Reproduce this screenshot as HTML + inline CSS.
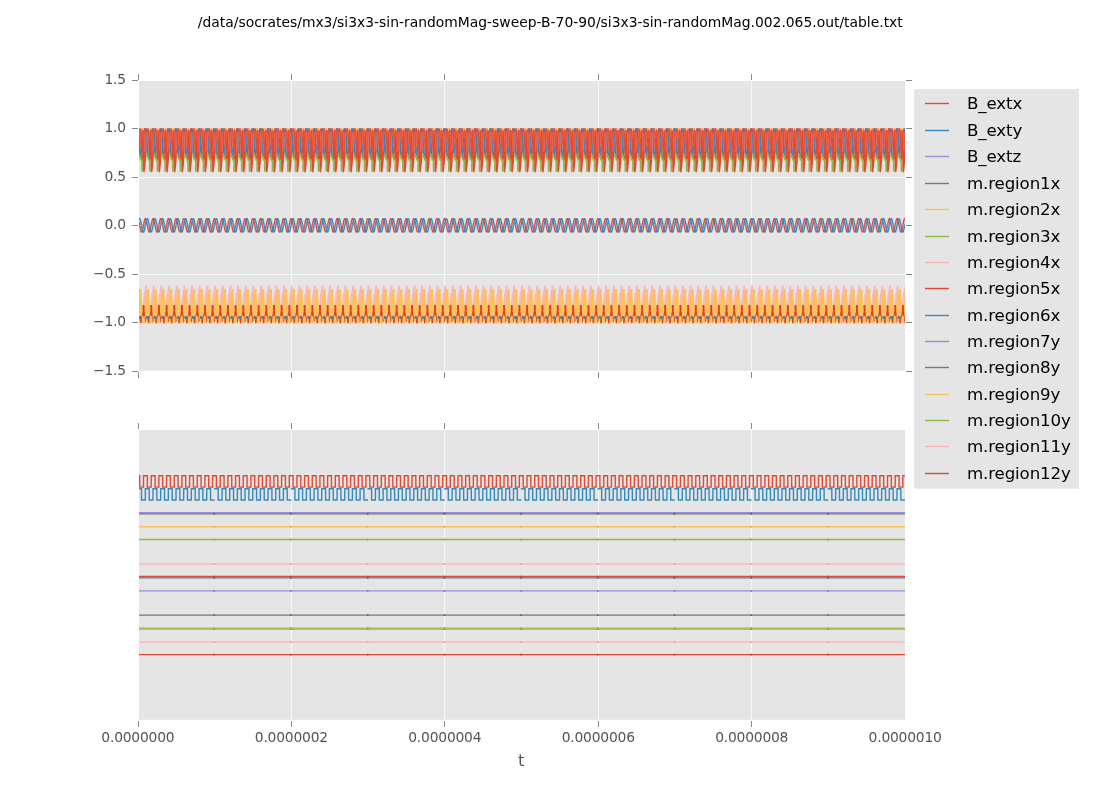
<!DOCTYPE html>
<html lang="en"><head><meta charset="utf-8"><title>table.txt plot</title>
<style>html,body{margin:0;padding:0;background:#fff;}body{width:1100px;height:800px;overflow:hidden;}svg{display:block;}text{font-family:"DejaVu Sans", "Liberation Sans", sans-serif;}</style></head><body>
<svg width="1100" height="800" viewBox="0 0 1100 800">
<rect width="1100" height="800" fill="#fff"/>
<text x="550.3" y="26.5" font-size="13.89" text-anchor="middle" fill="#000">/data/socrates/mx3/si3x3-sin-randomMag-sweep-B-70-90/si3x3-sin-randomMag.002.065.out/table.txt</text>
<rect x="139.00" y="81.00" width="766.00" height="289.80" fill="#E5E5E5"/>
<rect x="139.00" y="430.00" width="766.00" height="289.80" fill="#E5E5E5"/>
<path d="M291.50 81.00V371.00M291.50 430.00V720.00M444.50 81.00V371.00M444.50 430.00V720.00M598.50 81.00V371.00M598.50 430.00V720.00M751.50 81.00V371.00M751.50 430.00V720.00M139.00 128.50H905.00M139.00 177.50H905.00M139.00 225.50H905.00M139.00 274.50H905.00M139.00 322.50H905.00" stroke="#fff" stroke-width="0.72" fill="none"/>
<defs><clipPath id="ct"><rect x="139" y="81" width="766" height="290"/></clipPath><clipPath id="cb"><rect x="139" y="430" width="766" height="290"/></clipPath></defs>
<g clip-path="url(#ct)">
<path d="M130.93 150.00L133.53 156.00L135.43 158.00L135.43 171.60L133.58 171.80L133.53 161.00L132.23 160.30L132.13 158.00L130.93 157.50ZM138.60 150.00L141.20 156.00L143.10 158.00L143.10 171.60L141.25 171.80L141.20 161.00L139.90 160.30L139.80 158.00L138.60 157.50ZM146.27 150.00L148.87 156.00L150.77 158.00L150.77 171.60L148.92 171.80L148.87 161.00L147.57 160.30L147.47 158.00L146.27 157.50ZM153.94 150.00L156.54 156.00L158.44 158.00L158.44 171.60L156.59 171.80L156.54 161.00L155.24 160.30L155.14 158.00L153.94 157.50ZM161.61 150.00L164.21 156.00L166.11 158.00L166.11 171.60L164.26 171.80L164.21 161.00L162.91 160.30L162.81 158.00L161.61 157.50ZM169.28 150.00L171.88 156.00L173.78 158.00L173.78 171.60L171.93 171.80L171.88 161.00L170.58 160.30L170.48 158.00L169.28 157.50ZM176.95 150.00L179.55 156.00L181.45 158.00L181.45 171.60L179.60 171.80L179.55 161.00L178.25 160.30L178.15 158.00L176.95 157.50ZM184.62 150.00L187.22 156.00L189.12 158.00L189.12 171.60L187.27 171.80L187.22 161.00L185.92 160.30L185.82 158.00L184.62 157.50ZM192.29 150.00L194.89 156.00L196.79 158.00L196.79 171.60L194.94 171.80L194.89 161.00L193.59 160.30L193.49 158.00L192.29 157.50ZM199.96 150.00L202.56 156.00L204.46 158.00L204.46 171.60L202.61 171.80L202.56 161.00L201.26 160.30L201.16 158.00L199.96 157.50ZM207.63 150.00L210.23 156.00L212.13 158.00L212.13 171.60L210.28 171.80L210.23 161.00L208.93 160.30L208.83 158.00L207.63 157.50ZM215.30 150.00L217.90 156.00L219.80 158.00L219.80 171.60L217.95 171.80L217.90 161.00L216.60 160.30L216.50 158.00L215.30 157.50ZM222.97 150.00L225.57 156.00L227.47 158.00L227.47 171.60L225.62 171.80L225.57 161.00L224.27 160.30L224.17 158.00L222.97 157.50ZM230.64 150.00L233.24 156.00L235.14 158.00L235.14 171.60L233.29 171.80L233.24 161.00L231.94 160.30L231.84 158.00L230.64 157.50ZM238.31 150.00L240.91 156.00L242.81 158.00L242.81 171.60L240.96 171.80L240.91 161.00L239.61 160.30L239.51 158.00L238.31 157.50ZM245.98 150.00L248.58 156.00L250.48 158.00L250.48 171.60L248.63 171.80L248.58 161.00L247.28 160.30L247.18 158.00L245.98 157.50ZM253.65 150.00L256.25 156.00L258.15 158.00L258.15 171.60L256.30 171.80L256.25 161.00L254.95 160.30L254.85 158.00L253.65 157.50ZM261.32 150.00L263.92 156.00L265.82 158.00L265.82 171.60L263.97 171.80L263.92 161.00L262.62 160.30L262.52 158.00L261.32 157.50ZM268.99 150.00L271.59 156.00L273.49 158.00L273.49 171.60L271.64 171.80L271.59 161.00L270.29 160.30L270.19 158.00L268.99 157.50ZM276.66 150.00L279.26 156.00L281.16 158.00L281.16 171.60L279.31 171.80L279.26 161.00L277.96 160.30L277.86 158.00L276.66 157.50ZM284.33 150.00L286.93 156.00L288.83 158.00L288.83 171.60L286.98 171.80L286.93 161.00L285.63 160.30L285.53 158.00L284.33 157.50ZM292.00 150.00L294.60 156.00L296.50 158.00L296.50 171.60L294.65 171.80L294.60 161.00L293.30 160.30L293.20 158.00L292.00 157.50ZM299.67 150.00L302.27 156.00L304.17 158.00L304.17 171.60L302.32 171.80L302.27 161.00L300.97 160.30L300.87 158.00L299.67 157.50ZM307.34 150.00L309.94 156.00L311.84 158.00L311.84 171.60L309.99 171.80L309.94 161.00L308.64 160.30L308.54 158.00L307.34 157.50ZM315.01 150.00L317.61 156.00L319.51 158.00L319.51 171.60L317.66 171.80L317.61 161.00L316.31 160.30L316.21 158.00L315.01 157.50ZM322.68 150.00L325.28 156.00L327.18 158.00L327.18 171.60L325.33 171.80L325.28 161.00L323.98 160.30L323.88 158.00L322.68 157.50ZM330.35 150.00L332.95 156.00L334.85 158.00L334.85 171.60L333.00 171.80L332.95 161.00L331.65 160.30L331.55 158.00L330.35 157.50ZM338.02 150.00L340.62 156.00L342.52 158.00L342.52 171.60L340.67 171.80L340.62 161.00L339.32 160.30L339.22 158.00L338.02 157.50ZM345.69 150.00L348.29 156.00L350.19 158.00L350.19 171.60L348.34 171.80L348.29 161.00L346.99 160.30L346.89 158.00L345.69 157.50ZM353.36 150.00L355.96 156.00L357.86 158.00L357.86 171.60L356.01 171.80L355.96 161.00L354.66 160.30L354.56 158.00L353.36 157.50ZM361.03 150.00L363.63 156.00L365.53 158.00L365.53 171.60L363.68 171.80L363.63 161.00L362.33 160.30L362.23 158.00L361.03 157.50ZM368.70 150.00L371.30 156.00L373.20 158.00L373.20 171.60L371.35 171.80L371.30 161.00L370.00 160.30L369.90 158.00L368.70 157.50ZM376.37 150.00L378.97 156.00L380.87 158.00L380.87 171.60L379.02 171.80L378.97 161.00L377.67 160.30L377.57 158.00L376.37 157.50ZM384.04 150.00L386.64 156.00L388.54 158.00L388.54 171.60L386.69 171.80L386.64 161.00L385.34 160.30L385.24 158.00L384.04 157.50ZM391.71 150.00L394.31 156.00L396.21 158.00L396.21 171.60L394.36 171.80L394.31 161.00L393.01 160.30L392.91 158.00L391.71 157.50ZM399.38 150.00L401.98 156.00L403.88 158.00L403.88 171.60L402.03 171.80L401.98 161.00L400.68 160.30L400.58 158.00L399.38 157.50ZM407.05 150.00L409.65 156.00L411.55 158.00L411.55 171.60L409.70 171.80L409.65 161.00L408.35 160.30L408.25 158.00L407.05 157.50ZM414.72 150.00L417.32 156.00L419.22 158.00L419.22 171.60L417.37 171.80L417.32 161.00L416.02 160.30L415.92 158.00L414.72 157.50ZM422.39 150.00L424.99 156.00L426.89 158.00L426.89 171.60L425.04 171.80L424.99 161.00L423.69 160.30L423.59 158.00L422.39 157.50ZM430.06 150.00L432.66 156.00L434.56 158.00L434.56 171.60L432.71 171.80L432.66 161.00L431.36 160.30L431.26 158.00L430.06 157.50ZM437.73 150.00L440.33 156.00L442.23 158.00L442.23 171.60L440.38 171.80L440.33 161.00L439.03 160.30L438.93 158.00L437.73 157.50ZM445.40 150.00L448.00 156.00L449.90 158.00L449.90 171.60L448.05 171.80L448.00 161.00L446.70 160.30L446.60 158.00L445.40 157.50ZM453.07 150.00L455.67 156.00L457.57 158.00L457.57 171.60L455.72 171.80L455.67 161.00L454.37 160.30L454.27 158.00L453.07 157.50ZM460.74 150.00L463.34 156.00L465.24 158.00L465.24 171.60L463.39 171.80L463.34 161.00L462.04 160.30L461.94 158.00L460.74 157.50ZM468.41 150.00L471.01 156.00L472.91 158.00L472.91 171.60L471.06 171.80L471.01 161.00L469.71 160.30L469.61 158.00L468.41 157.50ZM476.08 150.00L478.68 156.00L480.58 158.00L480.58 171.60L478.73 171.80L478.68 161.00L477.38 160.30L477.28 158.00L476.08 157.50ZM483.75 150.00L486.35 156.00L488.25 158.00L488.25 171.60L486.40 171.80L486.35 161.00L485.05 160.30L484.95 158.00L483.75 157.50ZM491.42 150.00L494.02 156.00L495.92 158.00L495.92 171.60L494.07 171.80L494.02 161.00L492.72 160.30L492.62 158.00L491.42 157.50ZM499.09 150.00L501.69 156.00L503.59 158.00L503.59 171.60L501.74 171.80L501.69 161.00L500.39 160.30L500.29 158.00L499.09 157.50ZM506.76 150.00L509.36 156.00L511.26 158.00L511.26 171.60L509.41 171.80L509.36 161.00L508.06 160.30L507.96 158.00L506.76 157.50ZM514.43 150.00L517.03 156.00L518.93 158.00L518.93 171.60L517.08 171.80L517.03 161.00L515.73 160.30L515.63 158.00L514.43 157.50ZM522.10 150.00L524.70 156.00L526.60 158.00L526.60 171.60L524.75 171.80L524.70 161.00L523.40 160.30L523.30 158.00L522.10 157.50ZM529.77 150.00L532.37 156.00L534.27 158.00L534.27 171.60L532.42 171.80L532.37 161.00L531.07 160.30L530.97 158.00L529.77 157.50ZM537.44 150.00L540.04 156.00L541.94 158.00L541.94 171.60L540.09 171.80L540.04 161.00L538.74 160.30L538.64 158.00L537.44 157.50ZM545.11 150.00L547.71 156.00L549.61 158.00L549.61 171.60L547.76 171.80L547.71 161.00L546.41 160.30L546.31 158.00L545.11 157.50ZM552.78 150.00L555.38 156.00L557.28 158.00L557.28 171.60L555.43 171.80L555.38 161.00L554.08 160.30L553.98 158.00L552.78 157.50ZM560.45 150.00L563.05 156.00L564.95 158.00L564.95 171.60L563.10 171.80L563.05 161.00L561.75 160.30L561.65 158.00L560.45 157.50ZM568.12 150.00L570.72 156.00L572.62 158.00L572.62 171.60L570.77 171.80L570.72 161.00L569.42 160.30L569.32 158.00L568.12 157.50ZM575.79 150.00L578.39 156.00L580.29 158.00L580.29 171.60L578.44 171.80L578.39 161.00L577.09 160.30L576.99 158.00L575.79 157.50ZM583.46 150.00L586.06 156.00L587.96 158.00L587.96 171.60L586.11 171.80L586.06 161.00L584.76 160.30L584.66 158.00L583.46 157.50ZM591.13 150.00L593.73 156.00L595.63 158.00L595.63 171.60L593.78 171.80L593.73 161.00L592.43 160.30L592.33 158.00L591.13 157.50ZM598.80 150.00L601.40 156.00L603.30 158.00L603.30 171.60L601.45 171.80L601.40 161.00L600.10 160.30L600.00 158.00L598.80 157.50ZM606.47 150.00L609.07 156.00L610.97 158.00L610.97 171.60L609.12 171.80L609.07 161.00L607.77 160.30L607.67 158.00L606.47 157.50ZM614.14 150.00L616.74 156.00L618.64 158.00L618.64 171.60L616.79 171.80L616.74 161.00L615.44 160.30L615.34 158.00L614.14 157.50ZM621.81 150.00L624.41 156.00L626.31 158.00L626.31 171.60L624.46 171.80L624.41 161.00L623.11 160.30L623.01 158.00L621.81 157.50ZM629.48 150.00L632.08 156.00L633.98 158.00L633.98 171.60L632.13 171.80L632.08 161.00L630.78 160.30L630.68 158.00L629.48 157.50ZM637.15 150.00L639.75 156.00L641.65 158.00L641.65 171.60L639.80 171.80L639.75 161.00L638.45 160.30L638.35 158.00L637.15 157.50ZM644.82 150.00L647.42 156.00L649.32 158.00L649.32 171.60L647.47 171.80L647.42 161.00L646.12 160.30L646.02 158.00L644.82 157.50ZM652.49 150.00L655.09 156.00L656.99 158.00L656.99 171.60L655.14 171.80L655.09 161.00L653.79 160.30L653.69 158.00L652.49 157.50ZM660.16 150.00L662.76 156.00L664.66 158.00L664.66 171.60L662.81 171.80L662.76 161.00L661.46 160.30L661.36 158.00L660.16 157.50ZM667.83 150.00L670.43 156.00L672.33 158.00L672.33 171.60L670.48 171.80L670.43 161.00L669.13 160.30L669.03 158.00L667.83 157.50ZM675.50 150.00L678.10 156.00L680.00 158.00L680.00 171.60L678.15 171.80L678.10 161.00L676.80 160.30L676.70 158.00L675.50 157.50ZM683.17 150.00L685.77 156.00L687.67 158.00L687.67 171.60L685.82 171.80L685.77 161.00L684.47 160.30L684.37 158.00L683.17 157.50ZM690.84 150.00L693.44 156.00L695.34 158.00L695.34 171.60L693.49 171.80L693.44 161.00L692.14 160.30L692.04 158.00L690.84 157.50ZM698.51 150.00L701.11 156.00L703.01 158.00L703.01 171.60L701.16 171.80L701.11 161.00L699.81 160.30L699.71 158.00L698.51 157.50ZM706.18 150.00L708.78 156.00L710.68 158.00L710.68 171.60L708.83 171.80L708.78 161.00L707.48 160.30L707.38 158.00L706.18 157.50ZM713.85 150.00L716.45 156.00L718.35 158.00L718.35 171.60L716.50 171.80L716.45 161.00L715.15 160.30L715.05 158.00L713.85 157.50ZM721.52 150.00L724.12 156.00L726.02 158.00L726.02 171.60L724.17 171.80L724.12 161.00L722.82 160.30L722.72 158.00L721.52 157.50ZM729.19 150.00L731.79 156.00L733.69 158.00L733.69 171.60L731.84 171.80L731.79 161.00L730.49 160.30L730.39 158.00L729.19 157.50ZM736.86 150.00L739.46 156.00L741.36 158.00L741.36 171.60L739.51 171.80L739.46 161.00L738.16 160.30L738.06 158.00L736.86 157.50ZM744.53 150.00L747.13 156.00L749.03 158.00L749.03 171.60L747.18 171.80L747.13 161.00L745.83 160.30L745.73 158.00L744.53 157.50ZM752.20 150.00L754.80 156.00L756.70 158.00L756.70 171.60L754.85 171.80L754.80 161.00L753.50 160.30L753.40 158.00L752.20 157.50ZM759.87 150.00L762.47 156.00L764.37 158.00L764.37 171.60L762.52 171.80L762.47 161.00L761.17 160.30L761.07 158.00L759.87 157.50ZM767.54 150.00L770.14 156.00L772.04 158.00L772.04 171.60L770.19 171.80L770.14 161.00L768.84 160.30L768.74 158.00L767.54 157.50ZM775.21 150.00L777.81 156.00L779.71 158.00L779.71 171.60L777.86 171.80L777.81 161.00L776.51 160.30L776.41 158.00L775.21 157.50ZM782.88 150.00L785.48 156.00L787.38 158.00L787.38 171.60L785.53 171.80L785.48 161.00L784.18 160.30L784.08 158.00L782.88 157.50ZM790.55 150.00L793.15 156.00L795.05 158.00L795.05 171.60L793.20 171.80L793.15 161.00L791.85 160.30L791.75 158.00L790.55 157.50ZM798.22 150.00L800.82 156.00L802.72 158.00L802.72 171.60L800.87 171.80L800.82 161.00L799.52 160.30L799.42 158.00L798.22 157.50ZM805.89 150.00L808.49 156.00L810.39 158.00L810.39 171.60L808.54 171.80L808.49 161.00L807.19 160.30L807.09 158.00L805.89 157.50ZM813.56 150.00L816.16 156.00L818.06 158.00L818.06 171.60L816.21 171.80L816.16 161.00L814.86 160.30L814.76 158.00L813.56 157.50ZM821.23 150.00L823.83 156.00L825.73 158.00L825.73 171.60L823.88 171.80L823.83 161.00L822.53 160.30L822.43 158.00L821.23 157.50ZM828.90 150.00L831.50 156.00L833.40 158.00L833.40 171.60L831.55 171.80L831.50 161.00L830.20 160.30L830.10 158.00L828.90 157.50ZM836.57 150.00L839.17 156.00L841.07 158.00L841.07 171.60L839.22 171.80L839.17 161.00L837.87 160.30L837.77 158.00L836.57 157.50ZM844.24 150.00L846.84 156.00L848.74 158.00L848.74 171.60L846.89 171.80L846.84 161.00L845.54 160.30L845.44 158.00L844.24 157.50ZM851.91 150.00L854.51 156.00L856.41 158.00L856.41 171.60L854.56 171.80L854.51 161.00L853.21 160.30L853.11 158.00L851.91 157.50ZM859.58 150.00L862.18 156.00L864.08 158.00L864.08 171.60L862.23 171.80L862.18 161.00L860.88 160.30L860.78 158.00L859.58 157.50ZM867.25 150.00L869.85 156.00L871.75 158.00L871.75 171.60L869.90 171.80L869.85 161.00L868.55 160.30L868.45 158.00L867.25 157.50ZM874.92 150.00L877.52 156.00L879.42 158.00L879.42 171.60L877.57 171.80L877.52 161.00L876.22 160.30L876.12 158.00L874.92 157.50ZM882.59 150.00L885.19 156.00L887.09 158.00L887.09 171.60L885.24 171.80L885.19 161.00L883.89 160.30L883.79 158.00L882.59 157.50ZM890.26 150.00L892.86 156.00L894.76 158.00L894.76 171.60L892.91 171.80L892.86 161.00L891.56 160.30L891.46 158.00L890.26 157.50ZM897.93 150.00L900.53 156.00L902.43 158.00L902.43 171.60L900.58 171.80L900.53 161.00L899.23 160.30L899.13 158.00L897.93 157.50ZM905.60 150.00L908.20 156.00L910.10 158.00L910.10 171.60L908.25 171.80L908.20 161.00L906.90 160.30L906.80 158.00L905.60 157.50Z" fill="#8EBA42" />
<path d="M130.73 130.00L131.73 130.00L133.53 154.00L133.53 157.00L130.93 152.00ZM138.40 130.00L139.40 130.00L141.20 154.00L141.20 157.00L138.60 152.00ZM146.07 130.00L147.07 130.00L148.87 154.00L148.87 157.00L146.27 152.00ZM153.74 130.00L154.74 130.00L156.54 154.00L156.54 157.00L153.94 152.00ZM161.41 130.00L162.41 130.00L164.21 154.00L164.21 157.00L161.61 152.00ZM169.08 130.00L170.08 130.00L171.88 154.00L171.88 157.00L169.28 152.00ZM176.75 130.00L177.75 130.00L179.55 154.00L179.55 157.00L176.95 152.00ZM184.42 130.00L185.42 130.00L187.22 154.00L187.22 157.00L184.62 152.00ZM192.09 130.00L193.09 130.00L194.89 154.00L194.89 157.00L192.29 152.00ZM199.76 130.00L200.76 130.00L202.56 154.00L202.56 157.00L199.96 152.00ZM207.43 130.00L208.43 130.00L210.23 154.00L210.23 157.00L207.63 152.00ZM215.10 130.00L216.10 130.00L217.90 154.00L217.90 157.00L215.30 152.00ZM222.77 130.00L223.77 130.00L225.57 154.00L225.57 157.00L222.97 152.00ZM230.44 130.00L231.44 130.00L233.24 154.00L233.24 157.00L230.64 152.00ZM238.11 130.00L239.11 130.00L240.91 154.00L240.91 157.00L238.31 152.00ZM245.78 130.00L246.78 130.00L248.58 154.00L248.58 157.00L245.98 152.00ZM253.45 130.00L254.45 130.00L256.25 154.00L256.25 157.00L253.65 152.00ZM261.12 130.00L262.12 130.00L263.92 154.00L263.92 157.00L261.32 152.00ZM268.79 130.00L269.79 130.00L271.59 154.00L271.59 157.00L268.99 152.00ZM276.46 130.00L277.46 130.00L279.26 154.00L279.26 157.00L276.66 152.00ZM284.13 130.00L285.13 130.00L286.93 154.00L286.93 157.00L284.33 152.00ZM291.80 130.00L292.80 130.00L294.60 154.00L294.60 157.00L292.00 152.00ZM299.47 130.00L300.47 130.00L302.27 154.00L302.27 157.00L299.67 152.00ZM307.14 130.00L308.14 130.00L309.94 154.00L309.94 157.00L307.34 152.00ZM314.81 130.00L315.81 130.00L317.61 154.00L317.61 157.00L315.01 152.00ZM322.48 130.00L323.48 130.00L325.28 154.00L325.28 157.00L322.68 152.00ZM330.15 130.00L331.15 130.00L332.95 154.00L332.95 157.00L330.35 152.00ZM337.82 130.00L338.82 130.00L340.62 154.00L340.62 157.00L338.02 152.00ZM345.49 130.00L346.49 130.00L348.29 154.00L348.29 157.00L345.69 152.00ZM353.16 130.00L354.16 130.00L355.96 154.00L355.96 157.00L353.36 152.00ZM360.83 130.00L361.83 130.00L363.63 154.00L363.63 157.00L361.03 152.00ZM368.50 130.00L369.50 130.00L371.30 154.00L371.30 157.00L368.70 152.00ZM376.17 130.00L377.17 130.00L378.97 154.00L378.97 157.00L376.37 152.00ZM383.84 130.00L384.84 130.00L386.64 154.00L386.64 157.00L384.04 152.00ZM391.51 130.00L392.51 130.00L394.31 154.00L394.31 157.00L391.71 152.00ZM399.18 130.00L400.18 130.00L401.98 154.00L401.98 157.00L399.38 152.00ZM406.85 130.00L407.85 130.00L409.65 154.00L409.65 157.00L407.05 152.00ZM414.52 130.00L415.52 130.00L417.32 154.00L417.32 157.00L414.72 152.00ZM422.19 130.00L423.19 130.00L424.99 154.00L424.99 157.00L422.39 152.00ZM429.86 130.00L430.86 130.00L432.66 154.00L432.66 157.00L430.06 152.00ZM437.53 130.00L438.53 130.00L440.33 154.00L440.33 157.00L437.73 152.00ZM445.20 130.00L446.20 130.00L448.00 154.00L448.00 157.00L445.40 152.00ZM452.87 130.00L453.87 130.00L455.67 154.00L455.67 157.00L453.07 152.00ZM460.54 130.00L461.54 130.00L463.34 154.00L463.34 157.00L460.74 152.00ZM468.21 130.00L469.21 130.00L471.01 154.00L471.01 157.00L468.41 152.00ZM475.88 130.00L476.88 130.00L478.68 154.00L478.68 157.00L476.08 152.00ZM483.55 130.00L484.55 130.00L486.35 154.00L486.35 157.00L483.75 152.00ZM491.22 130.00L492.22 130.00L494.02 154.00L494.02 157.00L491.42 152.00ZM498.89 130.00L499.89 130.00L501.69 154.00L501.69 157.00L499.09 152.00ZM506.56 130.00L507.56 130.00L509.36 154.00L509.36 157.00L506.76 152.00ZM514.23 130.00L515.23 130.00L517.03 154.00L517.03 157.00L514.43 152.00ZM521.90 130.00L522.90 130.00L524.70 154.00L524.70 157.00L522.10 152.00ZM529.57 130.00L530.57 130.00L532.37 154.00L532.37 157.00L529.77 152.00ZM537.24 130.00L538.24 130.00L540.04 154.00L540.04 157.00L537.44 152.00ZM544.91 130.00L545.91 130.00L547.71 154.00L547.71 157.00L545.11 152.00ZM552.58 130.00L553.58 130.00L555.38 154.00L555.38 157.00L552.78 152.00ZM560.25 130.00L561.25 130.00L563.05 154.00L563.05 157.00L560.45 152.00ZM567.92 130.00L568.92 130.00L570.72 154.00L570.72 157.00L568.12 152.00ZM575.59 130.00L576.59 130.00L578.39 154.00L578.39 157.00L575.79 152.00ZM583.26 130.00L584.26 130.00L586.06 154.00L586.06 157.00L583.46 152.00ZM590.93 130.00L591.93 130.00L593.73 154.00L593.73 157.00L591.13 152.00ZM598.60 130.00L599.60 130.00L601.40 154.00L601.40 157.00L598.80 152.00ZM606.27 130.00L607.27 130.00L609.07 154.00L609.07 157.00L606.47 152.00ZM613.94 130.00L614.94 130.00L616.74 154.00L616.74 157.00L614.14 152.00ZM621.61 130.00L622.61 130.00L624.41 154.00L624.41 157.00L621.81 152.00ZM629.28 130.00L630.28 130.00L632.08 154.00L632.08 157.00L629.48 152.00ZM636.95 130.00L637.95 130.00L639.75 154.00L639.75 157.00L637.15 152.00ZM644.62 130.00L645.62 130.00L647.42 154.00L647.42 157.00L644.82 152.00ZM652.29 130.00L653.29 130.00L655.09 154.00L655.09 157.00L652.49 152.00ZM659.96 130.00L660.96 130.00L662.76 154.00L662.76 157.00L660.16 152.00ZM667.63 130.00L668.63 130.00L670.43 154.00L670.43 157.00L667.83 152.00ZM675.30 130.00L676.30 130.00L678.10 154.00L678.10 157.00L675.50 152.00ZM682.97 130.00L683.97 130.00L685.77 154.00L685.77 157.00L683.17 152.00ZM690.64 130.00L691.64 130.00L693.44 154.00L693.44 157.00L690.84 152.00ZM698.31 130.00L699.31 130.00L701.11 154.00L701.11 157.00L698.51 152.00ZM705.98 130.00L706.98 130.00L708.78 154.00L708.78 157.00L706.18 152.00ZM713.65 130.00L714.65 130.00L716.45 154.00L716.45 157.00L713.85 152.00ZM721.32 130.00L722.32 130.00L724.12 154.00L724.12 157.00L721.52 152.00ZM728.99 130.00L729.99 130.00L731.79 154.00L731.79 157.00L729.19 152.00ZM736.66 130.00L737.66 130.00L739.46 154.00L739.46 157.00L736.86 152.00ZM744.33 130.00L745.33 130.00L747.13 154.00L747.13 157.00L744.53 152.00ZM752.00 130.00L753.00 130.00L754.80 154.00L754.80 157.00L752.20 152.00ZM759.67 130.00L760.67 130.00L762.47 154.00L762.47 157.00L759.87 152.00ZM767.34 130.00L768.34 130.00L770.14 154.00L770.14 157.00L767.54 152.00ZM775.01 130.00L776.01 130.00L777.81 154.00L777.81 157.00L775.21 152.00ZM782.68 130.00L783.68 130.00L785.48 154.00L785.48 157.00L782.88 152.00ZM790.35 130.00L791.35 130.00L793.15 154.00L793.15 157.00L790.55 152.00ZM798.02 130.00L799.02 130.00L800.82 154.00L800.82 157.00L798.22 152.00ZM805.69 130.00L806.69 130.00L808.49 154.00L808.49 157.00L805.89 152.00ZM813.36 130.00L814.36 130.00L816.16 154.00L816.16 157.00L813.56 152.00ZM821.03 130.00L822.03 130.00L823.83 154.00L823.83 157.00L821.23 152.00ZM828.70 130.00L829.70 130.00L831.50 154.00L831.50 157.00L828.90 152.00ZM836.37 130.00L837.37 130.00L839.17 154.00L839.17 157.00L836.57 152.00ZM844.04 130.00L845.04 130.00L846.84 154.00L846.84 157.00L844.24 152.00ZM851.71 130.00L852.71 130.00L854.51 154.00L854.51 157.00L851.91 152.00ZM859.38 130.00L860.38 130.00L862.18 154.00L862.18 157.00L859.58 152.00ZM867.05 130.00L868.05 130.00L869.85 154.00L869.85 157.00L867.25 152.00ZM874.72 130.00L875.72 130.00L877.52 154.00L877.52 157.00L874.92 152.00ZM882.39 130.00L883.39 130.00L885.19 154.00L885.19 157.00L882.59 152.00ZM890.06 130.00L891.06 130.00L892.86 154.00L892.86 157.00L890.26 152.00ZM897.73 130.00L898.73 130.00L900.53 154.00L900.53 157.00L897.93 152.00ZM905.40 130.00L906.40 130.00L908.20 154.00L908.20 157.00L905.60 152.00Z" fill="#348ABD" />
<path d="M131.33 128.30L139.00 128.30L139.00 131.00L138.60 135.00L138.58 152.00L138.28 160.00L137.33 170.30L136.83 172.40L135.83 172.20L135.43 171.20L135.33 159.50L133.58 158.50L133.53 154.00L132.73 145.00L131.58 135.00ZM139.00 128.30L146.67 128.30L146.67 131.00L146.27 135.00L146.25 152.00L145.95 160.00L145.00 170.30L144.50 172.40L143.50 172.20L143.10 171.20L143.00 159.50L141.25 158.50L141.20 154.00L140.40 145.00L139.25 135.00ZM146.67 128.30L154.34 128.30L154.34 131.00L153.94 135.00L153.92 152.00L153.62 160.00L152.67 170.30L152.17 172.40L151.17 172.20L150.77 171.20L150.67 159.50L148.92 158.50L148.87 154.00L148.07 145.00L146.92 135.00ZM154.34 128.30L162.01 128.30L162.01 131.00L161.61 135.00L161.59 152.00L161.29 160.00L160.34 170.30L159.84 172.40L158.84 172.20L158.44 171.20L158.34 159.50L156.59 158.50L156.54 154.00L155.74 145.00L154.59 135.00ZM162.01 128.30L169.68 128.30L169.68 131.00L169.28 135.00L169.26 152.00L168.96 160.00L168.01 170.30L167.51 172.40L166.51 172.20L166.11 171.20L166.01 159.50L164.26 158.50L164.21 154.00L163.41 145.00L162.26 135.00ZM169.68 128.30L177.35 128.30L177.35 131.00L176.95 135.00L176.93 152.00L176.63 160.00L175.68 170.30L175.18 172.40L174.18 172.20L173.78 171.20L173.68 159.50L171.93 158.50L171.88 154.00L171.08 145.00L169.93 135.00ZM177.35 128.30L185.02 128.30L185.02 131.00L184.62 135.00L184.60 152.00L184.30 160.00L183.35 170.30L182.85 172.40L181.85 172.20L181.45 171.20L181.35 159.50L179.60 158.50L179.55 154.00L178.75 145.00L177.60 135.00ZM185.02 128.30L192.69 128.30L192.69 131.00L192.29 135.00L192.27 152.00L191.97 160.00L191.02 170.30L190.52 172.40L189.52 172.20L189.12 171.20L189.02 159.50L187.27 158.50L187.22 154.00L186.42 145.00L185.27 135.00ZM192.69 128.30L200.36 128.30L200.36 131.00L199.96 135.00L199.94 152.00L199.64 160.00L198.69 170.30L198.19 172.40L197.19 172.20L196.79 171.20L196.69 159.50L194.94 158.50L194.89 154.00L194.09 145.00L192.94 135.00ZM200.36 128.30L208.03 128.30L208.03 131.00L207.63 135.00L207.61 152.00L207.31 160.00L206.36 170.30L205.86 172.40L204.86 172.20L204.46 171.20L204.36 159.50L202.61 158.50L202.56 154.00L201.76 145.00L200.61 135.00ZM208.03 128.30L215.70 128.30L215.70 131.00L215.30 135.00L215.28 152.00L214.98 160.00L214.03 170.30L213.53 172.40L212.53 172.20L212.13 171.20L212.03 159.50L210.28 158.50L210.23 154.00L209.43 145.00L208.28 135.00ZM215.70 128.30L223.37 128.30L223.37 131.00L222.97 135.00L222.95 152.00L222.65 160.00L221.70 170.30L221.20 172.40L220.20 172.20L219.80 171.20L219.70 159.50L217.95 158.50L217.90 154.00L217.10 145.00L215.95 135.00ZM223.37 128.30L231.04 128.30L231.04 131.00L230.64 135.00L230.62 152.00L230.32 160.00L229.37 170.30L228.87 172.40L227.87 172.20L227.47 171.20L227.37 159.50L225.62 158.50L225.57 154.00L224.77 145.00L223.62 135.00ZM231.04 128.30L238.71 128.30L238.71 131.00L238.31 135.00L238.29 152.00L237.99 160.00L237.04 170.30L236.54 172.40L235.54 172.20L235.14 171.20L235.04 159.50L233.29 158.50L233.24 154.00L232.44 145.00L231.29 135.00ZM238.71 128.30L246.38 128.30L246.38 131.00L245.98 135.00L245.96 152.00L245.66 160.00L244.71 170.30L244.21 172.40L243.21 172.20L242.81 171.20L242.71 159.50L240.96 158.50L240.91 154.00L240.11 145.00L238.96 135.00ZM246.38 128.30L254.05 128.30L254.05 131.00L253.65 135.00L253.63 152.00L253.33 160.00L252.38 170.30L251.88 172.40L250.88 172.20L250.48 171.20L250.38 159.50L248.63 158.50L248.58 154.00L247.78 145.00L246.63 135.00ZM254.05 128.30L261.72 128.30L261.72 131.00L261.32 135.00L261.30 152.00L261.00 160.00L260.05 170.30L259.55 172.40L258.55 172.20L258.15 171.20L258.05 159.50L256.30 158.50L256.25 154.00L255.45 145.00L254.30 135.00ZM261.72 128.30L269.39 128.30L269.39 131.00L268.99 135.00L268.97 152.00L268.67 160.00L267.72 170.30L267.22 172.40L266.22 172.20L265.82 171.20L265.72 159.50L263.97 158.50L263.92 154.00L263.12 145.00L261.97 135.00ZM269.39 128.30L277.06 128.30L277.06 131.00L276.66 135.00L276.64 152.00L276.34 160.00L275.39 170.30L274.89 172.40L273.89 172.20L273.49 171.20L273.39 159.50L271.64 158.50L271.59 154.00L270.79 145.00L269.64 135.00ZM277.06 128.30L284.73 128.30L284.73 131.00L284.33 135.00L284.31 152.00L284.01 160.00L283.06 170.30L282.56 172.40L281.56 172.20L281.16 171.20L281.06 159.50L279.31 158.50L279.26 154.00L278.46 145.00L277.31 135.00ZM284.73 128.30L292.40 128.30L292.40 131.00L292.00 135.00L291.98 152.00L291.68 160.00L290.73 170.30L290.23 172.40L289.23 172.20L288.83 171.20L288.73 159.50L286.98 158.50L286.93 154.00L286.13 145.00L284.98 135.00ZM292.40 128.30L300.07 128.30L300.07 131.00L299.67 135.00L299.65 152.00L299.35 160.00L298.40 170.30L297.90 172.40L296.90 172.20L296.50 171.20L296.40 159.50L294.65 158.50L294.60 154.00L293.80 145.00L292.65 135.00ZM300.07 128.30L307.74 128.30L307.74 131.00L307.34 135.00L307.32 152.00L307.02 160.00L306.07 170.30L305.57 172.40L304.57 172.20L304.17 171.20L304.07 159.50L302.32 158.50L302.27 154.00L301.47 145.00L300.32 135.00ZM307.74 128.30L315.41 128.30L315.41 131.00L315.01 135.00L314.99 152.00L314.69 160.00L313.74 170.30L313.24 172.40L312.24 172.20L311.84 171.20L311.74 159.50L309.99 158.50L309.94 154.00L309.14 145.00L307.99 135.00ZM315.41 128.30L323.08 128.30L323.08 131.00L322.68 135.00L322.66 152.00L322.36 160.00L321.41 170.30L320.91 172.40L319.91 172.20L319.51 171.20L319.41 159.50L317.66 158.50L317.61 154.00L316.81 145.00L315.66 135.00ZM323.08 128.30L330.75 128.30L330.75 131.00L330.35 135.00L330.33 152.00L330.03 160.00L329.08 170.30L328.58 172.40L327.58 172.20L327.18 171.20L327.08 159.50L325.33 158.50L325.28 154.00L324.48 145.00L323.33 135.00ZM330.75 128.30L338.42 128.30L338.42 131.00L338.02 135.00L338.00 152.00L337.70 160.00L336.75 170.30L336.25 172.40L335.25 172.20L334.85 171.20L334.75 159.50L333.00 158.50L332.95 154.00L332.15 145.00L331.00 135.00ZM338.42 128.30L346.09 128.30L346.09 131.00L345.69 135.00L345.67 152.00L345.37 160.00L344.42 170.30L343.92 172.40L342.92 172.20L342.52 171.20L342.42 159.50L340.67 158.50L340.62 154.00L339.82 145.00L338.67 135.00ZM346.09 128.30L353.76 128.30L353.76 131.00L353.36 135.00L353.34 152.00L353.04 160.00L352.09 170.30L351.59 172.40L350.59 172.20L350.19 171.20L350.09 159.50L348.34 158.50L348.29 154.00L347.49 145.00L346.34 135.00ZM353.76 128.30L361.43 128.30L361.43 131.00L361.03 135.00L361.01 152.00L360.71 160.00L359.76 170.30L359.26 172.40L358.26 172.20L357.86 171.20L357.76 159.50L356.01 158.50L355.96 154.00L355.16 145.00L354.01 135.00ZM361.43 128.30L369.10 128.30L369.10 131.00L368.70 135.00L368.68 152.00L368.38 160.00L367.43 170.30L366.93 172.40L365.93 172.20L365.53 171.20L365.43 159.50L363.68 158.50L363.63 154.00L362.83 145.00L361.68 135.00ZM369.10 128.30L376.77 128.30L376.77 131.00L376.37 135.00L376.35 152.00L376.05 160.00L375.10 170.30L374.60 172.40L373.60 172.20L373.20 171.20L373.10 159.50L371.35 158.50L371.30 154.00L370.50 145.00L369.35 135.00ZM376.77 128.30L384.44 128.30L384.44 131.00L384.04 135.00L384.02 152.00L383.72 160.00L382.77 170.30L382.27 172.40L381.27 172.20L380.87 171.20L380.77 159.50L379.02 158.50L378.97 154.00L378.17 145.00L377.02 135.00ZM384.44 128.30L392.11 128.30L392.11 131.00L391.71 135.00L391.69 152.00L391.39 160.00L390.44 170.30L389.94 172.40L388.94 172.20L388.54 171.20L388.44 159.50L386.69 158.50L386.64 154.00L385.84 145.00L384.69 135.00ZM392.11 128.30L399.78 128.30L399.78 131.00L399.38 135.00L399.36 152.00L399.06 160.00L398.11 170.30L397.61 172.40L396.61 172.20L396.21 171.20L396.11 159.50L394.36 158.50L394.31 154.00L393.51 145.00L392.36 135.00ZM399.78 128.30L407.45 128.30L407.45 131.00L407.05 135.00L407.03 152.00L406.73 160.00L405.78 170.30L405.28 172.40L404.28 172.20L403.88 171.20L403.78 159.50L402.03 158.50L401.98 154.00L401.18 145.00L400.03 135.00ZM407.45 128.30L415.12 128.30L415.12 131.00L414.72 135.00L414.70 152.00L414.40 160.00L413.45 170.30L412.95 172.40L411.95 172.20L411.55 171.20L411.45 159.50L409.70 158.50L409.65 154.00L408.85 145.00L407.70 135.00ZM415.12 128.30L422.79 128.30L422.79 131.00L422.39 135.00L422.37 152.00L422.07 160.00L421.12 170.30L420.62 172.40L419.62 172.20L419.22 171.20L419.12 159.50L417.37 158.50L417.32 154.00L416.52 145.00L415.37 135.00ZM422.79 128.30L430.46 128.30L430.46 131.00L430.06 135.00L430.04 152.00L429.74 160.00L428.79 170.30L428.29 172.40L427.29 172.20L426.89 171.20L426.79 159.50L425.04 158.50L424.99 154.00L424.19 145.00L423.04 135.00ZM430.46 128.30L438.13 128.30L438.13 131.00L437.73 135.00L437.71 152.00L437.41 160.00L436.46 170.30L435.96 172.40L434.96 172.20L434.56 171.20L434.46 159.50L432.71 158.50L432.66 154.00L431.86 145.00L430.71 135.00ZM438.13 128.30L445.80 128.30L445.80 131.00L445.40 135.00L445.38 152.00L445.08 160.00L444.13 170.30L443.63 172.40L442.63 172.20L442.23 171.20L442.13 159.50L440.38 158.50L440.33 154.00L439.53 145.00L438.38 135.00ZM445.80 128.30L453.47 128.30L453.47 131.00L453.07 135.00L453.05 152.00L452.75 160.00L451.80 170.30L451.30 172.40L450.30 172.20L449.90 171.20L449.80 159.50L448.05 158.50L448.00 154.00L447.20 145.00L446.05 135.00ZM453.47 128.30L461.14 128.30L461.14 131.00L460.74 135.00L460.72 152.00L460.42 160.00L459.47 170.30L458.97 172.40L457.97 172.20L457.57 171.20L457.47 159.50L455.72 158.50L455.67 154.00L454.87 145.00L453.72 135.00ZM461.14 128.30L468.81 128.30L468.81 131.00L468.41 135.00L468.39 152.00L468.09 160.00L467.14 170.30L466.64 172.40L465.64 172.20L465.24 171.20L465.14 159.50L463.39 158.50L463.34 154.00L462.54 145.00L461.39 135.00ZM468.81 128.30L476.48 128.30L476.48 131.00L476.08 135.00L476.06 152.00L475.76 160.00L474.81 170.30L474.31 172.40L473.31 172.20L472.91 171.20L472.81 159.50L471.06 158.50L471.01 154.00L470.21 145.00L469.06 135.00ZM476.48 128.30L484.15 128.30L484.15 131.00L483.75 135.00L483.73 152.00L483.43 160.00L482.48 170.30L481.98 172.40L480.98 172.20L480.58 171.20L480.48 159.50L478.73 158.50L478.68 154.00L477.88 145.00L476.73 135.00ZM484.15 128.30L491.82 128.30L491.82 131.00L491.42 135.00L491.40 152.00L491.10 160.00L490.15 170.30L489.65 172.40L488.65 172.20L488.25 171.20L488.15 159.50L486.40 158.50L486.35 154.00L485.55 145.00L484.40 135.00ZM491.82 128.30L499.49 128.30L499.49 131.00L499.09 135.00L499.07 152.00L498.77 160.00L497.82 170.30L497.32 172.40L496.32 172.20L495.92 171.20L495.82 159.50L494.07 158.50L494.02 154.00L493.22 145.00L492.07 135.00ZM499.49 128.30L507.16 128.30L507.16 131.00L506.76 135.00L506.74 152.00L506.44 160.00L505.49 170.30L504.99 172.40L503.99 172.20L503.59 171.20L503.49 159.50L501.74 158.50L501.69 154.00L500.89 145.00L499.74 135.00ZM507.16 128.30L514.83 128.30L514.83 131.00L514.43 135.00L514.41 152.00L514.11 160.00L513.16 170.30L512.66 172.40L511.66 172.20L511.26 171.20L511.16 159.50L509.41 158.50L509.36 154.00L508.56 145.00L507.41 135.00ZM514.83 128.30L522.50 128.30L522.50 131.00L522.10 135.00L522.08 152.00L521.78 160.00L520.83 170.30L520.33 172.40L519.33 172.20L518.93 171.20L518.83 159.50L517.08 158.50L517.03 154.00L516.23 145.00L515.08 135.00ZM522.50 128.30L530.17 128.30L530.17 131.00L529.77 135.00L529.75 152.00L529.45 160.00L528.50 170.30L528.00 172.40L527.00 172.20L526.60 171.20L526.50 159.50L524.75 158.50L524.70 154.00L523.90 145.00L522.75 135.00ZM530.17 128.30L537.84 128.30L537.84 131.00L537.44 135.00L537.42 152.00L537.12 160.00L536.17 170.30L535.67 172.40L534.67 172.20L534.27 171.20L534.17 159.50L532.42 158.50L532.37 154.00L531.57 145.00L530.42 135.00ZM537.84 128.30L545.51 128.30L545.51 131.00L545.11 135.00L545.09 152.00L544.79 160.00L543.84 170.30L543.34 172.40L542.34 172.20L541.94 171.20L541.84 159.50L540.09 158.50L540.04 154.00L539.24 145.00L538.09 135.00ZM545.51 128.30L553.18 128.30L553.18 131.00L552.78 135.00L552.76 152.00L552.46 160.00L551.51 170.30L551.01 172.40L550.01 172.20L549.61 171.20L549.51 159.50L547.76 158.50L547.71 154.00L546.91 145.00L545.76 135.00ZM553.18 128.30L560.85 128.30L560.85 131.00L560.45 135.00L560.43 152.00L560.13 160.00L559.18 170.30L558.68 172.40L557.68 172.20L557.28 171.20L557.18 159.50L555.43 158.50L555.38 154.00L554.58 145.00L553.43 135.00ZM560.85 128.30L568.52 128.30L568.52 131.00L568.12 135.00L568.10 152.00L567.80 160.00L566.85 170.30L566.35 172.40L565.35 172.20L564.95 171.20L564.85 159.50L563.10 158.50L563.05 154.00L562.25 145.00L561.10 135.00ZM568.52 128.30L576.19 128.30L576.19 131.00L575.79 135.00L575.77 152.00L575.47 160.00L574.52 170.30L574.02 172.40L573.02 172.20L572.62 171.20L572.52 159.50L570.77 158.50L570.72 154.00L569.92 145.00L568.77 135.00ZM576.19 128.30L583.86 128.30L583.86 131.00L583.46 135.00L583.44 152.00L583.14 160.00L582.19 170.30L581.69 172.40L580.69 172.20L580.29 171.20L580.19 159.50L578.44 158.50L578.39 154.00L577.59 145.00L576.44 135.00ZM583.86 128.30L591.53 128.30L591.53 131.00L591.13 135.00L591.11 152.00L590.81 160.00L589.86 170.30L589.36 172.40L588.36 172.20L587.96 171.20L587.86 159.50L586.11 158.50L586.06 154.00L585.26 145.00L584.11 135.00ZM591.53 128.30L599.20 128.30L599.20 131.00L598.80 135.00L598.78 152.00L598.48 160.00L597.53 170.30L597.03 172.40L596.03 172.20L595.63 171.20L595.53 159.50L593.78 158.50L593.73 154.00L592.93 145.00L591.78 135.00ZM599.20 128.30L606.87 128.30L606.87 131.00L606.47 135.00L606.45 152.00L606.15 160.00L605.20 170.30L604.70 172.40L603.70 172.20L603.30 171.20L603.20 159.50L601.45 158.50L601.40 154.00L600.60 145.00L599.45 135.00ZM606.87 128.30L614.54 128.30L614.54 131.00L614.14 135.00L614.12 152.00L613.82 160.00L612.87 170.30L612.37 172.40L611.37 172.20L610.97 171.20L610.87 159.50L609.12 158.50L609.07 154.00L608.27 145.00L607.12 135.00ZM614.54 128.30L622.21 128.30L622.21 131.00L621.81 135.00L621.79 152.00L621.49 160.00L620.54 170.30L620.04 172.40L619.04 172.20L618.64 171.20L618.54 159.50L616.79 158.50L616.74 154.00L615.94 145.00L614.79 135.00ZM622.21 128.30L629.88 128.30L629.88 131.00L629.48 135.00L629.46 152.00L629.16 160.00L628.21 170.30L627.71 172.40L626.71 172.20L626.31 171.20L626.21 159.50L624.46 158.50L624.41 154.00L623.61 145.00L622.46 135.00ZM629.88 128.30L637.55 128.30L637.55 131.00L637.15 135.00L637.13 152.00L636.83 160.00L635.88 170.30L635.38 172.40L634.38 172.20L633.98 171.20L633.88 159.50L632.13 158.50L632.08 154.00L631.28 145.00L630.13 135.00ZM637.55 128.30L645.22 128.30L645.22 131.00L644.82 135.00L644.80 152.00L644.50 160.00L643.55 170.30L643.05 172.40L642.05 172.20L641.65 171.20L641.55 159.50L639.80 158.50L639.75 154.00L638.95 145.00L637.80 135.00ZM645.22 128.30L652.89 128.30L652.89 131.00L652.49 135.00L652.47 152.00L652.17 160.00L651.22 170.30L650.72 172.40L649.72 172.20L649.32 171.20L649.22 159.50L647.47 158.50L647.42 154.00L646.62 145.00L645.47 135.00ZM652.89 128.30L660.56 128.30L660.56 131.00L660.16 135.00L660.14 152.00L659.84 160.00L658.89 170.30L658.39 172.40L657.39 172.20L656.99 171.20L656.89 159.50L655.14 158.50L655.09 154.00L654.29 145.00L653.14 135.00ZM660.56 128.30L668.23 128.30L668.23 131.00L667.83 135.00L667.81 152.00L667.51 160.00L666.56 170.30L666.06 172.40L665.06 172.20L664.66 171.20L664.56 159.50L662.81 158.50L662.76 154.00L661.96 145.00L660.81 135.00ZM668.23 128.30L675.90 128.30L675.90 131.00L675.50 135.00L675.48 152.00L675.18 160.00L674.23 170.30L673.73 172.40L672.73 172.20L672.33 171.20L672.23 159.50L670.48 158.50L670.43 154.00L669.63 145.00L668.48 135.00ZM675.90 128.30L683.57 128.30L683.57 131.00L683.17 135.00L683.15 152.00L682.85 160.00L681.90 170.30L681.40 172.40L680.40 172.20L680.00 171.20L679.90 159.50L678.15 158.50L678.10 154.00L677.30 145.00L676.15 135.00ZM683.57 128.30L691.24 128.30L691.24 131.00L690.84 135.00L690.82 152.00L690.52 160.00L689.57 170.30L689.07 172.40L688.07 172.20L687.67 171.20L687.57 159.50L685.82 158.50L685.77 154.00L684.97 145.00L683.82 135.00ZM691.24 128.30L698.91 128.30L698.91 131.00L698.51 135.00L698.49 152.00L698.19 160.00L697.24 170.30L696.74 172.40L695.74 172.20L695.34 171.20L695.24 159.50L693.49 158.50L693.44 154.00L692.64 145.00L691.49 135.00ZM698.91 128.30L706.58 128.30L706.58 131.00L706.18 135.00L706.16 152.00L705.86 160.00L704.91 170.30L704.41 172.40L703.41 172.20L703.01 171.20L702.91 159.50L701.16 158.50L701.11 154.00L700.31 145.00L699.16 135.00ZM706.58 128.30L714.25 128.30L714.25 131.00L713.85 135.00L713.83 152.00L713.53 160.00L712.58 170.30L712.08 172.40L711.08 172.20L710.68 171.20L710.58 159.50L708.83 158.50L708.78 154.00L707.98 145.00L706.83 135.00ZM714.25 128.30L721.92 128.30L721.92 131.00L721.52 135.00L721.50 152.00L721.20 160.00L720.25 170.30L719.75 172.40L718.75 172.20L718.35 171.20L718.25 159.50L716.50 158.50L716.45 154.00L715.65 145.00L714.50 135.00ZM721.92 128.30L729.59 128.30L729.59 131.00L729.19 135.00L729.17 152.00L728.87 160.00L727.92 170.30L727.42 172.40L726.42 172.20L726.02 171.20L725.92 159.50L724.17 158.50L724.12 154.00L723.32 145.00L722.17 135.00ZM729.59 128.30L737.26 128.30L737.26 131.00L736.86 135.00L736.84 152.00L736.54 160.00L735.59 170.30L735.09 172.40L734.09 172.20L733.69 171.20L733.59 159.50L731.84 158.50L731.79 154.00L730.99 145.00L729.84 135.00ZM737.26 128.30L744.93 128.30L744.93 131.00L744.53 135.00L744.51 152.00L744.21 160.00L743.26 170.30L742.76 172.40L741.76 172.20L741.36 171.20L741.26 159.50L739.51 158.50L739.46 154.00L738.66 145.00L737.51 135.00ZM744.93 128.30L752.60 128.30L752.60 131.00L752.20 135.00L752.18 152.00L751.88 160.00L750.93 170.30L750.43 172.40L749.43 172.20L749.03 171.20L748.93 159.50L747.18 158.50L747.13 154.00L746.33 145.00L745.18 135.00ZM752.60 128.30L760.27 128.30L760.27 131.00L759.87 135.00L759.85 152.00L759.55 160.00L758.60 170.30L758.10 172.40L757.10 172.20L756.70 171.20L756.60 159.50L754.85 158.50L754.80 154.00L754.00 145.00L752.85 135.00ZM760.27 128.30L767.94 128.30L767.94 131.00L767.54 135.00L767.52 152.00L767.22 160.00L766.27 170.30L765.77 172.40L764.77 172.20L764.37 171.20L764.27 159.50L762.52 158.50L762.47 154.00L761.67 145.00L760.52 135.00ZM767.94 128.30L775.61 128.30L775.61 131.00L775.21 135.00L775.19 152.00L774.89 160.00L773.94 170.30L773.44 172.40L772.44 172.20L772.04 171.20L771.94 159.50L770.19 158.50L770.14 154.00L769.34 145.00L768.19 135.00ZM775.61 128.30L783.28 128.30L783.28 131.00L782.88 135.00L782.86 152.00L782.56 160.00L781.61 170.30L781.11 172.40L780.11 172.20L779.71 171.20L779.61 159.50L777.86 158.50L777.81 154.00L777.01 145.00L775.86 135.00ZM783.28 128.30L790.95 128.30L790.95 131.00L790.55 135.00L790.53 152.00L790.23 160.00L789.28 170.30L788.78 172.40L787.78 172.20L787.38 171.20L787.28 159.50L785.53 158.50L785.48 154.00L784.68 145.00L783.53 135.00ZM790.95 128.30L798.62 128.30L798.62 131.00L798.22 135.00L798.20 152.00L797.90 160.00L796.95 170.30L796.45 172.40L795.45 172.20L795.05 171.20L794.95 159.50L793.20 158.50L793.15 154.00L792.35 145.00L791.20 135.00ZM798.62 128.30L806.29 128.30L806.29 131.00L805.89 135.00L805.87 152.00L805.57 160.00L804.62 170.30L804.12 172.40L803.12 172.20L802.72 171.20L802.62 159.50L800.87 158.50L800.82 154.00L800.02 145.00L798.87 135.00ZM806.29 128.30L813.96 128.30L813.96 131.00L813.56 135.00L813.54 152.00L813.24 160.00L812.29 170.30L811.79 172.40L810.79 172.20L810.39 171.20L810.29 159.50L808.54 158.50L808.49 154.00L807.69 145.00L806.54 135.00ZM813.96 128.30L821.63 128.30L821.63 131.00L821.23 135.00L821.21 152.00L820.91 160.00L819.96 170.30L819.46 172.40L818.46 172.20L818.06 171.20L817.96 159.50L816.21 158.50L816.16 154.00L815.36 145.00L814.21 135.00ZM821.63 128.30L829.30 128.30L829.30 131.00L828.90 135.00L828.88 152.00L828.58 160.00L827.63 170.30L827.13 172.40L826.13 172.20L825.73 171.20L825.63 159.50L823.88 158.50L823.83 154.00L823.03 145.00L821.88 135.00ZM829.30 128.30L836.97 128.30L836.97 131.00L836.57 135.00L836.55 152.00L836.25 160.00L835.30 170.30L834.80 172.40L833.80 172.20L833.40 171.20L833.30 159.50L831.55 158.50L831.50 154.00L830.70 145.00L829.55 135.00ZM836.97 128.30L844.64 128.30L844.64 131.00L844.24 135.00L844.22 152.00L843.92 160.00L842.97 170.30L842.47 172.40L841.47 172.20L841.07 171.20L840.97 159.50L839.22 158.50L839.17 154.00L838.37 145.00L837.22 135.00ZM844.64 128.30L852.31 128.30L852.31 131.00L851.91 135.00L851.89 152.00L851.59 160.00L850.64 170.30L850.14 172.40L849.14 172.20L848.74 171.20L848.64 159.50L846.89 158.50L846.84 154.00L846.04 145.00L844.89 135.00ZM852.31 128.30L859.98 128.30L859.98 131.00L859.58 135.00L859.56 152.00L859.26 160.00L858.31 170.30L857.81 172.40L856.81 172.20L856.41 171.20L856.31 159.50L854.56 158.50L854.51 154.00L853.71 145.00L852.56 135.00ZM859.98 128.30L867.65 128.30L867.65 131.00L867.25 135.00L867.23 152.00L866.93 160.00L865.98 170.30L865.48 172.40L864.48 172.20L864.08 171.20L863.98 159.50L862.23 158.50L862.18 154.00L861.38 145.00L860.23 135.00ZM867.65 128.30L875.32 128.30L875.32 131.00L874.92 135.00L874.90 152.00L874.60 160.00L873.65 170.30L873.15 172.40L872.15 172.20L871.75 171.20L871.65 159.50L869.90 158.50L869.85 154.00L869.05 145.00L867.90 135.00ZM875.32 128.30L882.99 128.30L882.99 131.00L882.59 135.00L882.57 152.00L882.27 160.00L881.32 170.30L880.82 172.40L879.82 172.20L879.42 171.20L879.32 159.50L877.57 158.50L877.52 154.00L876.72 145.00L875.57 135.00ZM882.99 128.30L890.66 128.30L890.66 131.00L890.26 135.00L890.24 152.00L889.94 160.00L888.99 170.30L888.49 172.40L887.49 172.20L887.09 171.20L886.99 159.50L885.24 158.50L885.19 154.00L884.39 145.00L883.24 135.00ZM890.66 128.30L898.33 128.30L898.33 131.00L897.93 135.00L897.91 152.00L897.61 160.00L896.66 170.30L896.16 172.40L895.16 172.20L894.76 171.20L894.66 159.50L892.91 158.50L892.86 154.00L892.06 145.00L890.91 135.00ZM898.33 128.30L906.00 128.30L906.00 131.00L905.60 135.00L905.58 152.00L905.28 160.00L904.33 170.30L903.83 172.40L902.83 172.20L902.43 171.20L902.33 159.50L900.58 158.50L900.53 154.00L899.73 145.00L898.58 135.00ZM906.00 128.30L913.67 128.30L913.67 131.00L913.27 135.00L913.25 152.00L912.95 160.00L912.00 170.30L911.50 172.40L910.50 172.20L910.10 171.20L910.00 159.50L908.25 158.50L908.20 154.00L907.40 145.00L906.25 135.00Z" fill="#E24A33" />
<path d="M136.63 128.30L138.53 128.30L138.58 131.00L138.13 131.50L137.43 131.20ZM144.30 128.30L146.20 128.30L146.25 131.00L145.80 131.50L145.10 131.20ZM151.97 128.30L153.87 128.30L153.92 131.00L153.47 131.50L152.77 131.20ZM159.64 128.30L161.54 128.30L161.59 131.00L161.14 131.50L160.44 131.20ZM167.31 128.30L169.21 128.30L169.26 131.00L168.81 131.50L168.11 131.20ZM174.98 128.30L176.88 128.30L176.93 131.00L176.48 131.50L175.78 131.20ZM182.65 128.30L184.55 128.30L184.60 131.00L184.15 131.50L183.45 131.20ZM190.32 128.30L192.22 128.30L192.27 131.00L191.82 131.50L191.12 131.20ZM197.99 128.30L199.89 128.30L199.94 131.00L199.49 131.50L198.79 131.20ZM205.66 128.30L207.56 128.30L207.61 131.00L207.16 131.50L206.46 131.20ZM213.33 128.30L215.23 128.30L215.28 131.00L214.83 131.50L214.13 131.20ZM221.00 128.30L222.90 128.30L222.95 131.00L222.50 131.50L221.80 131.20ZM228.67 128.30L230.57 128.30L230.62 131.00L230.17 131.50L229.47 131.20ZM236.34 128.30L238.24 128.30L238.29 131.00L237.84 131.50L237.14 131.20ZM244.01 128.30L245.91 128.30L245.96 131.00L245.51 131.50L244.81 131.20ZM251.68 128.30L253.58 128.30L253.63 131.00L253.18 131.50L252.48 131.20ZM259.35 128.30L261.25 128.30L261.30 131.00L260.85 131.50L260.15 131.20ZM267.02 128.30L268.92 128.30L268.97 131.00L268.52 131.50L267.82 131.20ZM274.69 128.30L276.59 128.30L276.64 131.00L276.19 131.50L275.49 131.20ZM282.36 128.30L284.26 128.30L284.31 131.00L283.86 131.50L283.16 131.20ZM290.03 128.30L291.93 128.30L291.98 131.00L291.53 131.50L290.83 131.20ZM297.70 128.30L299.60 128.30L299.65 131.00L299.20 131.50L298.50 131.20ZM305.37 128.30L307.27 128.30L307.32 131.00L306.87 131.50L306.17 131.20ZM313.04 128.30L314.94 128.30L314.99 131.00L314.54 131.50L313.84 131.20ZM320.71 128.30L322.61 128.30L322.66 131.00L322.21 131.50L321.51 131.20ZM328.38 128.30L330.28 128.30L330.33 131.00L329.88 131.50L329.18 131.20ZM336.05 128.30L337.95 128.30L338.00 131.00L337.55 131.50L336.85 131.20ZM343.72 128.30L345.62 128.30L345.67 131.00L345.22 131.50L344.52 131.20ZM351.39 128.30L353.29 128.30L353.34 131.00L352.89 131.50L352.19 131.20ZM359.06 128.30L360.96 128.30L361.01 131.00L360.56 131.50L359.86 131.20ZM366.73 128.30L368.63 128.30L368.68 131.00L368.23 131.50L367.53 131.20ZM374.40 128.30L376.30 128.30L376.35 131.00L375.90 131.50L375.20 131.20ZM382.07 128.30L383.97 128.30L384.02 131.00L383.57 131.50L382.87 131.20ZM389.74 128.30L391.64 128.30L391.69 131.00L391.24 131.50L390.54 131.20ZM397.41 128.30L399.31 128.30L399.36 131.00L398.91 131.50L398.21 131.20ZM405.08 128.30L406.98 128.30L407.03 131.00L406.58 131.50L405.88 131.20ZM412.75 128.30L414.65 128.30L414.70 131.00L414.25 131.50L413.55 131.20ZM420.42 128.30L422.32 128.30L422.37 131.00L421.92 131.50L421.22 131.20ZM428.09 128.30L429.99 128.30L430.04 131.00L429.59 131.50L428.89 131.20ZM435.76 128.30L437.66 128.30L437.71 131.00L437.26 131.50L436.56 131.20ZM443.43 128.30L445.33 128.30L445.38 131.00L444.93 131.50L444.23 131.20ZM451.10 128.30L453.00 128.30L453.05 131.00L452.60 131.50L451.90 131.20ZM458.77 128.30L460.67 128.30L460.72 131.00L460.27 131.50L459.57 131.20ZM466.44 128.30L468.34 128.30L468.39 131.00L467.94 131.50L467.24 131.20ZM474.11 128.30L476.01 128.30L476.06 131.00L475.61 131.50L474.91 131.20ZM481.78 128.30L483.68 128.30L483.73 131.00L483.28 131.50L482.58 131.20ZM489.45 128.30L491.35 128.30L491.40 131.00L490.95 131.50L490.25 131.20ZM497.12 128.30L499.02 128.30L499.07 131.00L498.62 131.50L497.92 131.20ZM504.79 128.30L506.69 128.30L506.74 131.00L506.29 131.50L505.59 131.20ZM512.46 128.30L514.36 128.30L514.41 131.00L513.96 131.50L513.26 131.20ZM520.13 128.30L522.03 128.30L522.08 131.00L521.63 131.50L520.93 131.20ZM527.80 128.30L529.70 128.30L529.75 131.00L529.30 131.50L528.60 131.20ZM535.47 128.30L537.37 128.30L537.42 131.00L536.97 131.50L536.27 131.20ZM543.14 128.30L545.04 128.30L545.09 131.00L544.64 131.50L543.94 131.20ZM550.81 128.30L552.71 128.30L552.76 131.00L552.31 131.50L551.61 131.20ZM558.48 128.30L560.38 128.30L560.43 131.00L559.98 131.50L559.28 131.20ZM566.15 128.30L568.05 128.30L568.10 131.00L567.65 131.50L566.95 131.20ZM573.82 128.30L575.72 128.30L575.77 131.00L575.32 131.50L574.62 131.20ZM581.49 128.30L583.39 128.30L583.44 131.00L582.99 131.50L582.29 131.20ZM589.16 128.30L591.06 128.30L591.11 131.00L590.66 131.50L589.96 131.20ZM596.83 128.30L598.73 128.30L598.78 131.00L598.33 131.50L597.63 131.20ZM604.50 128.30L606.40 128.30L606.45 131.00L606.00 131.50L605.30 131.20ZM612.17 128.30L614.07 128.30L614.12 131.00L613.67 131.50L612.97 131.20ZM619.84 128.30L621.74 128.30L621.79 131.00L621.34 131.50L620.64 131.20ZM627.51 128.30L629.41 128.30L629.46 131.00L629.01 131.50L628.31 131.20ZM635.18 128.30L637.08 128.30L637.13 131.00L636.68 131.50L635.98 131.20ZM642.85 128.30L644.75 128.30L644.80 131.00L644.35 131.50L643.65 131.20ZM650.52 128.30L652.42 128.30L652.47 131.00L652.02 131.50L651.32 131.20ZM658.19 128.30L660.09 128.30L660.14 131.00L659.69 131.50L658.99 131.20ZM665.86 128.30L667.76 128.30L667.81 131.00L667.36 131.50L666.66 131.20ZM673.53 128.30L675.43 128.30L675.48 131.00L675.03 131.50L674.33 131.20ZM681.20 128.30L683.10 128.30L683.15 131.00L682.70 131.50L682.00 131.20ZM688.87 128.30L690.77 128.30L690.82 131.00L690.37 131.50L689.67 131.20ZM696.54 128.30L698.44 128.30L698.49 131.00L698.04 131.50L697.34 131.20ZM704.21 128.30L706.11 128.30L706.16 131.00L705.71 131.50L705.01 131.20ZM711.88 128.30L713.78 128.30L713.83 131.00L713.38 131.50L712.68 131.20ZM719.55 128.30L721.45 128.30L721.50 131.00L721.05 131.50L720.35 131.20ZM727.22 128.30L729.12 128.30L729.17 131.00L728.72 131.50L728.02 131.20ZM734.89 128.30L736.79 128.30L736.84 131.00L736.39 131.50L735.69 131.20ZM742.56 128.30L744.46 128.30L744.51 131.00L744.06 131.50L743.36 131.20ZM750.23 128.30L752.13 128.30L752.18 131.00L751.73 131.50L751.03 131.20ZM757.90 128.30L759.80 128.30L759.85 131.00L759.40 131.50L758.70 131.20ZM765.57 128.30L767.47 128.30L767.52 131.00L767.07 131.50L766.37 131.20ZM773.24 128.30L775.14 128.30L775.19 131.00L774.74 131.50L774.04 131.20ZM780.91 128.30L782.81 128.30L782.86 131.00L782.41 131.50L781.71 131.20ZM788.58 128.30L790.48 128.30L790.53 131.00L790.08 131.50L789.38 131.20ZM796.25 128.30L798.15 128.30L798.20 131.00L797.75 131.50L797.05 131.20ZM803.92 128.30L805.82 128.30L805.87 131.00L805.42 131.50L804.72 131.20ZM811.59 128.30L813.49 128.30L813.54 131.00L813.09 131.50L812.39 131.20ZM819.26 128.30L821.16 128.30L821.21 131.00L820.76 131.50L820.06 131.20ZM826.93 128.30L828.83 128.30L828.88 131.00L828.43 131.50L827.73 131.20ZM834.60 128.30L836.50 128.30L836.55 131.00L836.10 131.50L835.40 131.20ZM842.27 128.30L844.17 128.30L844.22 131.00L843.77 131.50L843.07 131.20ZM849.94 128.30L851.84 128.30L851.89 131.00L851.44 131.50L850.74 131.20ZM857.61 128.30L859.51 128.30L859.56 131.00L859.11 131.50L858.41 131.20ZM865.28 128.30L867.18 128.30L867.23 131.00L866.78 131.50L866.08 131.20ZM872.95 128.30L874.85 128.30L874.90 131.00L874.45 131.50L873.75 131.20ZM880.62 128.30L882.52 128.30L882.57 131.00L882.12 131.50L881.42 131.20ZM888.29 128.30L890.19 128.30L890.24 131.00L889.79 131.50L889.09 131.20ZM895.96 128.30L897.86 128.30L897.91 131.00L897.46 131.50L896.76 131.20ZM903.63 128.30L905.53 128.30L905.58 131.00L905.13 131.50L904.43 131.20ZM911.30 128.30L913.20 128.30L913.25 131.00L912.80 131.50L912.10 131.20Z" fill="#348ABD" />
<path d="M133.03 128.20L134.83 128.20L134.43 131.00L133.73 131.00ZM140.70 128.20L142.50 128.20L142.10 131.00L141.40 131.00ZM148.37 128.20L150.17 128.20L149.77 131.00L149.07 131.00ZM156.04 128.20L157.84 128.20L157.44 131.00L156.74 131.00ZM163.71 128.20L165.51 128.20L165.11 131.00L164.41 131.00ZM171.38 128.20L173.18 128.20L172.78 131.00L172.08 131.00ZM179.05 128.20L180.85 128.20L180.45 131.00L179.75 131.00ZM186.72 128.20L188.52 128.20L188.12 131.00L187.42 131.00ZM194.39 128.20L196.19 128.20L195.79 131.00L195.09 131.00ZM202.06 128.20L203.86 128.20L203.46 131.00L202.76 131.00ZM209.73 128.20L211.53 128.20L211.13 131.00L210.43 131.00ZM217.40 128.20L219.20 128.20L218.80 131.00L218.10 131.00ZM225.07 128.20L226.87 128.20L226.47 131.00L225.77 131.00ZM232.74 128.20L234.54 128.20L234.14 131.00L233.44 131.00ZM240.41 128.20L242.21 128.20L241.81 131.00L241.11 131.00ZM248.08 128.20L249.88 128.20L249.48 131.00L248.78 131.00ZM255.75 128.20L257.55 128.20L257.15 131.00L256.45 131.00ZM263.42 128.20L265.22 128.20L264.82 131.00L264.12 131.00ZM271.09 128.20L272.89 128.20L272.49 131.00L271.79 131.00ZM278.76 128.20L280.56 128.20L280.16 131.00L279.46 131.00ZM286.43 128.20L288.23 128.20L287.83 131.00L287.13 131.00ZM294.10 128.20L295.90 128.20L295.50 131.00L294.80 131.00ZM301.77 128.20L303.57 128.20L303.17 131.00L302.47 131.00ZM309.44 128.20L311.24 128.20L310.84 131.00L310.14 131.00ZM317.11 128.20L318.91 128.20L318.51 131.00L317.81 131.00ZM324.78 128.20L326.58 128.20L326.18 131.00L325.48 131.00ZM332.45 128.20L334.25 128.20L333.85 131.00L333.15 131.00ZM340.12 128.20L341.92 128.20L341.52 131.00L340.82 131.00ZM347.79 128.20L349.59 128.20L349.19 131.00L348.49 131.00ZM355.46 128.20L357.26 128.20L356.86 131.00L356.16 131.00ZM363.13 128.20L364.93 128.20L364.53 131.00L363.83 131.00ZM370.80 128.20L372.60 128.20L372.20 131.00L371.50 131.00ZM378.47 128.20L380.27 128.20L379.87 131.00L379.17 131.00ZM386.14 128.20L387.94 128.20L387.54 131.00L386.84 131.00ZM393.81 128.20L395.61 128.20L395.21 131.00L394.51 131.00ZM401.48 128.20L403.28 128.20L402.88 131.00L402.18 131.00ZM409.15 128.20L410.95 128.20L410.55 131.00L409.85 131.00ZM416.82 128.20L418.62 128.20L418.22 131.00L417.52 131.00ZM424.49 128.20L426.29 128.20L425.89 131.00L425.19 131.00ZM432.16 128.20L433.96 128.20L433.56 131.00L432.86 131.00ZM439.83 128.20L441.63 128.20L441.23 131.00L440.53 131.00ZM447.50 128.20L449.30 128.20L448.90 131.00L448.20 131.00ZM455.17 128.20L456.97 128.20L456.57 131.00L455.87 131.00ZM462.84 128.20L464.64 128.20L464.24 131.00L463.54 131.00ZM470.51 128.20L472.31 128.20L471.91 131.00L471.21 131.00ZM478.18 128.20L479.98 128.20L479.58 131.00L478.88 131.00ZM485.85 128.20L487.65 128.20L487.25 131.00L486.55 131.00ZM493.52 128.20L495.32 128.20L494.92 131.00L494.22 131.00ZM501.19 128.20L502.99 128.20L502.59 131.00L501.89 131.00ZM508.86 128.20L510.66 128.20L510.26 131.00L509.56 131.00ZM516.53 128.20L518.33 128.20L517.93 131.00L517.23 131.00ZM524.20 128.20L526.00 128.20L525.60 131.00L524.90 131.00ZM531.87 128.20L533.67 128.20L533.27 131.00L532.57 131.00ZM539.54 128.20L541.34 128.20L540.94 131.00L540.24 131.00ZM547.21 128.20L549.01 128.20L548.61 131.00L547.91 131.00ZM554.88 128.20L556.68 128.20L556.28 131.00L555.58 131.00ZM562.55 128.20L564.35 128.20L563.95 131.00L563.25 131.00ZM570.22 128.20L572.02 128.20L571.62 131.00L570.92 131.00ZM577.89 128.20L579.69 128.20L579.29 131.00L578.59 131.00ZM585.56 128.20L587.36 128.20L586.96 131.00L586.26 131.00ZM593.23 128.20L595.03 128.20L594.63 131.00L593.93 131.00ZM600.90 128.20L602.70 128.20L602.30 131.00L601.60 131.00ZM608.57 128.20L610.37 128.20L609.97 131.00L609.27 131.00ZM616.24 128.20L618.04 128.20L617.64 131.00L616.94 131.00ZM623.91 128.20L625.71 128.20L625.31 131.00L624.61 131.00ZM631.58 128.20L633.38 128.20L632.98 131.00L632.28 131.00ZM639.25 128.20L641.05 128.20L640.65 131.00L639.95 131.00ZM646.92 128.20L648.72 128.20L648.32 131.00L647.62 131.00ZM654.59 128.20L656.39 128.20L655.99 131.00L655.29 131.00ZM662.26 128.20L664.06 128.20L663.66 131.00L662.96 131.00ZM669.93 128.20L671.73 128.20L671.33 131.00L670.63 131.00ZM677.60 128.20L679.40 128.20L679.00 131.00L678.30 131.00ZM685.27 128.20L687.07 128.20L686.67 131.00L685.97 131.00ZM692.94 128.20L694.74 128.20L694.34 131.00L693.64 131.00ZM700.61 128.20L702.41 128.20L702.01 131.00L701.31 131.00ZM708.28 128.20L710.08 128.20L709.68 131.00L708.98 131.00ZM715.95 128.20L717.75 128.20L717.35 131.00L716.65 131.00ZM723.62 128.20L725.42 128.20L725.02 131.00L724.32 131.00ZM731.29 128.20L733.09 128.20L732.69 131.00L731.99 131.00ZM738.96 128.20L740.76 128.20L740.36 131.00L739.66 131.00ZM746.63 128.20L748.43 128.20L748.03 131.00L747.33 131.00ZM754.30 128.20L756.10 128.20L755.70 131.00L755.00 131.00ZM761.97 128.20L763.77 128.20L763.37 131.00L762.67 131.00ZM769.64 128.20L771.44 128.20L771.04 131.00L770.34 131.00ZM777.31 128.20L779.11 128.20L778.71 131.00L778.01 131.00ZM784.98 128.20L786.78 128.20L786.38 131.00L785.68 131.00ZM792.65 128.20L794.45 128.20L794.05 131.00L793.35 131.00ZM800.32 128.20L802.12 128.20L801.72 131.00L801.02 131.00ZM807.99 128.20L809.79 128.20L809.39 131.00L808.69 131.00ZM815.66 128.20L817.46 128.20L817.06 131.00L816.36 131.00ZM823.33 128.20L825.13 128.20L824.73 131.00L824.03 131.00ZM831.00 128.20L832.80 128.20L832.40 131.00L831.70 131.00ZM838.67 128.20L840.47 128.20L840.07 131.00L839.37 131.00ZM846.34 128.20L848.14 128.20L847.74 131.00L847.04 131.00ZM854.01 128.20L855.81 128.20L855.41 131.00L854.71 131.00ZM861.68 128.20L863.48 128.20L863.08 131.00L862.38 131.00ZM869.35 128.20L871.15 128.20L870.75 131.00L870.05 131.00ZM877.02 128.20L878.82 128.20L878.42 131.00L877.72 131.00ZM884.69 128.20L886.49 128.20L886.09 131.00L885.39 131.00ZM892.36 128.20L894.16 128.20L893.76 131.00L893.06 131.00ZM900.03 128.20L901.83 128.20L901.43 131.00L900.73 131.00ZM907.70 128.20L909.50 128.20L909.10 131.00L908.40 131.00Z" fill="#FBC15E" />
<path d="M134.83 128.20L136.33 128.20L135.93 130.30L135.33 130.30ZM142.50 128.20L144.00 128.20L143.60 130.30L143.00 130.30ZM150.17 128.20L151.67 128.20L151.27 130.30L150.67 130.30ZM157.84 128.20L159.34 128.20L158.94 130.30L158.34 130.30ZM165.51 128.20L167.01 128.20L166.61 130.30L166.01 130.30ZM173.18 128.20L174.68 128.20L174.28 130.30L173.68 130.30ZM180.85 128.20L182.35 128.20L181.95 130.30L181.35 130.30ZM188.52 128.20L190.02 128.20L189.62 130.30L189.02 130.30ZM196.19 128.20L197.69 128.20L197.29 130.30L196.69 130.30ZM203.86 128.20L205.36 128.20L204.96 130.30L204.36 130.30ZM211.53 128.20L213.03 128.20L212.63 130.30L212.03 130.30ZM219.20 128.20L220.70 128.20L220.30 130.30L219.70 130.30ZM226.87 128.20L228.37 128.20L227.97 130.30L227.37 130.30ZM234.54 128.20L236.04 128.20L235.64 130.30L235.04 130.30ZM242.21 128.20L243.71 128.20L243.31 130.30L242.71 130.30ZM249.88 128.20L251.38 128.20L250.98 130.30L250.38 130.30ZM257.55 128.20L259.05 128.20L258.65 130.30L258.05 130.30ZM265.22 128.20L266.72 128.20L266.32 130.30L265.72 130.30ZM272.89 128.20L274.39 128.20L273.99 130.30L273.39 130.30ZM280.56 128.20L282.06 128.20L281.66 130.30L281.06 130.30ZM288.23 128.20L289.73 128.20L289.33 130.30L288.73 130.30ZM295.90 128.20L297.40 128.20L297.00 130.30L296.40 130.30ZM303.57 128.20L305.07 128.20L304.67 130.30L304.07 130.30ZM311.24 128.20L312.74 128.20L312.34 130.30L311.74 130.30ZM318.91 128.20L320.41 128.20L320.01 130.30L319.41 130.30ZM326.58 128.20L328.08 128.20L327.68 130.30L327.08 130.30ZM334.25 128.20L335.75 128.20L335.35 130.30L334.75 130.30ZM341.92 128.20L343.42 128.20L343.02 130.30L342.42 130.30ZM349.59 128.20L351.09 128.20L350.69 130.30L350.09 130.30ZM357.26 128.20L358.76 128.20L358.36 130.30L357.76 130.30ZM364.93 128.20L366.43 128.20L366.03 130.30L365.43 130.30ZM372.60 128.20L374.10 128.20L373.70 130.30L373.10 130.30ZM380.27 128.20L381.77 128.20L381.37 130.30L380.77 130.30ZM387.94 128.20L389.44 128.20L389.04 130.30L388.44 130.30ZM395.61 128.20L397.11 128.20L396.71 130.30L396.11 130.30ZM403.28 128.20L404.78 128.20L404.38 130.30L403.78 130.30ZM410.95 128.20L412.45 128.20L412.05 130.30L411.45 130.30ZM418.62 128.20L420.12 128.20L419.72 130.30L419.12 130.30ZM426.29 128.20L427.79 128.20L427.39 130.30L426.79 130.30ZM433.96 128.20L435.46 128.20L435.06 130.30L434.46 130.30ZM441.63 128.20L443.13 128.20L442.73 130.30L442.13 130.30ZM449.30 128.20L450.80 128.20L450.40 130.30L449.80 130.30ZM456.97 128.20L458.47 128.20L458.07 130.30L457.47 130.30ZM464.64 128.20L466.14 128.20L465.74 130.30L465.14 130.30ZM472.31 128.20L473.81 128.20L473.41 130.30L472.81 130.30ZM479.98 128.20L481.48 128.20L481.08 130.30L480.48 130.30ZM487.65 128.20L489.15 128.20L488.75 130.30L488.15 130.30ZM495.32 128.20L496.82 128.20L496.42 130.30L495.82 130.30ZM502.99 128.20L504.49 128.20L504.09 130.30L503.49 130.30ZM510.66 128.20L512.16 128.20L511.76 130.30L511.16 130.30ZM518.33 128.20L519.83 128.20L519.43 130.30L518.83 130.30ZM526.00 128.20L527.50 128.20L527.10 130.30L526.50 130.30ZM533.67 128.20L535.17 128.20L534.77 130.30L534.17 130.30ZM541.34 128.20L542.84 128.20L542.44 130.30L541.84 130.30ZM549.01 128.20L550.51 128.20L550.11 130.30L549.51 130.30ZM556.68 128.20L558.18 128.20L557.78 130.30L557.18 130.30ZM564.35 128.20L565.85 128.20L565.45 130.30L564.85 130.30ZM572.02 128.20L573.52 128.20L573.12 130.30L572.52 130.30ZM579.69 128.20L581.19 128.20L580.79 130.30L580.19 130.30ZM587.36 128.20L588.86 128.20L588.46 130.30L587.86 130.30ZM595.03 128.20L596.53 128.20L596.13 130.30L595.53 130.30ZM602.70 128.20L604.20 128.20L603.80 130.30L603.20 130.30ZM610.37 128.20L611.87 128.20L611.47 130.30L610.87 130.30ZM618.04 128.20L619.54 128.20L619.14 130.30L618.54 130.30ZM625.71 128.20L627.21 128.20L626.81 130.30L626.21 130.30ZM633.38 128.20L634.88 128.20L634.48 130.30L633.88 130.30ZM641.05 128.20L642.55 128.20L642.15 130.30L641.55 130.30ZM648.72 128.20L650.22 128.20L649.82 130.30L649.22 130.30ZM656.39 128.20L657.89 128.20L657.49 130.30L656.89 130.30ZM664.06 128.20L665.56 128.20L665.16 130.30L664.56 130.30ZM671.73 128.20L673.23 128.20L672.83 130.30L672.23 130.30ZM679.40 128.20L680.90 128.20L680.50 130.30L679.90 130.30ZM687.07 128.20L688.57 128.20L688.17 130.30L687.57 130.30ZM694.74 128.20L696.24 128.20L695.84 130.30L695.24 130.30ZM702.41 128.20L703.91 128.20L703.51 130.30L702.91 130.30ZM710.08 128.20L711.58 128.20L711.18 130.30L710.58 130.30ZM717.75 128.20L719.25 128.20L718.85 130.30L718.25 130.30ZM725.42 128.20L726.92 128.20L726.52 130.30L725.92 130.30ZM733.09 128.20L734.59 128.20L734.19 130.30L733.59 130.30ZM740.76 128.20L742.26 128.20L741.86 130.30L741.26 130.30ZM748.43 128.20L749.93 128.20L749.53 130.30L748.93 130.30ZM756.10 128.20L757.60 128.20L757.20 130.30L756.60 130.30ZM763.77 128.20L765.27 128.20L764.87 130.30L764.27 130.30ZM771.44 128.20L772.94 128.20L772.54 130.30L771.94 130.30ZM779.11 128.20L780.61 128.20L780.21 130.30L779.61 130.30ZM786.78 128.20L788.28 128.20L787.88 130.30L787.28 130.30ZM794.45 128.20L795.95 128.20L795.55 130.30L794.95 130.30ZM802.12 128.20L803.62 128.20L803.22 130.30L802.62 130.30ZM809.79 128.20L811.29 128.20L810.89 130.30L810.29 130.30ZM817.46 128.20L818.96 128.20L818.56 130.30L817.96 130.30ZM825.13 128.20L826.63 128.20L826.23 130.30L825.63 130.30ZM832.80 128.20L834.30 128.20L833.90 130.30L833.30 130.30ZM840.47 128.20L841.97 128.20L841.57 130.30L840.97 130.30ZM848.14 128.20L849.64 128.20L849.24 130.30L848.64 130.30ZM855.81 128.20L857.31 128.20L856.91 130.30L856.31 130.30ZM863.48 128.20L864.98 128.20L864.58 130.30L863.98 130.30ZM871.15 128.20L872.65 128.20L872.25 130.30L871.65 130.30ZM878.82 128.20L880.32 128.20L879.92 130.30L879.32 130.30ZM886.49 128.20L887.99 128.20L887.59 130.30L886.99 130.30ZM894.16 128.20L895.66 128.20L895.26 130.30L894.66 130.30ZM901.83 128.20L903.33 128.20L902.93 130.30L902.33 130.30ZM909.50 128.20L911.00 128.20L910.60 130.30L910.00 130.30Z" fill="#f6f6f6" />
<path d="M132.23 131.00L133.03 147.00M136.23 131.00L136.93 152.00M137.73 133.00L138.13 150.00M139.90 131.00L140.70 147.00M143.90 131.00L144.60 152.00M145.40 133.00L145.80 150.00M147.57 131.00L148.37 147.00M151.57 131.00L152.27 152.00M153.07 133.00L153.47 150.00M155.24 131.00L156.04 147.00M159.24 131.00L159.94 152.00M160.74 133.00L161.14 150.00M162.91 131.00L163.71 147.00M166.91 131.00L167.61 152.00M168.41 133.00L168.81 150.00M170.58 131.00L171.38 147.00M174.58 131.00L175.28 152.00M176.08 133.00L176.48 150.00M178.25 131.00L179.05 147.00M182.25 131.00L182.95 152.00M183.75 133.00L184.15 150.00M185.92 131.00L186.72 147.00M189.92 131.00L190.62 152.00M191.42 133.00L191.82 150.00M193.59 131.00L194.39 147.00M197.59 131.00L198.29 152.00M199.09 133.00L199.49 150.00M201.26 131.00L202.06 147.00M205.26 131.00L205.96 152.00M206.76 133.00L207.16 150.00M208.93 131.00L209.73 147.00M212.93 131.00L213.63 152.00M214.43 133.00L214.83 150.00M216.60 131.00L217.40 147.00M220.60 131.00L221.30 152.00M222.10 133.00L222.50 150.00M224.27 131.00L225.07 147.00M228.27 131.00L228.97 152.00M229.77 133.00L230.17 150.00M231.94 131.00L232.74 147.00M235.94 131.00L236.64 152.00M237.44 133.00L237.84 150.00M239.61 131.00L240.41 147.00M243.61 131.00L244.31 152.00M245.11 133.00L245.51 150.00M247.28 131.00L248.08 147.00M251.28 131.00L251.98 152.00M252.78 133.00L253.18 150.00M254.95 131.00L255.75 147.00M258.95 131.00L259.65 152.00M260.45 133.00L260.85 150.00M262.62 131.00L263.42 147.00M266.62 131.00L267.32 152.00M268.12 133.00L268.52 150.00M270.29 131.00L271.09 147.00M274.29 131.00L274.99 152.00M275.79 133.00L276.19 150.00M277.96 131.00L278.76 147.00M281.96 131.00L282.66 152.00M283.46 133.00L283.86 150.00M285.63 131.00L286.43 147.00M289.63 131.00L290.33 152.00M291.13 133.00L291.53 150.00M293.30 131.00L294.10 147.00M297.30 131.00L298.00 152.00M298.80 133.00L299.20 150.00M300.97 131.00L301.77 147.00M304.97 131.00L305.67 152.00M306.47 133.00L306.87 150.00M308.64 131.00L309.44 147.00M312.64 131.00L313.34 152.00M314.14 133.00L314.54 150.00M316.31 131.00L317.11 147.00M320.31 131.00L321.01 152.00M321.81 133.00L322.21 150.00M323.98 131.00L324.78 147.00M327.98 131.00L328.68 152.00M329.48 133.00L329.88 150.00M331.65 131.00L332.45 147.00M335.65 131.00L336.35 152.00M337.15 133.00L337.55 150.00M339.32 131.00L340.12 147.00M343.32 131.00L344.02 152.00M344.82 133.00L345.22 150.00M346.99 131.00L347.79 147.00M350.99 131.00L351.69 152.00M352.49 133.00L352.89 150.00M354.66 131.00L355.46 147.00M358.66 131.00L359.36 152.00M360.16 133.00L360.56 150.00M362.33 131.00L363.13 147.00M366.33 131.00L367.03 152.00M367.83 133.00L368.23 150.00M370.00 131.00L370.80 147.00M374.00 131.00L374.70 152.00M375.50 133.00L375.90 150.00M377.67 131.00L378.47 147.00M381.67 131.00L382.37 152.00M383.17 133.00L383.57 150.00M385.34 131.00L386.14 147.00M389.34 131.00L390.04 152.00M390.84 133.00L391.24 150.00M393.01 131.00L393.81 147.00M397.01 131.00L397.71 152.00M398.51 133.00L398.91 150.00M400.68 131.00L401.48 147.00M404.68 131.00L405.38 152.00M406.18 133.00L406.58 150.00M408.35 131.00L409.15 147.00M412.35 131.00L413.05 152.00M413.85 133.00L414.25 150.00M416.02 131.00L416.82 147.00M420.02 131.00L420.72 152.00M421.52 133.00L421.92 150.00M423.69 131.00L424.49 147.00M427.69 131.00L428.39 152.00M429.19 133.00L429.59 150.00M431.36 131.00L432.16 147.00M435.36 131.00L436.06 152.00M436.86 133.00L437.26 150.00M439.03 131.00L439.83 147.00M443.03 131.00L443.73 152.00M444.53 133.00L444.93 150.00M446.70 131.00L447.50 147.00M450.70 131.00L451.40 152.00M452.20 133.00L452.60 150.00M454.37 131.00L455.17 147.00M458.37 131.00L459.07 152.00M459.87 133.00L460.27 150.00M462.04 131.00L462.84 147.00M466.04 131.00L466.74 152.00M467.54 133.00L467.94 150.00M469.71 131.00L470.51 147.00M473.71 131.00L474.41 152.00M475.21 133.00L475.61 150.00M477.38 131.00L478.18 147.00M481.38 131.00L482.08 152.00M482.88 133.00L483.28 150.00M485.05 131.00L485.85 147.00M489.05 131.00L489.75 152.00M490.55 133.00L490.95 150.00M492.72 131.00L493.52 147.00M496.72 131.00L497.42 152.00M498.22 133.00L498.62 150.00M500.39 131.00L501.19 147.00M504.39 131.00L505.09 152.00M505.89 133.00L506.29 150.00M508.06 131.00L508.86 147.00M512.06 131.00L512.76 152.00M513.56 133.00L513.96 150.00M515.73 131.00L516.53 147.00M519.73 131.00L520.43 152.00M521.23 133.00L521.63 150.00M523.40 131.00L524.20 147.00M527.40 131.00L528.10 152.00M528.90 133.00L529.30 150.00M531.07 131.00L531.87 147.00M535.07 131.00L535.77 152.00M536.57 133.00L536.97 150.00M538.74 131.00L539.54 147.00M542.74 131.00L543.44 152.00M544.24 133.00L544.64 150.00M546.41 131.00L547.21 147.00M550.41 131.00L551.11 152.00M551.91 133.00L552.31 150.00M554.08 131.00L554.88 147.00M558.08 131.00L558.78 152.00M559.58 133.00L559.98 150.00M561.75 131.00L562.55 147.00M565.75 131.00L566.45 152.00M567.25 133.00L567.65 150.00M569.42 131.00L570.22 147.00M573.42 131.00L574.12 152.00M574.92 133.00L575.32 150.00M577.09 131.00L577.89 147.00M581.09 131.00L581.79 152.00M582.59 133.00L582.99 150.00M584.76 131.00L585.56 147.00M588.76 131.00L589.46 152.00M590.26 133.00L590.66 150.00M592.43 131.00L593.23 147.00M596.43 131.00L597.13 152.00M597.93 133.00L598.33 150.00M600.10 131.00L600.90 147.00M604.10 131.00L604.80 152.00M605.60 133.00L606.00 150.00M607.77 131.00L608.57 147.00M611.77 131.00L612.47 152.00M613.27 133.00L613.67 150.00M615.44 131.00L616.24 147.00M619.44 131.00L620.14 152.00M620.94 133.00L621.34 150.00M623.11 131.00L623.91 147.00M627.11 131.00L627.81 152.00M628.61 133.00L629.01 150.00M630.78 131.00L631.58 147.00M634.78 131.00L635.48 152.00M636.28 133.00L636.68 150.00M638.45 131.00L639.25 147.00M642.45 131.00L643.15 152.00M643.95 133.00L644.35 150.00M646.12 131.00L646.92 147.00M650.12 131.00L650.82 152.00M651.62 133.00L652.02 150.00M653.79 131.00L654.59 147.00M657.79 131.00L658.49 152.00M659.29 133.00L659.69 150.00M661.46 131.00L662.26 147.00M665.46 131.00L666.16 152.00M666.96 133.00L667.36 150.00M669.13 131.00L669.93 147.00M673.13 131.00L673.83 152.00M674.63 133.00L675.03 150.00M676.80 131.00L677.60 147.00M680.80 131.00L681.50 152.00M682.30 133.00L682.70 150.00M684.47 131.00L685.27 147.00M688.47 131.00L689.17 152.00M689.97 133.00L690.37 150.00M692.14 131.00L692.94 147.00M696.14 131.00L696.84 152.00M697.64 133.00L698.04 150.00M699.81 131.00L700.61 147.00M703.81 131.00L704.51 152.00M705.31 133.00L705.71 150.00M707.48 131.00L708.28 147.00M711.48 131.00L712.18 152.00M712.98 133.00L713.38 150.00M715.15 131.00L715.95 147.00M719.15 131.00L719.85 152.00M720.65 133.00L721.05 150.00M722.82 131.00L723.62 147.00M726.82 131.00L727.52 152.00M728.32 133.00L728.72 150.00M730.49 131.00L731.29 147.00M734.49 131.00L735.19 152.00M735.99 133.00L736.39 150.00M738.16 131.00L738.96 147.00M742.16 131.00L742.86 152.00M743.66 133.00L744.06 150.00M745.83 131.00L746.63 147.00M749.83 131.00L750.53 152.00M751.33 133.00L751.73 150.00M753.50 131.00L754.30 147.00M757.50 131.00L758.20 152.00M759.00 133.00L759.40 150.00M761.17 131.00L761.97 147.00M765.17 131.00L765.87 152.00M766.67 133.00L767.07 150.00M768.84 131.00L769.64 147.00M772.84 131.00L773.54 152.00M774.34 133.00L774.74 150.00M776.51 131.00L777.31 147.00M780.51 131.00L781.21 152.00M782.01 133.00L782.41 150.00M784.18 131.00L784.98 147.00M788.18 131.00L788.88 152.00M789.68 133.00L790.08 150.00M791.85 131.00L792.65 147.00M795.85 131.00L796.55 152.00M797.35 133.00L797.75 150.00M799.52 131.00L800.32 147.00M803.52 131.00L804.22 152.00M805.02 133.00L805.42 150.00M807.19 131.00L807.99 147.00M811.19 131.00L811.89 152.00M812.69 133.00L813.09 150.00M814.86 131.00L815.66 147.00M818.86 131.00L819.56 152.00M820.36 133.00L820.76 150.00M822.53 131.00L823.33 147.00M826.53 131.00L827.23 152.00M828.03 133.00L828.43 150.00M830.20 131.00L831.00 147.00M834.20 131.00L834.90 152.00M835.70 133.00L836.10 150.00M837.87 131.00L838.67 147.00M841.87 131.00L842.57 152.00M843.37 133.00L843.77 150.00M845.54 131.00L846.34 147.00M849.54 131.00L850.24 152.00M851.04 133.00L851.44 150.00M853.21 131.00L854.01 147.00M857.21 131.00L857.91 152.00M858.71 133.00L859.11 150.00M860.88 131.00L861.68 147.00M864.88 131.00L865.58 152.00M866.38 133.00L866.78 150.00M868.55 131.00L869.35 147.00M872.55 131.00L873.25 152.00M874.05 133.00L874.45 150.00M876.22 131.00L877.02 147.00M880.22 131.00L880.92 152.00M881.72 133.00L882.12 150.00M883.89 131.00L884.69 147.00M887.89 131.00L888.59 152.00M889.39 133.00L889.79 150.00M891.56 131.00L892.36 147.00M895.56 131.00L896.26 152.00M897.06 133.00L897.46 150.00M899.23 131.00L900.03 147.00M903.23 131.00L903.93 152.00M904.73 133.00L905.13 150.00M906.90 131.00L907.70 147.00M910.90 131.00L911.60 152.00M912.40 133.00L912.80 150.00" fill="none" stroke="#ea6f5b" stroke-width="0.7" stroke-linejoin="round" />
<path d="M134.13 131.00L134.23 138.00M141.80 131.00L141.90 138.00M149.47 131.00L149.57 138.00M157.14 131.00L157.24 138.00M164.81 131.00L164.91 138.00M172.48 131.00L172.58 138.00M180.15 131.00L180.25 138.00M187.82 131.00L187.92 138.00M195.49 131.00L195.59 138.00M203.16 131.00L203.26 138.00M210.83 131.00L210.93 138.00M218.50 131.00L218.60 138.00M226.17 131.00L226.27 138.00M233.84 131.00L233.94 138.00M241.51 131.00L241.61 138.00M249.18 131.00L249.28 138.00M256.85 131.00L256.95 138.00M264.52 131.00L264.62 138.00M272.19 131.00L272.29 138.00M279.86 131.00L279.96 138.00M287.53 131.00L287.63 138.00M295.20 131.00L295.30 138.00M302.87 131.00L302.97 138.00M310.54 131.00L310.64 138.00M318.21 131.00L318.31 138.00M325.88 131.00L325.98 138.00M333.55 131.00L333.65 138.00M341.22 131.00L341.32 138.00M348.89 131.00L348.99 138.00M356.56 131.00L356.66 138.00M364.23 131.00L364.33 138.00M371.90 131.00L372.00 138.00M379.57 131.00L379.67 138.00M387.24 131.00L387.34 138.00M394.91 131.00L395.01 138.00M402.58 131.00L402.68 138.00M410.25 131.00L410.35 138.00M417.92 131.00L418.02 138.00M425.59 131.00L425.69 138.00M433.26 131.00L433.36 138.00M440.93 131.00L441.03 138.00M448.60 131.00L448.70 138.00M456.27 131.00L456.37 138.00M463.94 131.00L464.04 138.00M471.61 131.00L471.71 138.00M479.28 131.00L479.38 138.00M486.95 131.00L487.05 138.00M494.62 131.00L494.72 138.00M502.29 131.00L502.39 138.00M509.96 131.00L510.06 138.00M517.63 131.00L517.73 138.00M525.30 131.00L525.40 138.00M532.97 131.00L533.07 138.00M540.64 131.00L540.74 138.00M548.31 131.00L548.41 138.00M555.98 131.00L556.08 138.00M563.65 131.00L563.75 138.00M571.32 131.00L571.42 138.00M578.99 131.00L579.09 138.00M586.66 131.00L586.76 138.00M594.33 131.00L594.43 138.00M602.00 131.00L602.10 138.00M609.67 131.00L609.77 138.00M617.34 131.00L617.44 138.00M625.01 131.00L625.11 138.00M632.68 131.00L632.78 138.00M640.35 131.00L640.45 138.00M648.02 131.00L648.12 138.00M655.69 131.00L655.79 138.00M663.36 131.00L663.46 138.00M671.03 131.00L671.13 138.00M678.70 131.00L678.80 138.00M686.37 131.00L686.47 138.00M694.04 131.00L694.14 138.00M701.71 131.00L701.81 138.00M709.38 131.00L709.48 138.00M717.05 131.00L717.15 138.00M724.72 131.00L724.82 138.00M732.39 131.00L732.49 138.00M740.06 131.00L740.16 138.00M747.73 131.00L747.83 138.00M755.40 131.00L755.50 138.00M763.07 131.00L763.17 138.00M770.74 131.00L770.84 138.00M778.41 131.00L778.51 138.00M786.08 131.00L786.18 138.00M793.75 131.00L793.85 138.00M801.42 131.00L801.52 138.00M809.09 131.00L809.19 138.00M816.76 131.00L816.86 138.00M824.43 131.00L824.53 138.00M832.10 131.00L832.20 138.00M839.77 131.00L839.87 138.00M847.44 131.00L847.54 138.00M855.11 131.00L855.21 138.00M862.78 131.00L862.88 138.00M870.45 131.00L870.55 138.00M878.12 131.00L878.22 138.00M885.79 131.00L885.89 138.00M893.46 131.00L893.56 138.00M901.13 131.00L901.23 138.00M908.80 131.00L908.90 138.00" fill="none" stroke="#d9a04a" stroke-width="0.4" stroke-linejoin="round" />
<path d="M139.00 221.67L139.50 224.24L140.00 227.00L140.50 229.48L141.00 231.28L141.50 232.09L142.00 231.80L142.50 230.43L143.00 228.23L143.50 225.54L144.00 222.83L144.50 220.53L145.00 219.03L145.50 218.58L146.00 219.24L146.50 220.92L147.00 223.33L147.50 226.07L148.00 228.69L148.50 230.76L149.00 231.94L149.50 232.02L150.00 231.00L150.50 229.05L151.00 226.48L151.50 223.73L152.00 221.24L152.50 219.44L153.00 218.61L153.50 218.90L154.00 220.25L154.50 222.45L155.00 225.13L155.50 227.84L156.00 230.15L156.50 231.66L157.00 232.12L157.50 231.47L158.00 229.80L158.50 227.40L159.00 224.66L159.50 222.03L160.00 219.95L160.50 218.77L161.00 218.67L161.50 219.68L162.00 221.63L162.50 224.19L163.00 226.94L163.50 229.44L164.00 231.25L164.50 232.09L165.00 231.81L165.50 230.47L166.00 228.28L166.50 225.60L167.00 222.88L167.50 220.57L168.00 219.05L168.50 218.58L169.00 219.22L169.50 220.88L170.00 223.27L170.50 226.02L171.00 228.65L171.50 230.73L172.00 231.93L172.50 232.03L173.00 231.03L173.50 229.10L174.00 226.54L174.50 223.78L175.00 221.29L175.50 219.46L176.00 218.61L176.50 218.88L177.00 220.21L177.50 222.40L178.00 225.07L178.50 227.79L179.00 230.11L179.50 231.64L180.00 232.12L180.50 231.49L181.00 229.84L181.50 227.45L182.00 224.71L182.50 222.08L183.00 219.99L183.50 218.78L184.00 218.66L184.50 219.65L185.00 221.58L185.50 224.14L186.00 226.89L186.50 229.39L187.00 231.22L187.50 232.08L188.00 231.83L188.50 230.50L189.00 228.33L189.50 225.66L190.00 222.93L190.50 220.61L191.00 219.08L191.50 218.58L192.00 219.20L192.50 220.84L193.00 223.22L193.50 225.96L194.00 228.60L194.50 230.70L195.00 231.91L195.50 232.04L196.00 231.06L196.50 229.14L197.00 226.59L197.50 223.84L198.00 221.33L198.50 219.49L199.00 218.62L199.50 218.86L200.00 220.18L200.50 222.35L201.00 225.02L201.50 227.74L202.00 230.07L202.50 231.61L203.00 232.12L203.50 231.51L204.00 229.88L204.50 227.50L205.00 224.77L205.50 222.13L206.00 220.02L206.50 218.79L207.00 218.65L207.50 219.62L208.00 221.54L208.50 224.08L209.00 226.84L209.50 229.35L210.00 231.19L210.50 232.08L211.00 231.85L211.50 230.54L212.00 228.38L212.50 225.71L213.00 222.99L213.50 220.65L214.00 219.10L214.50 218.57L215.00 219.17L215.50 220.79L216.00 223.17L216.50 225.90L217.00 228.55L217.50 230.66L218.00 231.90L218.50 232.05L219.00 231.09L219.50 229.19L220.00 226.65L220.50 223.89L221.00 221.38L221.50 219.52L222.00 218.63L222.50 218.85L223.00 220.14L223.50 222.30L224.00 224.96L224.50 227.69L225.00 230.03L225.50 231.59L226.00 232.13L226.50 231.54L227.00 229.93L227.50 227.56L228.00 224.82L228.50 222.18L229.00 220.05L229.50 218.81L230.00 218.65L230.50 219.59L231.00 221.49L231.50 224.03L232.00 226.78L232.50 229.30L233.00 231.17L233.50 232.07L234.00 231.86L234.50 230.58L235.00 228.43L235.50 225.77L236.00 223.04L236.50 220.69L237.00 219.12L237.50 218.57L238.00 219.15L238.50 220.75L239.00 223.12L239.50 225.85L240.00 228.50L240.50 230.63L241.00 231.88L241.50 232.06L242.00 231.12L242.50 229.23L243.00 226.70L243.50 223.94L244.00 221.42L244.50 219.55L245.00 218.63L245.50 218.83L246.00 220.11L246.50 222.25L247.00 224.91L247.50 227.64L248.00 229.99L248.50 231.57L249.00 232.13L249.50 231.56L250.00 229.97L250.50 227.61L251.00 224.88L251.50 222.23L252.00 220.09L252.50 218.82L253.00 218.64L253.50 219.56L254.00 221.44L254.50 223.97L255.00 226.73L255.50 229.26L256.00 231.14L256.50 232.06L257.00 231.88L257.50 230.61L258.00 228.47L258.50 225.82L259.00 223.09L259.50 220.73L260.00 219.14L260.50 218.57L261.00 219.13L261.50 220.71L262.00 223.06L262.50 225.79L263.00 228.45L263.50 230.59L264.00 231.87L264.50 232.07L265.00 231.15L265.50 229.28L266.00 226.76L266.50 224.00L267.00 221.47L267.50 219.58L268.00 218.64L268.50 218.82L269.00 220.07L269.50 222.20L270.00 224.85L270.50 227.58L271.00 229.95L271.50 231.55L272.00 232.13L272.50 231.58L273.00 230.01L273.50 227.66L274.00 224.93L274.50 222.27L275.00 220.12L275.50 218.84L276.00 218.63L276.50 219.53L277.00 221.40L277.50 223.92L278.00 226.67L278.50 229.21L279.00 231.11L279.50 232.05L280.00 231.89L280.50 230.65L281.00 228.52L281.50 225.88L282.00 223.14L282.50 220.77L283.00 219.16L283.50 218.57L284.00 219.11L284.50 220.67L285.00 223.01L285.50 225.74L286.00 228.40L286.50 230.56L287.00 231.85L287.50 232.07L288.00 231.18L288.50 229.32L289.00 226.81L289.50 224.05L290.00 221.51L290.50 219.61L291.00 218.65L291.50 218.80L292.00 220.04L292.50 222.15L293.00 224.80L293.50 227.53L294.00 229.91L294.50 231.53L295.00 232.13L295.50 231.60L296.00 230.05L296.50 227.71L297.00 224.99L297.50 222.32L298.00 220.16L298.50 218.85L299.00 218.62L299.50 219.51L300.00 221.35L300.50 223.86L301.00 226.62L301.50 229.16L302.00 231.08L302.50 232.05L303.00 231.91L303.50 230.68L304.00 228.57L304.50 225.93L305.00 223.20L305.50 220.82L306.00 219.19L306.50 218.58L307.00 219.09L307.50 220.63L308.00 222.96L308.50 225.68L309.00 228.35L309.50 230.52L310.00 231.84L310.50 232.08L311.00 231.21L311.50 229.37L312.00 226.86L312.50 224.11L313.00 221.56L313.50 219.64L314.00 218.66L314.50 218.79L315.00 220.00L315.50 222.10L316.00 224.74L316.50 227.48L317.00 229.86L317.50 231.50L318.00 232.12L318.50 231.62L319.00 230.09L319.50 227.77L320.00 225.04L320.50 222.37L321.00 220.20L321.50 218.87L322.00 218.62L322.50 219.48L323.00 221.31L323.50 223.81L324.00 226.56L324.50 229.12L325.00 231.05L325.50 232.04L326.00 231.92L326.50 230.71L327.00 228.62L327.50 225.99L328.00 223.25L328.50 220.86L329.00 219.21L329.50 218.58L330.00 219.06L330.50 220.59L331.00 222.91L331.50 225.63L332.00 228.30L332.50 230.49L333.00 231.82L333.50 232.09L334.00 231.24L334.50 229.41L335.00 226.92L335.50 224.16L336.00 221.60L336.50 219.67L337.00 218.67L337.50 218.77L338.00 219.97L338.50 222.05L339.00 224.68L339.50 227.43L340.00 229.82L340.50 231.48L341.00 232.12L341.50 231.65L342.00 230.13L342.50 227.82L343.00 225.10L343.50 222.42L344.00 220.23L344.50 218.89L345.00 218.61L345.50 219.45L346.00 221.26L346.50 223.76L347.00 226.51L347.50 229.07L348.00 231.02L348.50 232.03L349.00 231.93L349.50 230.75L350.00 228.67L350.50 226.04L351.00 223.30L351.50 220.90L352.00 219.23L352.50 218.58L353.00 219.04L353.50 220.55L354.00 222.86L354.50 225.57L355.00 228.25L355.50 230.45L356.00 231.80L356.50 232.09L357.00 231.26L357.50 229.46L358.00 226.97L358.50 224.22L359.00 221.65L359.50 219.70L360.00 218.68L360.50 218.76L361.00 219.94L361.50 222.01L362.00 224.63L362.50 227.37L363.00 229.78L363.50 231.46L364.00 232.12L364.50 231.67L365.00 230.17L365.50 227.87L366.00 225.16L366.50 222.47L367.00 220.27L367.50 218.90L368.00 218.61L368.50 219.42L369.00 221.22L369.50 223.70L370.00 226.46L370.50 229.03L371.00 230.99L371.50 232.02L372.00 231.95L372.50 230.78L373.00 228.72L373.50 226.10L374.00 223.35L374.50 220.94L375.00 219.26L375.50 218.58L376.00 219.02L376.50 220.51L377.00 222.81L377.50 225.52L378.00 228.20L378.50 230.41L379.00 231.79L379.50 232.10L380.00 231.29L380.50 229.50L381.00 227.03L381.50 224.27L382.00 221.70L382.50 219.73L383.00 218.69L383.50 218.75L384.00 219.90L384.50 221.96L385.00 224.57L385.50 227.32L386.00 229.74L386.50 231.43L387.00 232.12L387.50 231.69L388.00 230.20L388.50 227.92L389.00 225.21L389.50 222.52L390.00 220.31L390.50 218.92L391.00 218.60L391.50 219.40L392.00 221.18L392.50 223.65L393.00 226.40L393.50 228.98L394.00 230.96L394.50 232.01L395.00 231.96L395.50 230.81L396.00 228.77L396.50 226.15L397.00 223.41L397.50 220.98L398.00 219.28L398.50 218.58L399.00 219.00L399.50 220.48L400.00 222.75L400.50 225.46L401.00 228.15L401.50 230.38L402.00 231.77L402.50 232.10L403.00 231.32L403.50 229.55L404.00 227.08L404.50 224.33L405.00 221.74L405.50 219.76L406.00 218.70L406.50 218.74L407.00 219.87L407.50 221.91L408.00 224.52L408.50 227.27L409.00 229.70L409.50 231.41L410.00 232.12L410.50 231.71L411.00 230.24L411.50 227.97L412.00 225.27L412.50 222.58L413.00 220.34L413.50 218.94L414.00 218.60L414.50 219.37L415.00 221.13L415.50 223.59L416.00 226.35L416.50 228.93L417.00 230.93L417.50 232.00L418.00 231.97L418.50 230.85L419.00 228.81L419.50 226.21L420.00 223.46L420.50 221.03L421.00 219.31L421.50 218.59L422.00 218.99L422.50 220.44L423.00 222.70L423.50 225.41L424.00 228.10L424.50 230.34L425.00 231.75L425.50 232.11L426.00 231.34L426.50 229.59L427.00 227.13L427.50 224.38L428.00 221.79L428.50 219.79L429.00 218.71L429.50 218.72L430.00 219.84L430.50 221.86L431.00 224.46L431.50 227.21L432.00 229.65L432.50 231.38L433.00 232.11L433.50 231.72L434.00 230.28L434.50 228.02L435.00 225.32L435.50 222.63L436.00 220.38L436.50 218.96L437.00 218.59L437.50 219.34L438.00 221.09L438.50 223.54L439.00 226.29L439.50 228.89L440.00 230.89L440.50 231.99L441.00 231.98L441.50 230.88L442.00 228.86L442.50 226.26L443.00 223.51L443.50 221.07L444.00 219.33L444.50 218.59L445.00 218.97L445.50 220.40L446.00 222.65L446.50 225.35L447.00 228.05L447.50 230.30L448.00 231.73L448.50 232.11L449.00 231.37L449.50 229.63L450.00 227.19L450.50 224.44L451.00 221.84L451.50 219.82L452.00 218.72L452.50 218.71L453.00 219.81L453.50 221.81L454.00 224.41L454.50 227.16L455.00 229.61L455.50 231.36L456.00 232.11L456.50 231.74L457.00 230.32L457.50 228.07L458.00 225.38L458.50 222.68L459.00 220.42L459.50 218.98L460.00 218.59L460.50 219.32L461.00 221.05L461.50 223.49L462.00 226.24L462.50 228.84L463.00 230.86L463.50 231.98L464.00 231.99L464.50 230.91L465.00 228.91L465.50 226.32L466.00 223.57L466.50 221.11L467.00 219.36L467.50 218.59L468.00 218.95L468.50 220.36L469.00 222.60L469.50 225.29L470.00 228.00L470.50 230.26L471.00 231.71L471.50 232.11L472.00 231.39L472.50 229.67L473.00 227.24L473.50 224.49L474.00 221.89L474.50 219.85L475.00 218.73L475.50 218.70L476.00 219.77L476.50 221.77L477.00 224.35L477.50 227.11L478.00 229.57L478.50 231.33L479.00 232.10L479.50 231.76L480.00 230.36L480.50 228.12L481.00 225.43L481.50 222.73L482.00 220.46L482.50 218.99L483.00 218.58L483.50 219.29L484.00 221.00L484.50 223.43L485.00 226.18L485.50 228.79L486.00 230.83L486.50 231.96L487.00 232.00L487.50 230.94L488.00 228.96L488.50 226.37L489.00 223.62L489.50 221.15L490.00 219.38L490.50 218.60L491.00 218.93L491.50 220.32L492.00 222.55L492.50 225.24L493.00 227.95L493.50 230.22L494.00 231.70L494.50 232.12L495.00 231.42L495.50 229.72L496.00 227.29L496.50 224.55L497.00 221.93L497.50 219.89L498.00 218.74L498.50 218.69L499.00 219.74L499.50 221.72L500.00 224.30L500.50 227.05L501.00 229.52L501.50 231.30L502.00 232.10L502.50 231.78L503.00 230.39L503.50 228.18L504.00 225.49L504.50 222.78L505.00 220.50L505.50 219.01L506.00 218.58L506.50 219.27L507.00 220.96L507.50 223.38L508.00 226.13L508.50 228.74L509.00 230.80L509.50 231.95L510.00 232.01L510.50 230.97L511.00 229.00L511.50 226.43L512.00 223.67L512.50 221.20L513.00 219.41L513.50 218.60L514.00 218.91L514.50 220.29L515.00 222.50L515.50 225.18L516.00 227.89L516.50 230.19L517.00 231.68L517.50 232.12L518.00 231.44L518.50 229.76L519.00 227.35L519.50 224.60L520.00 221.98L520.50 219.92L521.00 218.75L521.50 218.68L522.00 219.71L522.50 221.67L523.00 224.24L523.50 227.00L524.00 229.48L524.50 231.28L525.00 232.09L525.50 231.80L526.00 230.43L526.50 228.23L527.00 225.54L527.50 222.83L528.00 220.53L528.50 219.03L529.00 218.58L529.50 219.24L530.00 220.92L530.50 223.33L531.00 226.07L531.50 228.69L532.00 230.76L532.50 231.94L533.00 232.02L533.50 231.00L534.00 229.05L534.50 226.48L535.00 223.73L535.50 221.24L536.00 219.44L536.50 218.61L537.00 218.90L537.50 220.25L538.00 222.45L538.50 225.13L539.00 227.84L539.50 230.15L540.00 231.66L540.50 232.12L541.00 231.47L541.50 229.80L542.00 227.40L542.50 224.66L543.00 222.03L543.50 219.95L544.00 218.77L544.50 218.67L545.00 219.68L545.50 221.63L546.00 224.19L546.50 226.94L547.00 229.44L547.50 231.25L548.00 232.09L548.50 231.81L549.00 230.47L549.50 228.28L550.00 225.60L550.50 222.88L551.00 220.57L551.50 219.05L552.00 218.58L552.50 219.22L553.00 220.88L553.50 223.27L554.00 226.02L554.50 228.65L555.00 230.73L555.50 231.93L556.00 232.03L556.50 231.03L557.00 229.10L557.50 226.54L558.00 223.78L558.50 221.29L559.00 219.46L559.50 218.61L560.00 218.88L560.50 220.21L561.00 222.40L561.50 225.07L562.00 227.79L562.50 230.11L563.00 231.64L563.50 232.12L564.00 231.49L564.50 229.84L565.00 227.45L565.50 224.71L566.00 222.08L566.50 219.99L567.00 218.78L567.50 218.66L568.00 219.65L568.50 221.58L569.00 224.14L569.50 226.89L570.00 229.39L570.50 231.22L571.00 232.08L571.50 231.83L572.00 230.50L572.50 228.33L573.00 225.66L573.50 222.93L574.00 220.61L574.50 219.08L575.00 218.58L575.50 219.20L576.00 220.84L576.50 223.22L577.00 225.96L577.50 228.60L578.00 230.70L578.50 231.91L579.00 232.04L579.50 231.06L580.00 229.14L580.50 226.59L581.00 223.84L581.50 221.33L582.00 219.49L582.50 218.62L583.00 218.86L583.50 220.18L584.00 222.35L584.50 225.02L585.00 227.74L585.50 230.07L586.00 231.61L586.50 232.12L587.00 231.51L587.50 229.88L588.00 227.50L588.50 224.77L589.00 222.13L589.50 220.02L590.00 218.79L590.50 218.65L591.00 219.62L591.50 221.54L592.00 224.08L592.50 226.84L593.00 229.35L593.50 231.19L594.00 232.08L594.50 231.85L595.00 230.54L595.50 228.38L596.00 225.71L596.50 222.99L597.00 220.65L597.50 219.10L598.00 218.57L598.50 219.17L599.00 220.79L599.50 223.17L600.00 225.90L600.50 228.55L601.00 230.66L601.50 231.90L602.00 232.05L602.50 231.09L603.00 229.19L603.50 226.65L604.00 223.89L604.50 221.38L605.00 219.52L605.50 218.63L606.00 218.85L606.50 220.14L607.00 222.30L607.50 224.96L608.00 227.69L608.50 230.03L609.00 231.59L609.50 232.13L610.00 231.54L610.50 229.93L611.00 227.56L611.50 224.82L612.00 222.18L612.50 220.05L613.00 218.81L613.50 218.65L614.00 219.59L614.50 221.49L615.00 224.03L615.50 226.78L616.00 229.30L616.50 231.17L617.00 232.07L617.50 231.86L618.00 230.58L618.50 228.43L619.00 225.77L619.50 223.04L620.00 220.69L620.50 219.12L621.00 218.57L621.50 219.15L622.00 220.75L622.50 223.12L623.00 225.85L623.50 228.50L624.00 230.63L624.50 231.88L625.00 232.06L625.50 231.12L626.00 229.23L626.50 226.70L627.00 223.94L627.50 221.42L628.00 219.55L628.50 218.63L629.00 218.83L629.50 220.11L630.00 222.25L630.50 224.91L631.00 227.64L631.50 229.99L632.00 231.57L632.50 232.13L633.00 231.56L633.50 229.97L634.00 227.61L634.50 224.88L635.00 222.23L635.50 220.09L636.00 218.82L636.50 218.64L637.00 219.56L637.50 221.44L638.00 223.97L638.50 226.73L639.00 229.26L639.50 231.14L640.00 232.06L640.50 231.88L641.00 230.61L641.50 228.47L642.00 225.82L642.50 223.09L643.00 220.73L643.50 219.14L644.00 218.57L644.50 219.13L645.00 220.71L645.50 223.06L646.00 225.79L646.50 228.45L647.00 230.59L647.50 231.87L648.00 232.07L648.50 231.15L649.00 229.28L649.50 226.76L650.00 224.00L650.50 221.47L651.00 219.58L651.50 218.64L652.00 218.82L652.50 220.07L653.00 222.20L653.50 224.85L654.00 227.58L654.50 229.95L655.00 231.55L655.50 232.13L656.00 231.58L656.50 230.01L657.00 227.66L657.50 224.93L658.00 222.27L658.50 220.12L659.00 218.84L659.50 218.63L660.00 219.53L660.50 221.40L661.00 223.92L661.50 226.67L662.00 229.21L662.50 231.11L663.00 232.05L663.50 231.89L664.00 230.65L664.50 228.52L665.00 225.88L665.50 223.14L666.00 220.77L666.50 219.16L667.00 218.57L667.50 219.11L668.00 220.67L668.50 223.01L669.00 225.74L669.50 228.40L670.00 230.56L670.50 231.85L671.00 232.07L671.50 231.18L672.00 229.32L672.50 226.81L673.00 224.05L673.50 221.51L674.00 219.61L674.50 218.65L675.00 218.80L675.50 220.04L676.00 222.15L676.50 224.80L677.00 227.53L677.50 229.91L678.00 231.53L678.50 232.13L679.00 231.60L679.50 230.05L680.00 227.71L680.50 224.99L681.00 222.32L681.50 220.16L682.00 218.85L682.50 218.62L683.00 219.51L683.50 221.35L684.00 223.86L684.50 226.62L685.00 229.16L685.50 231.08L686.00 232.05L686.50 231.91L687.00 230.68L687.50 228.57L688.00 225.93L688.50 223.20L689.00 220.82L689.50 219.19L690.00 218.58L690.50 219.09L691.00 220.63L691.50 222.96L692.00 225.68L692.50 228.35L693.00 230.52L693.50 231.84L694.00 232.08L694.50 231.21L695.00 229.37L695.50 226.86L696.00 224.11L696.50 221.56L697.00 219.64L697.50 218.66L698.00 218.79L698.50 220.00L699.00 222.10L699.50 224.74L700.00 227.48L700.50 229.86L701.00 231.50L701.50 232.12L702.00 231.62L702.50 230.09L703.00 227.77L703.50 225.04L704.00 222.37L704.50 220.20L705.00 218.87L705.50 218.62L706.00 219.48L706.50 221.31L707.00 223.81L707.50 226.56L708.00 229.12L708.50 231.05L709.00 232.04L709.50 231.92L710.00 230.71L710.50 228.62L711.00 225.99L711.50 223.25L712.00 220.86L712.50 219.21L713.00 218.58L713.50 219.06L714.00 220.59L714.50 222.91L715.00 225.63L715.50 228.30L716.00 230.49L716.50 231.82L717.00 232.09L717.50 231.24L718.00 229.41L718.50 226.92L719.00 224.16L719.50 221.60L720.00 219.67L720.50 218.67L721.00 218.77L721.50 219.97L722.00 222.05L722.50 224.68L723.00 227.43L723.50 229.82L724.00 231.48L724.50 232.12L725.00 231.65L725.50 230.13L726.00 227.82L726.50 225.10L727.00 222.42L727.50 220.23L728.00 218.89L728.50 218.61L729.00 219.45L729.50 221.26L730.00 223.76L730.50 226.51L731.00 229.07L731.50 231.02L732.00 232.03L732.50 231.93L733.00 230.75L733.50 228.67L734.00 226.04L734.50 223.30L735.00 220.90L735.50 219.23L736.00 218.58L736.50 219.04L737.00 220.55L737.50 222.86L738.00 225.57L738.50 228.25L739.00 230.45L739.50 231.80L740.00 232.09L740.50 231.26L741.00 229.46L741.50 226.97L742.00 224.22L742.50 221.65L743.00 219.70L743.50 218.68L744.00 218.76L744.50 219.94L745.00 222.01L745.50 224.63L746.00 227.37L746.50 229.78L747.00 231.46L747.50 232.12L748.00 231.67L748.50 230.17L749.00 227.87L749.50 225.16L750.00 222.47L750.50 220.27L751.00 218.90L751.50 218.61L752.00 219.42L752.50 221.22L753.00 223.70L753.50 226.46L754.00 229.03L754.50 230.99L755.00 232.02L755.50 231.95L756.00 230.78L756.50 228.72L757.00 226.10L757.50 223.35L758.00 220.94L758.50 219.26L759.00 218.58L759.50 219.02L760.00 220.51L760.50 222.81L761.00 225.52L761.50 228.20L762.00 230.41L762.50 231.79L763.00 232.10L763.50 231.29L764.00 229.50L764.50 227.03L765.00 224.27L765.50 221.70L766.00 219.73L766.50 218.69L767.00 218.75L767.50 219.90L768.00 221.96L768.50 224.57L769.00 227.32L769.50 229.74L770.00 231.43L770.50 232.12L771.00 231.69L771.50 230.20L772.00 227.92L772.50 225.21L773.00 222.52L773.50 220.31L774.00 218.92L774.50 218.60L775.00 219.40L775.50 221.18L776.00 223.65L776.50 226.40L777.00 228.98L777.50 230.96L778.00 232.01L778.50 231.96L779.00 230.81L779.50 228.77L780.00 226.15L780.50 223.41L781.00 220.98L781.50 219.28L782.00 218.58L782.50 219.00L783.00 220.48L783.50 222.75L784.00 225.46L784.50 228.15L785.00 230.38L785.50 231.77L786.00 232.10L786.50 231.32L787.00 229.55L787.50 227.08L788.00 224.33L788.50 221.74L789.00 219.76L789.50 218.70L790.00 218.74L790.50 219.87L791.00 221.91L791.50 224.52L792.00 227.27L792.50 229.70L793.00 231.41L793.50 232.12L794.00 231.71L794.50 230.24L795.00 227.97L795.50 225.27L796.00 222.58L796.50 220.34L797.00 218.94L797.50 218.60L798.00 219.37L798.50 221.13L799.00 223.59L799.50 226.35L800.00 228.93L800.50 230.93L801.00 232.00L801.50 231.97L802.00 230.85L802.50 228.81L803.00 226.21L803.50 223.46L804.00 221.03L804.50 219.31L805.00 218.59L805.50 218.99L806.00 220.44L806.50 222.70L807.00 225.41L807.50 228.10L808.00 230.34L808.50 231.75L809.00 232.11L809.50 231.34L810.00 229.59L810.50 227.13L811.00 224.38L811.50 221.79L812.00 219.79L812.50 218.71L813.00 218.72L813.50 219.84L814.00 221.86L814.50 224.46L815.00 227.21L815.50 229.65L816.00 231.38L816.50 232.11L817.00 231.72L817.50 230.28L818.00 228.02L818.50 225.32L819.00 222.63L819.50 220.38L820.00 218.96L820.50 218.59L821.00 219.34L821.50 221.09L822.00 223.54L822.50 226.29L823.00 228.89L823.50 230.89L824.00 231.99L824.50 231.98L825.00 230.88L825.50 228.86L826.00 226.26L826.50 223.51L827.00 221.07L827.50 219.33L828.00 218.59L828.50 218.97L829.00 220.40L829.50 222.65L830.00 225.35L830.50 228.05L831.00 230.30L831.50 231.73L832.00 232.11L832.50 231.37L833.00 229.63L833.50 227.19L834.00 224.44L834.50 221.84L835.00 219.82L835.50 218.72L836.00 218.71L836.50 219.81L837.00 221.81L837.50 224.41L838.00 227.16L838.50 229.61L839.00 231.36L839.50 232.11L840.00 231.74L840.50 230.32L841.00 228.07L841.50 225.38L842.00 222.68L842.50 220.42L843.00 218.98L843.50 218.59L844.00 219.32L844.50 221.05L845.00 223.49L845.50 226.24L846.00 228.84L846.50 230.86L847.00 231.98L847.50 231.99L848.00 230.91L848.50 228.91L849.00 226.32L849.50 223.57L850.00 221.11L850.50 219.36L851.00 218.59L851.50 218.95L852.00 220.36L852.50 222.60L853.00 225.29L853.50 228.00L854.00 230.26L854.50 231.71L855.00 232.11L855.50 231.39L856.00 229.67L856.50 227.24L857.00 224.49L857.50 221.89L858.00 219.85L858.50 218.73L859.00 218.70L859.50 219.77L860.00 221.77L860.50 224.35L861.00 227.11L861.50 229.57L862.00 231.33L862.50 232.10L863.00 231.76L863.50 230.36L864.00 228.12L864.50 225.43L865.00 222.73L865.50 220.46L866.00 218.99L866.50 218.58L867.00 219.29L867.50 221.00L868.00 223.43L868.50 226.18L869.00 228.79L869.50 230.83L870.00 231.96L870.50 232.00L871.00 230.94L871.50 228.96L872.00 226.37L872.50 223.62L873.00 221.15L873.50 219.38L874.00 218.60L874.50 218.93L875.00 220.32L875.50 222.55L876.00 225.24L876.50 227.95L877.00 230.22L877.50 231.70L878.00 232.12L878.50 231.42L879.00 229.72L879.50 227.29L880.00 224.55L880.50 221.93L881.00 219.89L881.50 218.74L882.00 218.69L882.50 219.74L883.00 221.72L883.50 224.30L884.00 227.05L884.50 229.52L885.00 231.30L885.50 232.10L886.00 231.78L886.50 230.39L887.00 228.18L887.50 225.49L888.00 222.78L888.50 220.50L889.00 219.01L889.50 218.58L890.00 219.27L890.50 220.96L891.00 223.38L891.50 226.13L892.00 228.74L892.50 230.80L893.00 231.95L893.50 232.01L894.00 230.97L894.50 229.00L895.00 226.43L895.50 223.67L896.00 221.20L896.50 219.41L897.00 218.60L897.50 218.91L898.00 220.29L898.50 222.50L899.00 225.18L899.50 227.89L900.00 230.19L900.50 231.68L901.00 232.12L901.50 231.44L902.00 229.76L902.50 227.35L903.00 224.60L903.50 221.98L904.00 219.92L904.50 218.75L905.00 218.68" fill="none" stroke="#E24A33" stroke-width="1.4" stroke-linejoin="round"/>
<path d="M139.00 219.33L139.50 218.59L140.00 218.97L140.50 220.40L141.00 222.65L141.50 225.35L142.00 228.05L142.50 230.30L143.00 231.73L143.50 232.11L144.00 231.37L144.50 229.63L145.00 227.19L145.50 224.44L146.00 221.84L146.50 219.82L147.00 218.72L147.50 218.71L148.00 219.81L148.50 221.81L149.00 224.41L149.50 227.16L150.00 229.61L150.50 231.36L151.00 232.11L151.50 231.74L152.00 230.32L152.50 228.07L153.00 225.38L153.50 222.68L154.00 220.42L154.50 218.98L155.00 218.59L155.50 219.32L156.00 221.05L156.50 223.49L157.00 226.24L157.50 228.84L158.00 230.86L158.50 231.98L159.00 231.99L159.50 230.91L160.00 228.91L160.50 226.32L161.00 223.57L161.50 221.11L162.00 219.36L162.50 218.59L163.00 218.95L163.50 220.36L164.00 222.60L164.50 225.29L165.00 228.00L165.50 230.26L166.00 231.71L166.50 232.11L167.00 231.39L167.50 229.67L168.00 227.24L168.50 224.49L169.00 221.89L169.50 219.85L170.00 218.73L170.50 218.70L171.00 219.77L171.50 221.77L172.00 224.35L172.50 227.11L173.00 229.57L173.50 231.33L174.00 232.10L174.50 231.76L175.00 230.36L175.50 228.12L176.00 225.43L176.50 222.73L177.00 220.46L177.50 218.99L178.00 218.58L178.50 219.29L179.00 221.00L179.50 223.43L180.00 226.18L180.50 228.79L181.00 230.83L181.50 231.96L182.00 232.00L182.50 230.94L183.00 228.96L183.50 226.37L184.00 223.62L184.50 221.15L185.00 219.38L185.50 218.60L186.00 218.93L186.50 220.32L187.00 222.55L187.50 225.24L188.00 227.95L188.50 230.22L189.00 231.70L189.50 232.12L190.00 231.42L190.50 229.72L191.00 227.29L191.50 224.55L192.00 221.93L192.50 219.89L193.00 218.74L193.50 218.69L194.00 219.74L194.50 221.72L195.00 224.30L195.50 227.05L196.00 229.52L196.50 231.30L197.00 232.10L197.50 231.78L198.00 230.39L198.50 228.18L199.00 225.49L199.50 222.78L200.00 220.50L200.50 219.01L201.00 218.58L201.50 219.27L202.00 220.96L202.50 223.38L203.00 226.13L203.50 228.74L204.00 230.80L204.50 231.95L205.00 232.01L205.50 230.97L206.00 229.00L206.50 226.43L207.00 223.67L207.50 221.20L208.00 219.41L208.50 218.60L209.00 218.91L209.50 220.29L210.00 222.50L210.50 225.18L211.00 227.89L211.50 230.19L212.00 231.68L212.50 232.12L213.00 231.44L213.50 229.76L214.00 227.35L214.50 224.60L215.00 221.98L215.50 219.92L216.00 218.75L216.50 218.68L217.00 219.71L217.50 221.67L218.00 224.24L218.50 227.00L219.00 229.48L219.50 231.28L220.00 232.09L220.50 231.80L221.00 230.43L221.50 228.23L222.00 225.54L222.50 222.83L223.00 220.53L223.50 219.03L224.00 218.58L224.50 219.24L225.00 220.92L225.50 223.33L226.00 226.07L226.50 228.69L227.00 230.76L227.50 231.94L228.00 232.02L228.50 231.00L229.00 229.05L229.50 226.48L230.00 223.73L230.50 221.24L231.00 219.44L231.50 218.61L232.00 218.90L232.50 220.25L233.00 222.45L233.50 225.13L234.00 227.84L234.50 230.15L235.00 231.66L235.50 232.12L236.00 231.47L236.50 229.80L237.00 227.40L237.50 224.66L238.00 222.03L238.50 219.95L239.00 218.77L239.50 218.67L240.00 219.68L240.50 221.63L241.00 224.19L241.50 226.94L242.00 229.44L242.50 231.25L243.00 232.09L243.50 231.81L244.00 230.47L244.50 228.28L245.00 225.60L245.50 222.88L246.00 220.57L246.50 219.05L247.00 218.58L247.50 219.22L248.00 220.88L248.50 223.27L249.00 226.02L249.50 228.65L250.00 230.73L250.50 231.93L251.00 232.03L251.50 231.03L252.00 229.10L252.50 226.54L253.00 223.78L253.50 221.29L254.00 219.46L254.50 218.61L255.00 218.88L255.50 220.21L256.00 222.40L256.50 225.07L257.00 227.79L257.50 230.11L258.00 231.64L258.50 232.12L259.00 231.49L259.50 229.84L260.00 227.45L260.50 224.71L261.00 222.08L261.50 219.99L262.00 218.78L262.50 218.66L263.00 219.65L263.50 221.58L264.00 224.14L264.50 226.89L265.00 229.39L265.50 231.22L266.00 232.08L266.50 231.83L267.00 230.50L267.50 228.33L268.00 225.66L268.50 222.93L269.00 220.61L269.50 219.08L270.00 218.58L270.50 219.20L271.00 220.84L271.50 223.22L272.00 225.96L272.50 228.60L273.00 230.70L273.50 231.91L274.00 232.04L274.50 231.06L275.00 229.14L275.50 226.59L276.00 223.84L276.50 221.33L277.00 219.49L277.50 218.62L278.00 218.86L278.50 220.18L279.00 222.35L279.50 225.02L280.00 227.74L280.50 230.07L281.00 231.61L281.50 232.12L282.00 231.51L282.50 229.88L283.00 227.50L283.50 224.77L284.00 222.13L284.50 220.02L285.00 218.79L285.50 218.65L286.00 219.62L286.50 221.54L287.00 224.08L287.50 226.84L288.00 229.35L288.50 231.19L289.00 232.08L289.50 231.85L290.00 230.54L290.50 228.38L291.00 225.71L291.50 222.99L292.00 220.65L292.50 219.10L293.00 218.57L293.50 219.17L294.00 220.79L294.50 223.17L295.00 225.90L295.50 228.55L296.00 230.66L296.50 231.90L297.00 232.05L297.50 231.09L298.00 229.19L298.50 226.65L299.00 223.89L299.50 221.38L300.00 219.52L300.50 218.63L301.00 218.85L301.50 220.14L302.00 222.30L302.50 224.96L303.00 227.69L303.50 230.03L304.00 231.59L304.50 232.13L305.00 231.54L305.50 229.93L306.00 227.56L306.50 224.82L307.00 222.18L307.50 220.05L308.00 218.81L308.50 218.65L309.00 219.59L309.50 221.49L310.00 224.03L310.50 226.78L311.00 229.30L311.50 231.17L312.00 232.07L312.50 231.86L313.00 230.58L313.50 228.43L314.00 225.77L314.50 223.04L315.00 220.69L315.50 219.12L316.00 218.57L316.50 219.15L317.00 220.75L317.50 223.12L318.00 225.85L318.50 228.50L319.00 230.63L319.50 231.88L320.00 232.06L320.50 231.12L321.00 229.23L321.50 226.70L322.00 223.94L322.50 221.42L323.00 219.55L323.50 218.63L324.00 218.83L324.50 220.11L325.00 222.25L325.50 224.91L326.00 227.64L326.50 229.99L327.00 231.57L327.50 232.13L328.00 231.56L328.50 229.97L329.00 227.61L329.50 224.88L330.00 222.23L330.50 220.09L331.00 218.82L331.50 218.64L332.00 219.56L332.50 221.44L333.00 223.97L333.50 226.73L334.00 229.26L334.50 231.14L335.00 232.06L335.50 231.88L336.00 230.61L336.50 228.47L337.00 225.82L337.50 223.09L338.00 220.73L338.50 219.14L339.00 218.57L339.50 219.13L340.00 220.71L340.50 223.06L341.00 225.79L341.50 228.45L342.00 230.59L342.50 231.87L343.00 232.07L343.50 231.15L344.00 229.28L344.50 226.76L345.00 224.00L345.50 221.47L346.00 219.58L346.50 218.64L347.00 218.82L347.50 220.07L348.00 222.20L348.50 224.85L349.00 227.58L349.50 229.95L350.00 231.55L350.50 232.13L351.00 231.58L351.50 230.01L352.00 227.66L352.50 224.93L353.00 222.27L353.50 220.12L354.00 218.84L354.50 218.63L355.00 219.53L355.50 221.40L356.00 223.92L356.50 226.67L357.00 229.21L357.50 231.11L358.00 232.05L358.50 231.89L359.00 230.65L359.50 228.52L360.00 225.88L360.50 223.14L361.00 220.77L361.50 219.16L362.00 218.57L362.50 219.11L363.00 220.67L363.50 223.01L364.00 225.74L364.50 228.40L365.00 230.56L365.50 231.85L366.00 232.07L366.50 231.18L367.00 229.32L367.50 226.81L368.00 224.05L368.50 221.51L369.00 219.61L369.50 218.65L370.00 218.80L370.50 220.04L371.00 222.15L371.50 224.80L372.00 227.53L372.50 229.91L373.00 231.53L373.50 232.13L374.00 231.60L374.50 230.05L375.00 227.71L375.50 224.99L376.00 222.32L376.50 220.16L377.00 218.85L377.50 218.62L378.00 219.51L378.50 221.35L379.00 223.86L379.50 226.62L380.00 229.16L380.50 231.08L381.00 232.05L381.50 231.91L382.00 230.68L382.50 228.57L383.00 225.93L383.50 223.20L384.00 220.82L384.50 219.19L385.00 218.58L385.50 219.09L386.00 220.63L386.50 222.96L387.00 225.68L387.50 228.35L388.00 230.52L388.50 231.84L389.00 232.08L389.50 231.21L390.00 229.37L390.50 226.86L391.00 224.11L391.50 221.56L392.00 219.64L392.50 218.66L393.00 218.79L393.50 220.00L394.00 222.10L394.50 224.74L395.00 227.48L395.50 229.86L396.00 231.50L396.50 232.12L397.00 231.62L397.50 230.09L398.00 227.77L398.50 225.04L399.00 222.37L399.50 220.20L400.00 218.87L400.50 218.62L401.00 219.48L401.50 221.31L402.00 223.81L402.50 226.56L403.00 229.12L403.50 231.05L404.00 232.04L404.50 231.92L405.00 230.71L405.50 228.62L406.00 225.99L406.50 223.25L407.00 220.86L407.50 219.21L408.00 218.58L408.50 219.06L409.00 220.59L409.50 222.91L410.00 225.63L410.50 228.30L411.00 230.49L411.50 231.82L412.00 232.09L412.50 231.24L413.00 229.41L413.50 226.92L414.00 224.16L414.50 221.60L415.00 219.67L415.50 218.67L416.00 218.77L416.50 219.97L417.00 222.05L417.50 224.68L418.00 227.43L418.50 229.82L419.00 231.48L419.50 232.12L420.00 231.65L420.50 230.13L421.00 227.82L421.50 225.10L422.00 222.42L422.50 220.23L423.00 218.89L423.50 218.61L424.00 219.45L424.50 221.26L425.00 223.76L425.50 226.51L426.00 229.07L426.50 231.02L427.00 232.03L427.50 231.93L428.00 230.75L428.50 228.67L429.00 226.04L429.50 223.30L430.00 220.90L430.50 219.23L431.00 218.58L431.50 219.04L432.00 220.55L432.50 222.86L433.00 225.57L433.50 228.25L434.00 230.45L434.50 231.80L435.00 232.09L435.50 231.26L436.00 229.46L436.50 226.97L437.00 224.22L437.50 221.65L438.00 219.70L438.50 218.68L439.00 218.76L439.50 219.94L440.00 222.01L440.50 224.63L441.00 227.37L441.50 229.78L442.00 231.46L442.50 232.12L443.00 231.67L443.50 230.17L444.00 227.87L444.50 225.16L445.00 222.47L445.50 220.27L446.00 218.90L446.50 218.61L447.00 219.42L447.50 221.22L448.00 223.70L448.50 226.46L449.00 229.03L449.50 230.99L450.00 232.02L450.50 231.95L451.00 230.78L451.50 228.72L452.00 226.10L452.50 223.35L453.00 220.94L453.50 219.26L454.00 218.58L454.50 219.02L455.00 220.51L455.50 222.81L456.00 225.52L456.50 228.20L457.00 230.41L457.50 231.79L458.00 232.10L458.50 231.29L459.00 229.50L459.50 227.03L460.00 224.27L460.50 221.70L461.00 219.73L461.50 218.69L462.00 218.75L462.50 219.90L463.00 221.96L463.50 224.57L464.00 227.32L464.50 229.74L465.00 231.43L465.50 232.12L466.00 231.69L466.50 230.20L467.00 227.92L467.50 225.21L468.00 222.52L468.50 220.31L469.00 218.92L469.50 218.60L470.00 219.40L470.50 221.18L471.00 223.65L471.50 226.40L472.00 228.98L472.50 230.96L473.00 232.01L473.50 231.96L474.00 230.81L474.50 228.77L475.00 226.15L475.50 223.41L476.00 220.98L476.50 219.28L477.00 218.58L477.50 219.00L478.00 220.48L478.50 222.75L479.00 225.46L479.50 228.15L480.00 230.38L480.50 231.77L481.00 232.10L481.50 231.32L482.00 229.55L482.50 227.08L483.00 224.33L483.50 221.74L484.00 219.76L484.50 218.70L485.00 218.74L485.50 219.87L486.00 221.91L486.50 224.52L487.00 227.27L487.50 229.70L488.00 231.41L488.50 232.12L489.00 231.71L489.50 230.24L490.00 227.97L490.50 225.27L491.00 222.58L491.50 220.34L492.00 218.94L492.50 218.60L493.00 219.37L493.50 221.13L494.00 223.59L494.50 226.35L495.00 228.93L495.50 230.93L496.00 232.00L496.50 231.97L497.00 230.85L497.50 228.81L498.00 226.21L498.50 223.46L499.00 221.03L499.50 219.31L500.00 218.59L500.50 218.99L501.00 220.44L501.50 222.70L502.00 225.41L502.50 228.10L503.00 230.34L503.50 231.75L504.00 232.11L504.50 231.34L505.00 229.59L505.50 227.13L506.00 224.38L506.50 221.79L507.00 219.79L507.50 218.71L508.00 218.72L508.50 219.84L509.00 221.86L509.50 224.46L510.00 227.21L510.50 229.65L511.00 231.38L511.50 232.11L512.00 231.72L512.50 230.28L513.00 228.02L513.50 225.32L514.00 222.63L514.50 220.38L515.00 218.96L515.50 218.59L516.00 219.34L516.50 221.09L517.00 223.54L517.50 226.29L518.00 228.89L518.50 230.89L519.00 231.99L519.50 231.98L520.00 230.88L520.50 228.86L521.00 226.26L521.50 223.51L522.00 221.07L522.50 219.33L523.00 218.59L523.50 218.97L524.00 220.40L524.50 222.65L525.00 225.35L525.50 228.05L526.00 230.30L526.50 231.73L527.00 232.11L527.50 231.37L528.00 229.63L528.50 227.19L529.00 224.44L529.50 221.84L530.00 219.82L530.50 218.72L531.00 218.71L531.50 219.81L532.00 221.81L532.50 224.41L533.00 227.16L533.50 229.61L534.00 231.36L534.50 232.11L535.00 231.74L535.50 230.32L536.00 228.07L536.50 225.38L537.00 222.68L537.50 220.42L538.00 218.98L538.50 218.59L539.00 219.32L539.50 221.05L540.00 223.49L540.50 226.24L541.00 228.84L541.50 230.86L542.00 231.98L542.50 231.99L543.00 230.91L543.50 228.91L544.00 226.32L544.50 223.57L545.00 221.11L545.50 219.36L546.00 218.59L546.50 218.95L547.00 220.36L547.50 222.60L548.00 225.29L548.50 228.00L549.00 230.26L549.50 231.71L550.00 232.11L550.50 231.39L551.00 229.67L551.50 227.24L552.00 224.49L552.50 221.89L553.00 219.85L553.50 218.73L554.00 218.70L554.50 219.77L555.00 221.77L555.50 224.35L556.00 227.11L556.50 229.57L557.00 231.33L557.50 232.10L558.00 231.76L558.50 230.36L559.00 228.12L559.50 225.43L560.00 222.73L560.50 220.46L561.00 218.99L561.50 218.58L562.00 219.29L562.50 221.00L563.00 223.43L563.50 226.18L564.00 228.79L564.50 230.83L565.00 231.96L565.50 232.00L566.00 230.94L566.50 228.96L567.00 226.37L567.50 223.62L568.00 221.15L568.50 219.38L569.00 218.60L569.50 218.93L570.00 220.32L570.50 222.55L571.00 225.24L571.50 227.95L572.00 230.22L572.50 231.70L573.00 232.12L573.50 231.42L574.00 229.72L574.50 227.29L575.00 224.55L575.50 221.93L576.00 219.89L576.50 218.74L577.00 218.69L577.50 219.74L578.00 221.72L578.50 224.30L579.00 227.05L579.50 229.52L580.00 231.30L580.50 232.10L581.00 231.78L581.50 230.39L582.00 228.18L582.50 225.49L583.00 222.78L583.50 220.50L584.00 219.01L584.50 218.58L585.00 219.27L585.50 220.96L586.00 223.38L586.50 226.13L587.00 228.74L587.50 230.80L588.00 231.95L588.50 232.01L589.00 230.97L589.50 229.00L590.00 226.43L590.50 223.67L591.00 221.20L591.50 219.41L592.00 218.60L592.50 218.91L593.00 220.29L593.50 222.50L594.00 225.18L594.50 227.89L595.00 230.19L595.50 231.68L596.00 232.12L596.50 231.44L597.00 229.76L597.50 227.35L598.00 224.60L598.50 221.98L599.00 219.92L599.50 218.75L600.00 218.68L600.50 219.71L601.00 221.67L601.50 224.24L602.00 227.00L602.50 229.48L603.00 231.28L603.50 232.09L604.00 231.80L604.50 230.43L605.00 228.23L605.50 225.54L606.00 222.83L606.50 220.53L607.00 219.03L607.50 218.58L608.00 219.24L608.50 220.92L609.00 223.33L609.50 226.07L610.00 228.69L610.50 230.76L611.00 231.94L611.50 232.02L612.00 231.00L612.50 229.05L613.00 226.48L613.50 223.73L614.00 221.24L614.50 219.44L615.00 218.61L615.50 218.90L616.00 220.25L616.50 222.45L617.00 225.13L617.50 227.84L618.00 230.15L618.50 231.66L619.00 232.12L619.50 231.47L620.00 229.80L620.50 227.40L621.00 224.66L621.50 222.03L622.00 219.95L622.50 218.77L623.00 218.67L623.50 219.68L624.00 221.63L624.50 224.19L625.00 226.94L625.50 229.44L626.00 231.25L626.50 232.09L627.00 231.81L627.50 230.47L628.00 228.28L628.50 225.60L629.00 222.88L629.50 220.57L630.00 219.05L630.50 218.58L631.00 219.22L631.50 220.88L632.00 223.27L632.50 226.02L633.00 228.65L633.50 230.73L634.00 231.93L634.50 232.03L635.00 231.03L635.50 229.10L636.00 226.54L636.50 223.78L637.00 221.29L637.50 219.46L638.00 218.61L638.50 218.88L639.00 220.21L639.50 222.40L640.00 225.07L640.50 227.79L641.00 230.11L641.50 231.64L642.00 232.12L642.50 231.49L643.00 229.84L643.50 227.45L644.00 224.71L644.50 222.08L645.00 219.99L645.50 218.78L646.00 218.66L646.50 219.65L647.00 221.58L647.50 224.14L648.00 226.89L648.50 229.39L649.00 231.22L649.50 232.08L650.00 231.83L650.50 230.50L651.00 228.33L651.50 225.66L652.00 222.93L652.50 220.61L653.00 219.08L653.50 218.58L654.00 219.20L654.50 220.84L655.00 223.22L655.50 225.96L656.00 228.60L656.50 230.70L657.00 231.91L657.50 232.04L658.00 231.06L658.50 229.14L659.00 226.59L659.50 223.84L660.00 221.33L660.50 219.49L661.00 218.62L661.50 218.86L662.00 220.18L662.50 222.35L663.00 225.02L663.50 227.74L664.00 230.07L664.50 231.61L665.00 232.12L665.50 231.51L666.00 229.88L666.50 227.50L667.00 224.77L667.50 222.13L668.00 220.02L668.50 218.79L669.00 218.65L669.50 219.62L670.00 221.54L670.50 224.08L671.00 226.84L671.50 229.35L672.00 231.19L672.50 232.08L673.00 231.85L673.50 230.54L674.00 228.38L674.50 225.71L675.00 222.99L675.50 220.65L676.00 219.10L676.50 218.57L677.00 219.17L677.50 220.79L678.00 223.17L678.50 225.90L679.00 228.55L679.50 230.66L680.00 231.90L680.50 232.05L681.00 231.09L681.50 229.19L682.00 226.65L682.50 223.89L683.00 221.38L683.50 219.52L684.00 218.63L684.50 218.85L685.00 220.14L685.50 222.30L686.00 224.96L686.50 227.69L687.00 230.03L687.50 231.59L688.00 232.13L688.50 231.54L689.00 229.93L689.50 227.56L690.00 224.82L690.50 222.18L691.00 220.05L691.50 218.81L692.00 218.65L692.50 219.59L693.00 221.49L693.50 224.03L694.00 226.78L694.50 229.30L695.00 231.17L695.50 232.07L696.00 231.86L696.50 230.58L697.00 228.43L697.50 225.77L698.00 223.04L698.50 220.69L699.00 219.12L699.50 218.57L700.00 219.15L700.50 220.75L701.00 223.12L701.50 225.85L702.00 228.50L702.50 230.63L703.00 231.88L703.50 232.06L704.00 231.12L704.50 229.23L705.00 226.70L705.50 223.94L706.00 221.42L706.50 219.55L707.00 218.63L707.50 218.83L708.00 220.11L708.50 222.25L709.00 224.91L709.50 227.64L710.00 229.99L710.50 231.57L711.00 232.13L711.50 231.56L712.00 229.97L712.50 227.61L713.00 224.88L713.50 222.23L714.00 220.09L714.50 218.82L715.00 218.64L715.50 219.56L716.00 221.44L716.50 223.97L717.00 226.73L717.50 229.26L718.00 231.14L718.50 232.06L719.00 231.88L719.50 230.61L720.00 228.47L720.50 225.82L721.00 223.09L721.50 220.73L722.00 219.14L722.50 218.57L723.00 219.13L723.50 220.71L724.00 223.06L724.50 225.79L725.00 228.45L725.50 230.59L726.00 231.87L726.50 232.07L727.00 231.15L727.50 229.28L728.00 226.76L728.50 224.00L729.00 221.47L729.50 219.58L730.00 218.64L730.50 218.82L731.00 220.07L731.50 222.20L732.00 224.85L732.50 227.58L733.00 229.95L733.50 231.55L734.00 232.13L734.50 231.58L735.00 230.01L735.50 227.66L736.00 224.93L736.50 222.27L737.00 220.12L737.50 218.84L738.00 218.63L738.50 219.53L739.00 221.40L739.50 223.92L740.00 226.67L740.50 229.21L741.00 231.11L741.50 232.05L742.00 231.89L742.50 230.65L743.00 228.52L743.50 225.88L744.00 223.14L744.50 220.77L745.00 219.16L745.50 218.57L746.00 219.11L746.50 220.67L747.00 223.01L747.50 225.74L748.00 228.40L748.50 230.56L749.00 231.85L749.50 232.07L750.00 231.18L750.50 229.32L751.00 226.81L751.50 224.05L752.00 221.51L752.50 219.61L753.00 218.65L753.50 218.80L754.00 220.04L754.50 222.15L755.00 224.80L755.50 227.53L756.00 229.91L756.50 231.53L757.00 232.13L757.50 231.60L758.00 230.05L758.50 227.71L759.00 224.99L759.50 222.32L760.00 220.16L760.50 218.85L761.00 218.62L761.50 219.51L762.00 221.35L762.50 223.86L763.00 226.62L763.50 229.16L764.00 231.08L764.50 232.05L765.00 231.91L765.50 230.68L766.00 228.57L766.50 225.93L767.00 223.20L767.50 220.82L768.00 219.19L768.50 218.58L769.00 219.09L769.50 220.63L770.00 222.96L770.50 225.68L771.00 228.35L771.50 230.52L772.00 231.84L772.50 232.08L773.00 231.21L773.50 229.37L774.00 226.86L774.50 224.11L775.00 221.56L775.50 219.64L776.00 218.66L776.50 218.79L777.00 220.00L777.50 222.10L778.00 224.74L778.50 227.48L779.00 229.86L779.50 231.50L780.00 232.12L780.50 231.62L781.00 230.09L781.50 227.77L782.00 225.04L782.50 222.37L783.00 220.20L783.50 218.87L784.00 218.62L784.50 219.48L785.00 221.31L785.50 223.81L786.00 226.56L786.50 229.12L787.00 231.05L787.50 232.04L788.00 231.92L788.50 230.71L789.00 228.62L789.50 225.99L790.00 223.25L790.50 220.86L791.00 219.21L791.50 218.58L792.00 219.06L792.50 220.59L793.00 222.91L793.50 225.63L794.00 228.30L794.50 230.49L795.00 231.82L795.50 232.09L796.00 231.24L796.50 229.41L797.00 226.92L797.50 224.16L798.00 221.60L798.50 219.67L799.00 218.67L799.50 218.77L800.00 219.97L800.50 222.05L801.00 224.68L801.50 227.43L802.00 229.82L802.50 231.48L803.00 232.12L803.50 231.65L804.00 230.13L804.50 227.82L805.00 225.10L805.50 222.42L806.00 220.23L806.50 218.89L807.00 218.61L807.50 219.45L808.00 221.26L808.50 223.76L809.00 226.51L809.50 229.07L810.00 231.02L810.50 232.03L811.00 231.93L811.50 230.75L812.00 228.67L812.50 226.04L813.00 223.30L813.50 220.90L814.00 219.23L814.50 218.58L815.00 219.04L815.50 220.55L816.00 222.86L816.50 225.57L817.00 228.25L817.50 230.45L818.00 231.80L818.50 232.09L819.00 231.26L819.50 229.46L820.00 226.97L820.50 224.22L821.00 221.65L821.50 219.70L822.00 218.68L822.50 218.76L823.00 219.94L823.50 222.01L824.00 224.63L824.50 227.37L825.00 229.78L825.50 231.46L826.00 232.12L826.50 231.67L827.00 230.17L827.50 227.87L828.00 225.16L828.50 222.47L829.00 220.27L829.50 218.90L830.00 218.61L830.50 219.42L831.00 221.22L831.50 223.70L832.00 226.46L832.50 229.03L833.00 230.99L833.50 232.02L834.00 231.95L834.50 230.78L835.00 228.72L835.50 226.10L836.00 223.35L836.50 220.94L837.00 219.26L837.50 218.58L838.00 219.02L838.50 220.51L839.00 222.81L839.50 225.52L840.00 228.20L840.50 230.41L841.00 231.79L841.50 232.10L842.00 231.29L842.50 229.50L843.00 227.03L843.50 224.27L844.00 221.70L844.50 219.73L845.00 218.69L845.50 218.75L846.00 219.90L846.50 221.96L847.00 224.57L847.50 227.32L848.00 229.74L848.50 231.43L849.00 232.12L849.50 231.69L850.00 230.20L850.50 227.92L851.00 225.21L851.50 222.52L852.00 220.31L852.50 218.92L853.00 218.60L853.50 219.40L854.00 221.18L854.50 223.65L855.00 226.40L855.50 228.98L856.00 230.96L856.50 232.01L857.00 231.96L857.50 230.81L858.00 228.77L858.50 226.15L859.00 223.41L859.50 220.98L860.00 219.28L860.50 218.58L861.00 219.00L861.50 220.48L862.00 222.75L862.50 225.46L863.00 228.15L863.50 230.38L864.00 231.77L864.50 232.10L865.00 231.32L865.50 229.55L866.00 227.08L866.50 224.33L867.00 221.74L867.50 219.76L868.00 218.70L868.50 218.74L869.00 219.87L869.50 221.91L870.00 224.52L870.50 227.27L871.00 229.70L871.50 231.41L872.00 232.12L872.50 231.71L873.00 230.24L873.50 227.97L874.00 225.27L874.50 222.58L875.00 220.34L875.50 218.94L876.00 218.60L876.50 219.37L877.00 221.13L877.50 223.59L878.00 226.35L878.50 228.93L879.00 230.93L879.50 232.00L880.00 231.97L880.50 230.85L881.00 228.81L881.50 226.21L882.00 223.46L882.50 221.03L883.00 219.31L883.50 218.59L884.00 218.99L884.50 220.44L885.00 222.70L885.50 225.41L886.00 228.10L886.50 230.34L887.00 231.75L887.50 232.11L888.00 231.34L888.50 229.59L889.00 227.13L889.50 224.38L890.00 221.79L890.50 219.79L891.00 218.71L891.50 218.72L892.00 219.84L892.50 221.86L893.00 224.46L893.50 227.21L894.00 229.65L894.50 231.38L895.00 232.11L895.50 231.72L896.00 230.28L896.50 228.02L897.00 225.32L897.50 222.63L898.00 220.38L898.50 218.96L899.00 218.59L899.50 219.34L900.00 221.09L900.50 223.54L901.00 226.29L901.50 228.89L902.00 230.89L902.50 231.99L903.00 231.98L903.50 230.88L904.00 228.86L904.50 226.26L905.00 223.51" fill="none" stroke="#348ABD" stroke-width="1.4" stroke-linejoin="round"/>
<path d="M139 225.35H905" stroke="#988ED5" stroke-width="1.4"/>
<path d="M142.50 305.50L143.10 300.00L143.50 295.30L144.80 289.30L145.20 285.70L146.90 285.70L147.20 290.00L147.20 306.00L142.50 306.00ZM150.17 305.50L150.77 300.00L151.17 295.30L152.47 289.30L152.87 285.70L154.57 285.70L154.87 290.00L154.87 306.00L150.17 306.00ZM157.84 305.50L158.44 300.00L158.84 295.30L160.14 289.30L160.54 285.70L162.24 285.70L162.54 290.00L162.54 306.00L157.84 306.00ZM165.51 305.50L166.11 300.00L166.51 295.30L167.81 289.30L168.21 285.70L169.91 285.70L170.21 290.00L170.21 306.00L165.51 306.00ZM173.18 305.50L173.78 300.00L174.18 295.30L175.48 289.30L175.88 285.70L177.58 285.70L177.88 290.00L177.88 306.00L173.18 306.00ZM180.85 305.50L181.45 300.00L181.85 295.30L183.15 289.30L183.55 285.70L185.25 285.70L185.55 290.00L185.55 306.00L180.85 306.00ZM188.52 305.50L189.12 300.00L189.52 295.30L190.82 289.30L191.22 285.70L192.92 285.70L193.22 290.00L193.22 306.00L188.52 306.00ZM196.19 305.50L196.79 300.00L197.19 295.30L198.49 289.30L198.89 285.70L200.59 285.70L200.89 290.00L200.89 306.00L196.19 306.00ZM203.86 305.50L204.46 300.00L204.86 295.30L206.16 289.30L206.56 285.70L208.26 285.70L208.56 290.00L208.56 306.00L203.86 306.00ZM211.53 305.50L212.13 300.00L212.53 295.30L213.83 289.30L214.23 285.70L215.93 285.70L216.23 290.00L216.23 306.00L211.53 306.00ZM219.20 305.50L219.80 300.00L220.20 295.30L221.50 289.30L221.90 285.70L223.60 285.70L223.90 290.00L223.90 306.00L219.20 306.00ZM226.87 305.50L227.47 300.00L227.87 295.30L229.17 289.30L229.57 285.70L231.27 285.70L231.57 290.00L231.57 306.00L226.87 306.00ZM234.54 305.50L235.14 300.00L235.54 295.30L236.84 289.30L237.24 285.70L238.94 285.70L239.24 290.00L239.24 306.00L234.54 306.00ZM242.21 305.50L242.81 300.00L243.21 295.30L244.51 289.30L244.91 285.70L246.61 285.70L246.91 290.00L246.91 306.00L242.21 306.00ZM249.88 305.50L250.48 300.00L250.88 295.30L252.18 289.30L252.58 285.70L254.28 285.70L254.58 290.00L254.58 306.00L249.88 306.00ZM257.55 305.50L258.15 300.00L258.55 295.30L259.85 289.30L260.25 285.70L261.95 285.70L262.25 290.00L262.25 306.00L257.55 306.00ZM265.22 305.50L265.82 300.00L266.22 295.30L267.52 289.30L267.92 285.70L269.62 285.70L269.92 290.00L269.92 306.00L265.22 306.00ZM272.89 305.50L273.49 300.00L273.89 295.30L275.19 289.30L275.59 285.70L277.29 285.70L277.59 290.00L277.59 306.00L272.89 306.00ZM280.56 305.50L281.16 300.00L281.56 295.30L282.86 289.30L283.26 285.70L284.96 285.70L285.26 290.00L285.26 306.00L280.56 306.00ZM288.23 305.50L288.83 300.00L289.23 295.30L290.53 289.30L290.93 285.70L292.63 285.70L292.93 290.00L292.93 306.00L288.23 306.00ZM295.90 305.50L296.50 300.00L296.90 295.30L298.20 289.30L298.60 285.70L300.30 285.70L300.60 290.00L300.60 306.00L295.90 306.00ZM303.57 305.50L304.17 300.00L304.57 295.30L305.87 289.30L306.27 285.70L307.97 285.70L308.27 290.00L308.27 306.00L303.57 306.00ZM311.24 305.50L311.84 300.00L312.24 295.30L313.54 289.30L313.94 285.70L315.64 285.70L315.94 290.00L315.94 306.00L311.24 306.00ZM318.91 305.50L319.51 300.00L319.91 295.30L321.21 289.30L321.61 285.70L323.31 285.70L323.61 290.00L323.61 306.00L318.91 306.00ZM326.58 305.50L327.18 300.00L327.58 295.30L328.88 289.30L329.28 285.70L330.98 285.70L331.28 290.00L331.28 306.00L326.58 306.00ZM334.25 305.50L334.85 300.00L335.25 295.30L336.55 289.30L336.95 285.70L338.65 285.70L338.95 290.00L338.95 306.00L334.25 306.00ZM341.92 305.50L342.52 300.00L342.92 295.30L344.22 289.30L344.62 285.70L346.32 285.70L346.62 290.00L346.62 306.00L341.92 306.00ZM349.59 305.50L350.19 300.00L350.59 295.30L351.89 289.30L352.29 285.70L353.99 285.70L354.29 290.00L354.29 306.00L349.59 306.00ZM357.26 305.50L357.86 300.00L358.26 295.30L359.56 289.30L359.96 285.70L361.66 285.70L361.96 290.00L361.96 306.00L357.26 306.00ZM364.93 305.50L365.53 300.00L365.93 295.30L367.23 289.30L367.63 285.70L369.33 285.70L369.63 290.00L369.63 306.00L364.93 306.00ZM372.60 305.50L373.20 300.00L373.60 295.30L374.90 289.30L375.30 285.70L377.00 285.70L377.30 290.00L377.30 306.00L372.60 306.00ZM380.27 305.50L380.87 300.00L381.27 295.30L382.57 289.30L382.97 285.70L384.67 285.70L384.97 290.00L384.97 306.00L380.27 306.00ZM387.94 305.50L388.54 300.00L388.94 295.30L390.24 289.30L390.64 285.70L392.34 285.70L392.64 290.00L392.64 306.00L387.94 306.00ZM395.61 305.50L396.21 300.00L396.61 295.30L397.91 289.30L398.31 285.70L400.01 285.70L400.31 290.00L400.31 306.00L395.61 306.00ZM403.28 305.50L403.88 300.00L404.28 295.30L405.58 289.30L405.98 285.70L407.68 285.70L407.98 290.00L407.98 306.00L403.28 306.00ZM410.95 305.50L411.55 300.00L411.95 295.30L413.25 289.30L413.65 285.70L415.35 285.70L415.65 290.00L415.65 306.00L410.95 306.00ZM418.62 305.50L419.22 300.00L419.62 295.30L420.92 289.30L421.32 285.70L423.02 285.70L423.32 290.00L423.32 306.00L418.62 306.00ZM426.29 305.50L426.89 300.00L427.29 295.30L428.59 289.30L428.99 285.70L430.69 285.70L430.99 290.00L430.99 306.00L426.29 306.00ZM433.96 305.50L434.56 300.00L434.96 295.30L436.26 289.30L436.66 285.70L438.36 285.70L438.66 290.00L438.66 306.00L433.96 306.00ZM441.63 305.50L442.23 300.00L442.63 295.30L443.93 289.30L444.33 285.70L446.03 285.70L446.33 290.00L446.33 306.00L441.63 306.00ZM449.30 305.50L449.90 300.00L450.30 295.30L451.60 289.30L452.00 285.70L453.70 285.70L454.00 290.00L454.00 306.00L449.30 306.00ZM456.97 305.50L457.57 300.00L457.97 295.30L459.27 289.30L459.67 285.70L461.37 285.70L461.67 290.00L461.67 306.00L456.97 306.00ZM464.64 305.50L465.24 300.00L465.64 295.30L466.94 289.30L467.34 285.70L469.04 285.70L469.34 290.00L469.34 306.00L464.64 306.00ZM472.31 305.50L472.91 300.00L473.31 295.30L474.61 289.30L475.01 285.70L476.71 285.70L477.01 290.00L477.01 306.00L472.31 306.00ZM479.98 305.50L480.58 300.00L480.98 295.30L482.28 289.30L482.68 285.70L484.38 285.70L484.68 290.00L484.68 306.00L479.98 306.00ZM487.65 305.50L488.25 300.00L488.65 295.30L489.95 289.30L490.35 285.70L492.05 285.70L492.35 290.00L492.35 306.00L487.65 306.00ZM495.32 305.50L495.92 300.00L496.32 295.30L497.62 289.30L498.02 285.70L499.72 285.70L500.02 290.00L500.02 306.00L495.32 306.00ZM502.99 305.50L503.59 300.00L503.99 295.30L505.29 289.30L505.69 285.70L507.39 285.70L507.69 290.00L507.69 306.00L502.99 306.00ZM510.66 305.50L511.26 300.00L511.66 295.30L512.96 289.30L513.36 285.70L515.06 285.70L515.36 290.00L515.36 306.00L510.66 306.00ZM518.33 305.50L518.93 300.00L519.33 295.30L520.63 289.30L521.03 285.70L522.73 285.70L523.03 290.00L523.03 306.00L518.33 306.00ZM526.00 305.50L526.60 300.00L527.00 295.30L528.30 289.30L528.70 285.70L530.40 285.70L530.70 290.00L530.70 306.00L526.00 306.00ZM533.67 305.50L534.27 300.00L534.67 295.30L535.97 289.30L536.37 285.70L538.07 285.70L538.37 290.00L538.37 306.00L533.67 306.00ZM541.34 305.50L541.94 300.00L542.34 295.30L543.64 289.30L544.04 285.70L545.74 285.70L546.04 290.00L546.04 306.00L541.34 306.00ZM549.01 305.50L549.61 300.00L550.01 295.30L551.31 289.30L551.71 285.70L553.41 285.70L553.71 290.00L553.71 306.00L549.01 306.00ZM556.68 305.50L557.28 300.00L557.68 295.30L558.98 289.30L559.38 285.70L561.08 285.70L561.38 290.00L561.38 306.00L556.68 306.00ZM564.35 305.50L564.95 300.00L565.35 295.30L566.65 289.30L567.05 285.70L568.75 285.70L569.05 290.00L569.05 306.00L564.35 306.00ZM572.02 305.50L572.62 300.00L573.02 295.30L574.32 289.30L574.72 285.70L576.42 285.70L576.72 290.00L576.72 306.00L572.02 306.00ZM579.69 305.50L580.29 300.00L580.69 295.30L581.99 289.30L582.39 285.70L584.09 285.70L584.39 290.00L584.39 306.00L579.69 306.00ZM587.36 305.50L587.96 300.00L588.36 295.30L589.66 289.30L590.06 285.70L591.76 285.70L592.06 290.00L592.06 306.00L587.36 306.00ZM595.03 305.50L595.63 300.00L596.03 295.30L597.33 289.30L597.73 285.70L599.43 285.70L599.73 290.00L599.73 306.00L595.03 306.00ZM602.70 305.50L603.30 300.00L603.70 295.30L605.00 289.30L605.40 285.70L607.10 285.70L607.40 290.00L607.40 306.00L602.70 306.00ZM610.37 305.50L610.97 300.00L611.37 295.30L612.67 289.30L613.07 285.70L614.77 285.70L615.07 290.00L615.07 306.00L610.37 306.00ZM618.04 305.50L618.64 300.00L619.04 295.30L620.34 289.30L620.74 285.70L622.44 285.70L622.74 290.00L622.74 306.00L618.04 306.00ZM625.71 305.50L626.31 300.00L626.71 295.30L628.01 289.30L628.41 285.70L630.11 285.70L630.41 290.00L630.41 306.00L625.71 306.00ZM633.38 305.50L633.98 300.00L634.38 295.30L635.68 289.30L636.08 285.70L637.78 285.70L638.08 290.00L638.08 306.00L633.38 306.00ZM641.05 305.50L641.65 300.00L642.05 295.30L643.35 289.30L643.75 285.70L645.45 285.70L645.75 290.00L645.75 306.00L641.05 306.00ZM648.72 305.50L649.32 300.00L649.72 295.30L651.02 289.30L651.42 285.70L653.12 285.70L653.42 290.00L653.42 306.00L648.72 306.00ZM656.39 305.50L656.99 300.00L657.39 295.30L658.69 289.30L659.09 285.70L660.79 285.70L661.09 290.00L661.09 306.00L656.39 306.00ZM664.06 305.50L664.66 300.00L665.06 295.30L666.36 289.30L666.76 285.70L668.46 285.70L668.76 290.00L668.76 306.00L664.06 306.00ZM671.73 305.50L672.33 300.00L672.73 295.30L674.03 289.30L674.43 285.70L676.13 285.70L676.43 290.00L676.43 306.00L671.73 306.00ZM679.40 305.50L680.00 300.00L680.40 295.30L681.70 289.30L682.10 285.70L683.80 285.70L684.10 290.00L684.10 306.00L679.40 306.00ZM687.07 305.50L687.67 300.00L688.07 295.30L689.37 289.30L689.77 285.70L691.47 285.70L691.77 290.00L691.77 306.00L687.07 306.00ZM694.74 305.50L695.34 300.00L695.74 295.30L697.04 289.30L697.44 285.70L699.14 285.70L699.44 290.00L699.44 306.00L694.74 306.00ZM702.41 305.50L703.01 300.00L703.41 295.30L704.71 289.30L705.11 285.70L706.81 285.70L707.11 290.00L707.11 306.00L702.41 306.00ZM710.08 305.50L710.68 300.00L711.08 295.30L712.38 289.30L712.78 285.70L714.48 285.70L714.78 290.00L714.78 306.00L710.08 306.00ZM717.75 305.50L718.35 300.00L718.75 295.30L720.05 289.30L720.45 285.70L722.15 285.70L722.45 290.00L722.45 306.00L717.75 306.00ZM725.42 305.50L726.02 300.00L726.42 295.30L727.72 289.30L728.12 285.70L729.82 285.70L730.12 290.00L730.12 306.00L725.42 306.00ZM733.09 305.50L733.69 300.00L734.09 295.30L735.39 289.30L735.79 285.70L737.49 285.70L737.79 290.00L737.79 306.00L733.09 306.00ZM740.76 305.50L741.36 300.00L741.76 295.30L743.06 289.30L743.46 285.70L745.16 285.70L745.46 290.00L745.46 306.00L740.76 306.00ZM748.43 305.50L749.03 300.00L749.43 295.30L750.73 289.30L751.13 285.70L752.83 285.70L753.13 290.00L753.13 306.00L748.43 306.00ZM756.10 305.50L756.70 300.00L757.10 295.30L758.40 289.30L758.80 285.70L760.50 285.70L760.80 290.00L760.80 306.00L756.10 306.00ZM763.77 305.50L764.37 300.00L764.77 295.30L766.07 289.30L766.47 285.70L768.17 285.70L768.47 290.00L768.47 306.00L763.77 306.00ZM771.44 305.50L772.04 300.00L772.44 295.30L773.74 289.30L774.14 285.70L775.84 285.70L776.14 290.00L776.14 306.00L771.44 306.00ZM779.11 305.50L779.71 300.00L780.11 295.30L781.41 289.30L781.81 285.70L783.51 285.70L783.81 290.00L783.81 306.00L779.11 306.00ZM786.78 305.50L787.38 300.00L787.78 295.30L789.08 289.30L789.48 285.70L791.18 285.70L791.48 290.00L791.48 306.00L786.78 306.00ZM794.45 305.50L795.05 300.00L795.45 295.30L796.75 289.30L797.15 285.70L798.85 285.70L799.15 290.00L799.15 306.00L794.45 306.00ZM802.12 305.50L802.72 300.00L803.12 295.30L804.42 289.30L804.82 285.70L806.52 285.70L806.82 290.00L806.82 306.00L802.12 306.00ZM809.79 305.50L810.39 300.00L810.79 295.30L812.09 289.30L812.49 285.70L814.19 285.70L814.49 290.00L814.49 306.00L809.79 306.00ZM817.46 305.50L818.06 300.00L818.46 295.30L819.76 289.30L820.16 285.70L821.86 285.70L822.16 290.00L822.16 306.00L817.46 306.00ZM825.13 305.50L825.73 300.00L826.13 295.30L827.43 289.30L827.83 285.70L829.53 285.70L829.83 290.00L829.83 306.00L825.13 306.00ZM832.80 305.50L833.40 300.00L833.80 295.30L835.10 289.30L835.50 285.70L837.20 285.70L837.50 290.00L837.50 306.00L832.80 306.00ZM840.47 305.50L841.07 300.00L841.47 295.30L842.77 289.30L843.17 285.70L844.87 285.70L845.17 290.00L845.17 306.00L840.47 306.00ZM848.14 305.50L848.74 300.00L849.14 295.30L850.44 289.30L850.84 285.70L852.54 285.70L852.84 290.00L852.84 306.00L848.14 306.00ZM855.81 305.50L856.41 300.00L856.81 295.30L858.11 289.30L858.51 285.70L860.21 285.70L860.51 290.00L860.51 306.00L855.81 306.00ZM863.48 305.50L864.08 300.00L864.48 295.30L865.78 289.30L866.18 285.70L867.88 285.70L868.18 290.00L868.18 306.00L863.48 306.00ZM871.15 305.50L871.75 300.00L872.15 295.30L873.45 289.30L873.85 285.70L875.55 285.70L875.85 290.00L875.85 306.00L871.15 306.00ZM878.82 305.50L879.42 300.00L879.82 295.30L881.12 289.30L881.52 285.70L883.22 285.70L883.52 290.00L883.52 306.00L878.82 306.00ZM886.49 305.50L887.09 300.00L887.49 295.30L888.79 289.30L889.19 285.70L890.89 285.70L891.19 290.00L891.19 306.00L886.49 306.00ZM894.16 305.50L894.76 300.00L895.16 295.30L896.46 289.30L896.86 285.70L898.56 285.70L898.86 290.00L898.86 306.00L894.16 306.00ZM901.83 305.50L902.43 300.00L902.83 295.30L904.13 289.30L904.53 285.70L906.23 285.70L906.53 290.00L906.53 306.00L901.83 306.00ZM909.50 305.50L910.10 300.00L910.50 295.30L911.80 289.30L912.20 285.70L913.90 285.70L914.20 290.00L914.20 306.00L909.50 306.00Z" fill="#FFB5B8" />
<rect x="139" y="288.9" width="1.2" height="34" fill="#FBC15E"/>
<path d="M130.83 306.00L138.50 306.00L138.50 323.30L130.83 323.30ZM136.98 306.20L137.23 298.50L138.73 296.00L139.33 289.30L139.48 288.90L141.50 288.90L141.80 298.00L142.30 304.50L142.60 306.20ZM138.50 306.00L146.17 306.00L146.17 323.30L138.50 323.30ZM144.65 306.20L144.90 298.50L146.40 296.00L147.00 289.30L147.15 288.90L149.17 288.90L149.47 298.00L149.97 304.50L150.27 306.20ZM146.17 306.00L153.84 306.00L153.84 323.30L146.17 323.30ZM152.32 306.20L152.57 298.50L154.07 296.00L154.67 289.30L154.82 288.90L156.84 288.90L157.14 298.00L157.64 304.50L157.94 306.20ZM153.84 306.00L161.51 306.00L161.51 323.30L153.84 323.30ZM159.99 306.20L160.24 298.50L161.74 296.00L162.34 289.30L162.49 288.90L164.51 288.90L164.81 298.00L165.31 304.50L165.61 306.20ZM161.51 306.00L169.18 306.00L169.18 323.30L161.51 323.30ZM167.66 306.20L167.91 298.50L169.41 296.00L170.01 289.30L170.16 288.90L172.18 288.90L172.48 298.00L172.98 304.50L173.28 306.20ZM169.18 306.00L176.85 306.00L176.85 323.30L169.18 323.30ZM175.33 306.20L175.58 298.50L177.08 296.00L177.68 289.30L177.83 288.90L179.85 288.90L180.15 298.00L180.65 304.50L180.95 306.20ZM176.85 306.00L184.52 306.00L184.52 323.30L176.85 323.30ZM183.00 306.20L183.25 298.50L184.75 296.00L185.35 289.30L185.50 288.90L187.52 288.90L187.82 298.00L188.32 304.50L188.62 306.20ZM184.52 306.00L192.19 306.00L192.19 323.30L184.52 323.30ZM190.67 306.20L190.92 298.50L192.42 296.00L193.02 289.30L193.17 288.90L195.19 288.90L195.49 298.00L195.99 304.50L196.29 306.20ZM192.19 306.00L199.86 306.00L199.86 323.30L192.19 323.30ZM198.34 306.20L198.59 298.50L200.09 296.00L200.69 289.30L200.84 288.90L202.86 288.90L203.16 298.00L203.66 304.50L203.96 306.20ZM199.86 306.00L207.53 306.00L207.53 323.30L199.86 323.30ZM206.01 306.20L206.26 298.50L207.76 296.00L208.36 289.30L208.51 288.90L210.53 288.90L210.83 298.00L211.33 304.50L211.63 306.20ZM207.53 306.00L215.20 306.00L215.20 323.30L207.53 323.30ZM213.68 306.20L213.93 298.50L215.43 296.00L216.03 289.30L216.18 288.90L218.20 288.90L218.50 298.00L219.00 304.50L219.30 306.20ZM215.20 306.00L222.87 306.00L222.87 323.30L215.20 323.30ZM221.35 306.20L221.60 298.50L223.10 296.00L223.70 289.30L223.85 288.90L225.87 288.90L226.17 298.00L226.67 304.50L226.97 306.20ZM222.87 306.00L230.54 306.00L230.54 323.30L222.87 323.30ZM229.02 306.20L229.27 298.50L230.77 296.00L231.37 289.30L231.52 288.90L233.54 288.90L233.84 298.00L234.34 304.50L234.64 306.20ZM230.54 306.00L238.21 306.00L238.21 323.30L230.54 323.30ZM236.69 306.20L236.94 298.50L238.44 296.00L239.04 289.30L239.19 288.90L241.21 288.90L241.51 298.00L242.01 304.50L242.31 306.20ZM238.21 306.00L245.88 306.00L245.88 323.30L238.21 323.30ZM244.36 306.20L244.61 298.50L246.11 296.00L246.71 289.30L246.86 288.90L248.88 288.90L249.18 298.00L249.68 304.50L249.98 306.20ZM245.88 306.00L253.55 306.00L253.55 323.30L245.88 323.30ZM252.03 306.20L252.28 298.50L253.78 296.00L254.38 289.30L254.53 288.90L256.55 288.90L256.85 298.00L257.35 304.50L257.65 306.20ZM253.55 306.00L261.22 306.00L261.22 323.30L253.55 323.30ZM259.70 306.20L259.95 298.50L261.45 296.00L262.05 289.30L262.20 288.90L264.22 288.90L264.52 298.00L265.02 304.50L265.32 306.20ZM261.22 306.00L268.89 306.00L268.89 323.30L261.22 323.30ZM267.37 306.20L267.62 298.50L269.12 296.00L269.72 289.30L269.87 288.90L271.89 288.90L272.19 298.00L272.69 304.50L272.99 306.20ZM268.89 306.00L276.56 306.00L276.56 323.30L268.89 323.30ZM275.04 306.20L275.29 298.50L276.79 296.00L277.39 289.30L277.54 288.90L279.56 288.90L279.86 298.00L280.36 304.50L280.66 306.20ZM276.56 306.00L284.23 306.00L284.23 323.30L276.56 323.30ZM282.71 306.20L282.96 298.50L284.46 296.00L285.06 289.30L285.21 288.90L287.23 288.90L287.53 298.00L288.03 304.50L288.33 306.20ZM284.23 306.00L291.90 306.00L291.90 323.30L284.23 323.30ZM290.38 306.20L290.63 298.50L292.13 296.00L292.73 289.30L292.88 288.90L294.90 288.90L295.20 298.00L295.70 304.50L296.00 306.20ZM291.90 306.00L299.57 306.00L299.57 323.30L291.90 323.30ZM298.05 306.20L298.30 298.50L299.80 296.00L300.40 289.30L300.55 288.90L302.57 288.90L302.87 298.00L303.37 304.50L303.67 306.20ZM299.57 306.00L307.24 306.00L307.24 323.30L299.57 323.30ZM305.72 306.20L305.97 298.50L307.47 296.00L308.07 289.30L308.22 288.90L310.24 288.90L310.54 298.00L311.04 304.50L311.34 306.20ZM307.24 306.00L314.91 306.00L314.91 323.30L307.24 323.30ZM313.39 306.20L313.64 298.50L315.14 296.00L315.74 289.30L315.89 288.90L317.91 288.90L318.21 298.00L318.71 304.50L319.01 306.20ZM314.91 306.00L322.58 306.00L322.58 323.30L314.91 323.30ZM321.06 306.20L321.31 298.50L322.81 296.00L323.41 289.30L323.56 288.90L325.58 288.90L325.88 298.00L326.38 304.50L326.68 306.20ZM322.58 306.00L330.25 306.00L330.25 323.30L322.58 323.30ZM328.73 306.20L328.98 298.50L330.48 296.00L331.08 289.30L331.23 288.90L333.25 288.90L333.55 298.00L334.05 304.50L334.35 306.20ZM330.25 306.00L337.92 306.00L337.92 323.30L330.25 323.30ZM336.40 306.20L336.65 298.50L338.15 296.00L338.75 289.30L338.90 288.90L340.92 288.90L341.22 298.00L341.72 304.50L342.02 306.20ZM337.92 306.00L345.59 306.00L345.59 323.30L337.92 323.30ZM344.07 306.20L344.32 298.50L345.82 296.00L346.42 289.30L346.57 288.90L348.59 288.90L348.89 298.00L349.39 304.50L349.69 306.20ZM345.59 306.00L353.26 306.00L353.26 323.30L345.59 323.30ZM351.74 306.20L351.99 298.50L353.49 296.00L354.09 289.30L354.24 288.90L356.26 288.90L356.56 298.00L357.06 304.50L357.36 306.20ZM353.26 306.00L360.93 306.00L360.93 323.30L353.26 323.30ZM359.41 306.20L359.66 298.50L361.16 296.00L361.76 289.30L361.91 288.90L363.93 288.90L364.23 298.00L364.73 304.50L365.03 306.20ZM360.93 306.00L368.60 306.00L368.60 323.30L360.93 323.30ZM367.08 306.20L367.33 298.50L368.83 296.00L369.43 289.30L369.58 288.90L371.60 288.90L371.90 298.00L372.40 304.50L372.70 306.20ZM368.60 306.00L376.27 306.00L376.27 323.30L368.60 323.30ZM374.75 306.20L375.00 298.50L376.50 296.00L377.10 289.30L377.25 288.90L379.27 288.90L379.57 298.00L380.07 304.50L380.37 306.20ZM376.27 306.00L383.94 306.00L383.94 323.30L376.27 323.30ZM382.42 306.20L382.67 298.50L384.17 296.00L384.77 289.30L384.92 288.90L386.94 288.90L387.24 298.00L387.74 304.50L388.04 306.20ZM383.94 306.00L391.61 306.00L391.61 323.30L383.94 323.30ZM390.09 306.20L390.34 298.50L391.84 296.00L392.44 289.30L392.59 288.90L394.61 288.90L394.91 298.00L395.41 304.50L395.71 306.20ZM391.61 306.00L399.28 306.00L399.28 323.30L391.61 323.30ZM397.76 306.20L398.01 298.50L399.51 296.00L400.11 289.30L400.26 288.90L402.28 288.90L402.58 298.00L403.08 304.50L403.38 306.20ZM399.28 306.00L406.95 306.00L406.95 323.30L399.28 323.30ZM405.43 306.20L405.68 298.50L407.18 296.00L407.78 289.30L407.93 288.90L409.95 288.90L410.25 298.00L410.75 304.50L411.05 306.20ZM406.95 306.00L414.62 306.00L414.62 323.30L406.95 323.30ZM413.10 306.20L413.35 298.50L414.85 296.00L415.45 289.30L415.60 288.90L417.62 288.90L417.92 298.00L418.42 304.50L418.72 306.20ZM414.62 306.00L422.29 306.00L422.29 323.30L414.62 323.30ZM420.77 306.20L421.02 298.50L422.52 296.00L423.12 289.30L423.27 288.90L425.29 288.90L425.59 298.00L426.09 304.50L426.39 306.20ZM422.29 306.00L429.96 306.00L429.96 323.30L422.29 323.30ZM428.44 306.20L428.69 298.50L430.19 296.00L430.79 289.30L430.94 288.90L432.96 288.90L433.26 298.00L433.76 304.50L434.06 306.20ZM429.96 306.00L437.63 306.00L437.63 323.30L429.96 323.30ZM436.11 306.20L436.36 298.50L437.86 296.00L438.46 289.30L438.61 288.90L440.63 288.90L440.93 298.00L441.43 304.50L441.73 306.20ZM437.63 306.00L445.30 306.00L445.30 323.30L437.63 323.30ZM443.78 306.20L444.03 298.50L445.53 296.00L446.13 289.30L446.28 288.90L448.30 288.90L448.60 298.00L449.10 304.50L449.40 306.20ZM445.30 306.00L452.97 306.00L452.97 323.30L445.30 323.30ZM451.45 306.20L451.70 298.50L453.20 296.00L453.80 289.30L453.95 288.90L455.97 288.90L456.27 298.00L456.77 304.50L457.07 306.20ZM452.97 306.00L460.64 306.00L460.64 323.30L452.97 323.30ZM459.12 306.20L459.37 298.50L460.87 296.00L461.47 289.30L461.62 288.90L463.64 288.90L463.94 298.00L464.44 304.50L464.74 306.20ZM460.64 306.00L468.31 306.00L468.31 323.30L460.64 323.30ZM466.79 306.20L467.04 298.50L468.54 296.00L469.14 289.30L469.29 288.90L471.31 288.90L471.61 298.00L472.11 304.50L472.41 306.20ZM468.31 306.00L475.98 306.00L475.98 323.30L468.31 323.30ZM474.46 306.20L474.71 298.50L476.21 296.00L476.81 289.30L476.96 288.90L478.98 288.90L479.28 298.00L479.78 304.50L480.08 306.20ZM475.98 306.00L483.65 306.00L483.65 323.30L475.98 323.30ZM482.13 306.20L482.38 298.50L483.88 296.00L484.48 289.30L484.63 288.90L486.65 288.90L486.95 298.00L487.45 304.50L487.75 306.20ZM483.65 306.00L491.32 306.00L491.32 323.30L483.65 323.30ZM489.80 306.20L490.05 298.50L491.55 296.00L492.15 289.30L492.30 288.90L494.32 288.90L494.62 298.00L495.12 304.50L495.42 306.20ZM491.32 306.00L498.99 306.00L498.99 323.30L491.32 323.30ZM497.47 306.20L497.72 298.50L499.22 296.00L499.82 289.30L499.97 288.90L501.99 288.90L502.29 298.00L502.79 304.50L503.09 306.20ZM498.99 306.00L506.66 306.00L506.66 323.30L498.99 323.30ZM505.14 306.20L505.39 298.50L506.89 296.00L507.49 289.30L507.64 288.90L509.66 288.90L509.96 298.00L510.46 304.50L510.76 306.20ZM506.66 306.00L514.33 306.00L514.33 323.30L506.66 323.30ZM512.81 306.20L513.06 298.50L514.56 296.00L515.16 289.30L515.31 288.90L517.33 288.90L517.63 298.00L518.13 304.50L518.43 306.20ZM514.33 306.00L522.00 306.00L522.00 323.30L514.33 323.30ZM520.48 306.20L520.73 298.50L522.23 296.00L522.83 289.30L522.98 288.90L525.00 288.90L525.30 298.00L525.80 304.50L526.10 306.20ZM522.00 306.00L529.67 306.00L529.67 323.30L522.00 323.30ZM528.15 306.20L528.40 298.50L529.90 296.00L530.50 289.30L530.65 288.90L532.67 288.90L532.97 298.00L533.47 304.50L533.77 306.20ZM529.67 306.00L537.34 306.00L537.34 323.30L529.67 323.30ZM535.82 306.20L536.07 298.50L537.57 296.00L538.17 289.30L538.32 288.90L540.34 288.90L540.64 298.00L541.14 304.50L541.44 306.20ZM537.34 306.00L545.01 306.00L545.01 323.30L537.34 323.30ZM543.49 306.20L543.74 298.50L545.24 296.00L545.84 289.30L545.99 288.90L548.01 288.90L548.31 298.00L548.81 304.50L549.11 306.20ZM545.01 306.00L552.68 306.00L552.68 323.30L545.01 323.30ZM551.16 306.20L551.41 298.50L552.91 296.00L553.51 289.30L553.66 288.90L555.68 288.90L555.98 298.00L556.48 304.50L556.78 306.20ZM552.68 306.00L560.35 306.00L560.35 323.30L552.68 323.30ZM558.83 306.20L559.08 298.50L560.58 296.00L561.18 289.30L561.33 288.90L563.35 288.90L563.65 298.00L564.15 304.50L564.45 306.20ZM560.35 306.00L568.02 306.00L568.02 323.30L560.35 323.30ZM566.50 306.20L566.75 298.50L568.25 296.00L568.85 289.30L569.00 288.90L571.02 288.90L571.32 298.00L571.82 304.50L572.12 306.20ZM568.02 306.00L575.69 306.00L575.69 323.30L568.02 323.30ZM574.17 306.20L574.42 298.50L575.92 296.00L576.52 289.30L576.67 288.90L578.69 288.90L578.99 298.00L579.49 304.50L579.79 306.20ZM575.69 306.00L583.36 306.00L583.36 323.30L575.69 323.30ZM581.84 306.20L582.09 298.50L583.59 296.00L584.19 289.30L584.34 288.90L586.36 288.90L586.66 298.00L587.16 304.50L587.46 306.20ZM583.36 306.00L591.03 306.00L591.03 323.30L583.36 323.30ZM589.51 306.20L589.76 298.50L591.26 296.00L591.86 289.30L592.01 288.90L594.03 288.90L594.33 298.00L594.83 304.50L595.13 306.20ZM591.03 306.00L598.70 306.00L598.70 323.30L591.03 323.30ZM597.18 306.20L597.43 298.50L598.93 296.00L599.53 289.30L599.68 288.90L601.70 288.90L602.00 298.00L602.50 304.50L602.80 306.20ZM598.70 306.00L606.37 306.00L606.37 323.30L598.70 323.30ZM604.85 306.20L605.10 298.50L606.60 296.00L607.20 289.30L607.35 288.90L609.37 288.90L609.67 298.00L610.17 304.50L610.47 306.20ZM606.37 306.00L614.04 306.00L614.04 323.30L606.37 323.30ZM612.52 306.20L612.77 298.50L614.27 296.00L614.87 289.30L615.02 288.90L617.04 288.90L617.34 298.00L617.84 304.50L618.14 306.20ZM614.04 306.00L621.71 306.00L621.71 323.30L614.04 323.30ZM620.19 306.20L620.44 298.50L621.94 296.00L622.54 289.30L622.69 288.90L624.71 288.90L625.01 298.00L625.51 304.50L625.81 306.20ZM621.71 306.00L629.38 306.00L629.38 323.30L621.71 323.30ZM627.86 306.20L628.11 298.50L629.61 296.00L630.21 289.30L630.36 288.90L632.38 288.90L632.68 298.00L633.18 304.50L633.48 306.20ZM629.38 306.00L637.05 306.00L637.05 323.30L629.38 323.30ZM635.53 306.20L635.78 298.50L637.28 296.00L637.88 289.30L638.03 288.90L640.05 288.90L640.35 298.00L640.85 304.50L641.15 306.20ZM637.05 306.00L644.72 306.00L644.72 323.30L637.05 323.30ZM643.20 306.20L643.45 298.50L644.95 296.00L645.55 289.30L645.70 288.90L647.72 288.90L648.02 298.00L648.52 304.50L648.82 306.20ZM644.72 306.00L652.39 306.00L652.39 323.30L644.72 323.30ZM650.87 306.20L651.12 298.50L652.62 296.00L653.22 289.30L653.37 288.90L655.39 288.90L655.69 298.00L656.19 304.50L656.49 306.20ZM652.39 306.00L660.06 306.00L660.06 323.30L652.39 323.30ZM658.54 306.20L658.79 298.50L660.29 296.00L660.89 289.30L661.04 288.90L663.06 288.90L663.36 298.00L663.86 304.50L664.16 306.20ZM660.06 306.00L667.73 306.00L667.73 323.30L660.06 323.30ZM666.21 306.20L666.46 298.50L667.96 296.00L668.56 289.30L668.71 288.90L670.73 288.90L671.03 298.00L671.53 304.50L671.83 306.20ZM667.73 306.00L675.40 306.00L675.40 323.30L667.73 323.30ZM673.88 306.20L674.13 298.50L675.63 296.00L676.23 289.30L676.38 288.90L678.40 288.90L678.70 298.00L679.20 304.50L679.50 306.20ZM675.40 306.00L683.07 306.00L683.07 323.30L675.40 323.30ZM681.55 306.20L681.80 298.50L683.30 296.00L683.90 289.30L684.05 288.90L686.07 288.90L686.37 298.00L686.87 304.50L687.17 306.20ZM683.07 306.00L690.74 306.00L690.74 323.30L683.07 323.30ZM689.22 306.20L689.47 298.50L690.97 296.00L691.57 289.30L691.72 288.90L693.74 288.90L694.04 298.00L694.54 304.50L694.84 306.20ZM690.74 306.00L698.41 306.00L698.41 323.30L690.74 323.30ZM696.89 306.20L697.14 298.50L698.64 296.00L699.24 289.30L699.39 288.90L701.41 288.90L701.71 298.00L702.21 304.50L702.51 306.20ZM698.41 306.00L706.08 306.00L706.08 323.30L698.41 323.30ZM704.56 306.20L704.81 298.50L706.31 296.00L706.91 289.30L707.06 288.90L709.08 288.90L709.38 298.00L709.88 304.50L710.18 306.20ZM706.08 306.00L713.75 306.00L713.75 323.30L706.08 323.30ZM712.23 306.20L712.48 298.50L713.98 296.00L714.58 289.30L714.73 288.90L716.75 288.90L717.05 298.00L717.55 304.50L717.85 306.20ZM713.75 306.00L721.42 306.00L721.42 323.30L713.75 323.30ZM719.90 306.20L720.15 298.50L721.65 296.00L722.25 289.30L722.40 288.90L724.42 288.90L724.72 298.00L725.22 304.50L725.52 306.20ZM721.42 306.00L729.09 306.00L729.09 323.30L721.42 323.30ZM727.57 306.20L727.82 298.50L729.32 296.00L729.92 289.30L730.07 288.90L732.09 288.90L732.39 298.00L732.89 304.50L733.19 306.20ZM729.09 306.00L736.76 306.00L736.76 323.30L729.09 323.30ZM735.24 306.20L735.49 298.50L736.99 296.00L737.59 289.30L737.74 288.90L739.76 288.90L740.06 298.00L740.56 304.50L740.86 306.20ZM736.76 306.00L744.43 306.00L744.43 323.30L736.76 323.30ZM742.91 306.20L743.16 298.50L744.66 296.00L745.26 289.30L745.41 288.90L747.43 288.90L747.73 298.00L748.23 304.50L748.53 306.20ZM744.43 306.00L752.10 306.00L752.10 323.30L744.43 323.30ZM750.58 306.20L750.83 298.50L752.33 296.00L752.93 289.30L753.08 288.90L755.10 288.90L755.40 298.00L755.90 304.50L756.20 306.20ZM752.10 306.00L759.77 306.00L759.77 323.30L752.10 323.30ZM758.25 306.20L758.50 298.50L760.00 296.00L760.60 289.30L760.75 288.90L762.77 288.90L763.07 298.00L763.57 304.50L763.87 306.20ZM759.77 306.00L767.44 306.00L767.44 323.30L759.77 323.30ZM765.92 306.20L766.17 298.50L767.67 296.00L768.27 289.30L768.42 288.90L770.44 288.90L770.74 298.00L771.24 304.50L771.54 306.20ZM767.44 306.00L775.11 306.00L775.11 323.30L767.44 323.30ZM773.59 306.20L773.84 298.50L775.34 296.00L775.94 289.30L776.09 288.90L778.11 288.90L778.41 298.00L778.91 304.50L779.21 306.20ZM775.11 306.00L782.78 306.00L782.78 323.30L775.11 323.30ZM781.26 306.20L781.51 298.50L783.01 296.00L783.61 289.30L783.76 288.90L785.78 288.90L786.08 298.00L786.58 304.50L786.88 306.20ZM782.78 306.00L790.45 306.00L790.45 323.30L782.78 323.30ZM788.93 306.20L789.18 298.50L790.68 296.00L791.28 289.30L791.43 288.90L793.45 288.90L793.75 298.00L794.25 304.50L794.55 306.20ZM790.45 306.00L798.12 306.00L798.12 323.30L790.45 323.30ZM796.60 306.20L796.85 298.50L798.35 296.00L798.95 289.30L799.10 288.90L801.12 288.90L801.42 298.00L801.92 304.50L802.22 306.20ZM798.12 306.00L805.79 306.00L805.79 323.30L798.12 323.30ZM804.27 306.20L804.52 298.50L806.02 296.00L806.62 289.30L806.77 288.90L808.79 288.90L809.09 298.00L809.59 304.50L809.89 306.20ZM805.79 306.00L813.46 306.00L813.46 323.30L805.79 323.30ZM811.94 306.20L812.19 298.50L813.69 296.00L814.29 289.30L814.44 288.90L816.46 288.90L816.76 298.00L817.26 304.50L817.56 306.20ZM813.46 306.00L821.13 306.00L821.13 323.30L813.46 323.30ZM819.61 306.20L819.86 298.50L821.36 296.00L821.96 289.30L822.11 288.90L824.13 288.90L824.43 298.00L824.93 304.50L825.23 306.20ZM821.13 306.00L828.80 306.00L828.80 323.30L821.13 323.30ZM827.28 306.20L827.53 298.50L829.03 296.00L829.63 289.30L829.78 288.90L831.80 288.90L832.10 298.00L832.60 304.50L832.90 306.20ZM828.80 306.00L836.47 306.00L836.47 323.30L828.80 323.30ZM834.95 306.20L835.20 298.50L836.70 296.00L837.30 289.30L837.45 288.90L839.47 288.90L839.77 298.00L840.27 304.50L840.57 306.20ZM836.47 306.00L844.14 306.00L844.14 323.30L836.47 323.30ZM842.62 306.20L842.87 298.50L844.37 296.00L844.97 289.30L845.12 288.90L847.14 288.90L847.44 298.00L847.94 304.50L848.24 306.20ZM844.14 306.00L851.81 306.00L851.81 323.30L844.14 323.30ZM850.29 306.20L850.54 298.50L852.04 296.00L852.64 289.30L852.79 288.90L854.81 288.90L855.11 298.00L855.61 304.50L855.91 306.20ZM851.81 306.00L859.48 306.00L859.48 323.30L851.81 323.30ZM857.96 306.20L858.21 298.50L859.71 296.00L860.31 289.30L860.46 288.90L862.48 288.90L862.78 298.00L863.28 304.50L863.58 306.20ZM859.48 306.00L867.15 306.00L867.15 323.30L859.48 323.30ZM865.63 306.20L865.88 298.50L867.38 296.00L867.98 289.30L868.13 288.90L870.15 288.90L870.45 298.00L870.95 304.50L871.25 306.20ZM867.15 306.00L874.82 306.00L874.82 323.30L867.15 323.30ZM873.30 306.20L873.55 298.50L875.05 296.00L875.65 289.30L875.80 288.90L877.82 288.90L878.12 298.00L878.62 304.50L878.92 306.20ZM874.82 306.00L882.49 306.00L882.49 323.30L874.82 323.30ZM880.97 306.20L881.22 298.50L882.72 296.00L883.32 289.30L883.47 288.90L885.49 288.90L885.79 298.00L886.29 304.50L886.59 306.20ZM882.49 306.00L890.16 306.00L890.16 323.30L882.49 323.30ZM888.64 306.20L888.89 298.50L890.39 296.00L890.99 289.30L891.14 288.90L893.16 288.90L893.46 298.00L893.96 304.50L894.26 306.20ZM890.16 306.00L897.83 306.00L897.83 323.30L890.16 323.30ZM896.31 306.20L896.56 298.50L898.06 296.00L898.66 289.30L898.81 288.90L900.83 288.90L901.13 298.00L901.63 304.50L901.93 306.20ZM897.83 306.00L905.50 306.00L905.50 323.30L897.83 323.30ZM903.98 306.20L904.23 298.50L905.73 296.00L906.33 289.30L906.48 288.90L908.50 288.90L908.80 298.00L909.30 304.50L909.60 306.20ZM905.50 306.00L913.17 306.00L913.17 323.30L905.50 323.30ZM911.65 306.20L911.90 298.50L913.40 296.00L914.00 289.30L914.15 288.90L916.17 288.90L916.47 298.00L916.97 304.50L917.27 306.20Z" fill="#FBC15E" />
<path d="M134.93 305.00L136.83 305.00L136.98 309.00L136.63 316.30L135.43 316.30L135.03 311.00ZM132.13 323.20L132.43 318.80L133.83 317.50L134.13 320.00L133.83 323.20ZM133.83 317.50L135.03 311.00L135.43 313.00L134.13 319.50ZM137.03 317.00L137.73 317.00L138.53 322.60L137.43 322.90ZM136.63 312.00L137.03 312.00L137.73 317.00L137.03 317.50ZM142.60 305.00L144.50 305.00L144.65 309.00L144.30 316.30L143.10 316.30L142.70 311.00ZM139.80 323.20L140.10 318.80L141.50 317.50L141.80 320.00L141.50 323.20ZM141.50 317.50L142.70 311.00L143.10 313.00L141.80 319.50ZM144.70 317.00L145.40 317.00L146.20 322.60L145.10 322.90ZM144.30 312.00L144.70 312.00L145.40 317.00L144.70 317.50ZM150.27 305.00L152.17 305.00L152.32 309.00L151.97 316.30L150.77 316.30L150.37 311.00ZM147.47 323.20L147.77 318.80L149.17 317.50L149.47 320.00L149.17 323.20ZM149.17 317.50L150.37 311.00L150.77 313.00L149.47 319.50ZM152.37 317.00L153.07 317.00L153.87 322.60L152.77 322.90ZM151.97 312.00L152.37 312.00L153.07 317.00L152.37 317.50ZM157.94 305.00L159.84 305.00L159.99 309.00L159.64 316.30L158.44 316.30L158.04 311.00ZM155.14 323.20L155.44 318.80L156.84 317.50L157.14 320.00L156.84 323.20ZM156.84 317.50L158.04 311.00L158.44 313.00L157.14 319.50ZM160.04 317.00L160.74 317.00L161.54 322.60L160.44 322.90ZM159.64 312.00L160.04 312.00L160.74 317.00L160.04 317.50ZM165.61 305.00L167.51 305.00L167.66 309.00L167.31 316.30L166.11 316.30L165.71 311.00ZM162.81 323.20L163.11 318.80L164.51 317.50L164.81 320.00L164.51 323.20ZM164.51 317.50L165.71 311.00L166.11 313.00L164.81 319.50ZM167.71 317.00L168.41 317.00L169.21 322.60L168.11 322.90ZM167.31 312.00L167.71 312.00L168.41 317.00L167.71 317.50ZM173.28 305.00L175.18 305.00L175.33 309.00L174.98 316.30L173.78 316.30L173.38 311.00ZM170.48 323.20L170.78 318.80L172.18 317.50L172.48 320.00L172.18 323.20ZM172.18 317.50L173.38 311.00L173.78 313.00L172.48 319.50ZM175.38 317.00L176.08 317.00L176.88 322.60L175.78 322.90ZM174.98 312.00L175.38 312.00L176.08 317.00L175.38 317.50ZM180.95 305.00L182.85 305.00L183.00 309.00L182.65 316.30L181.45 316.30L181.05 311.00ZM178.15 323.20L178.45 318.80L179.85 317.50L180.15 320.00L179.85 323.20ZM179.85 317.50L181.05 311.00L181.45 313.00L180.15 319.50ZM183.05 317.00L183.75 317.00L184.55 322.60L183.45 322.90ZM182.65 312.00L183.05 312.00L183.75 317.00L183.05 317.50ZM188.62 305.00L190.52 305.00L190.67 309.00L190.32 316.30L189.12 316.30L188.72 311.00ZM185.82 323.20L186.12 318.80L187.52 317.50L187.82 320.00L187.52 323.20ZM187.52 317.50L188.72 311.00L189.12 313.00L187.82 319.50ZM190.72 317.00L191.42 317.00L192.22 322.60L191.12 322.90ZM190.32 312.00L190.72 312.00L191.42 317.00L190.72 317.50ZM196.29 305.00L198.19 305.00L198.34 309.00L197.99 316.30L196.79 316.30L196.39 311.00ZM193.49 323.20L193.79 318.80L195.19 317.50L195.49 320.00L195.19 323.20ZM195.19 317.50L196.39 311.00L196.79 313.00L195.49 319.50ZM198.39 317.00L199.09 317.00L199.89 322.60L198.79 322.90ZM197.99 312.00L198.39 312.00L199.09 317.00L198.39 317.50ZM203.96 305.00L205.86 305.00L206.01 309.00L205.66 316.30L204.46 316.30L204.06 311.00ZM201.16 323.20L201.46 318.80L202.86 317.50L203.16 320.00L202.86 323.20ZM202.86 317.50L204.06 311.00L204.46 313.00L203.16 319.50ZM206.06 317.00L206.76 317.00L207.56 322.60L206.46 322.90ZM205.66 312.00L206.06 312.00L206.76 317.00L206.06 317.50ZM211.63 305.00L213.53 305.00L213.68 309.00L213.33 316.30L212.13 316.30L211.73 311.00ZM208.83 323.20L209.13 318.80L210.53 317.50L210.83 320.00L210.53 323.20ZM210.53 317.50L211.73 311.00L212.13 313.00L210.83 319.50ZM213.73 317.00L214.43 317.00L215.23 322.60L214.13 322.90ZM213.33 312.00L213.73 312.00L214.43 317.00L213.73 317.50ZM219.30 305.00L221.20 305.00L221.35 309.00L221.00 316.30L219.80 316.30L219.40 311.00ZM216.50 323.20L216.80 318.80L218.20 317.50L218.50 320.00L218.20 323.20ZM218.20 317.50L219.40 311.00L219.80 313.00L218.50 319.50ZM221.40 317.00L222.10 317.00L222.90 322.60L221.80 322.90ZM221.00 312.00L221.40 312.00L222.10 317.00L221.40 317.50ZM226.97 305.00L228.87 305.00L229.02 309.00L228.67 316.30L227.47 316.30L227.07 311.00ZM224.17 323.20L224.47 318.80L225.87 317.50L226.17 320.00L225.87 323.20ZM225.87 317.50L227.07 311.00L227.47 313.00L226.17 319.50ZM229.07 317.00L229.77 317.00L230.57 322.60L229.47 322.90ZM228.67 312.00L229.07 312.00L229.77 317.00L229.07 317.50ZM234.64 305.00L236.54 305.00L236.69 309.00L236.34 316.30L235.14 316.30L234.74 311.00ZM231.84 323.20L232.14 318.80L233.54 317.50L233.84 320.00L233.54 323.20ZM233.54 317.50L234.74 311.00L235.14 313.00L233.84 319.50ZM236.74 317.00L237.44 317.00L238.24 322.60L237.14 322.90ZM236.34 312.00L236.74 312.00L237.44 317.00L236.74 317.50ZM242.31 305.00L244.21 305.00L244.36 309.00L244.01 316.30L242.81 316.30L242.41 311.00ZM239.51 323.20L239.81 318.80L241.21 317.50L241.51 320.00L241.21 323.20ZM241.21 317.50L242.41 311.00L242.81 313.00L241.51 319.50ZM244.41 317.00L245.11 317.00L245.91 322.60L244.81 322.90ZM244.01 312.00L244.41 312.00L245.11 317.00L244.41 317.50ZM249.98 305.00L251.88 305.00L252.03 309.00L251.68 316.30L250.48 316.30L250.08 311.00ZM247.18 323.20L247.48 318.80L248.88 317.50L249.18 320.00L248.88 323.20ZM248.88 317.50L250.08 311.00L250.48 313.00L249.18 319.50ZM252.08 317.00L252.78 317.00L253.58 322.60L252.48 322.90ZM251.68 312.00L252.08 312.00L252.78 317.00L252.08 317.50ZM257.65 305.00L259.55 305.00L259.70 309.00L259.35 316.30L258.15 316.30L257.75 311.00ZM254.85 323.20L255.15 318.80L256.55 317.50L256.85 320.00L256.55 323.20ZM256.55 317.50L257.75 311.00L258.15 313.00L256.85 319.50ZM259.75 317.00L260.45 317.00L261.25 322.60L260.15 322.90ZM259.35 312.00L259.75 312.00L260.45 317.00L259.75 317.50ZM265.32 305.00L267.22 305.00L267.37 309.00L267.02 316.30L265.82 316.30L265.42 311.00ZM262.52 323.20L262.82 318.80L264.22 317.50L264.52 320.00L264.22 323.20ZM264.22 317.50L265.42 311.00L265.82 313.00L264.52 319.50ZM267.42 317.00L268.12 317.00L268.92 322.60L267.82 322.90ZM267.02 312.00L267.42 312.00L268.12 317.00L267.42 317.50ZM272.99 305.00L274.89 305.00L275.04 309.00L274.69 316.30L273.49 316.30L273.09 311.00ZM270.19 323.20L270.49 318.80L271.89 317.50L272.19 320.00L271.89 323.20ZM271.89 317.50L273.09 311.00L273.49 313.00L272.19 319.50ZM275.09 317.00L275.79 317.00L276.59 322.60L275.49 322.90ZM274.69 312.00L275.09 312.00L275.79 317.00L275.09 317.50ZM280.66 305.00L282.56 305.00L282.71 309.00L282.36 316.30L281.16 316.30L280.76 311.00ZM277.86 323.20L278.16 318.80L279.56 317.50L279.86 320.00L279.56 323.20ZM279.56 317.50L280.76 311.00L281.16 313.00L279.86 319.50ZM282.76 317.00L283.46 317.00L284.26 322.60L283.16 322.90ZM282.36 312.00L282.76 312.00L283.46 317.00L282.76 317.50ZM288.33 305.00L290.23 305.00L290.38 309.00L290.03 316.30L288.83 316.30L288.43 311.00ZM285.53 323.20L285.83 318.80L287.23 317.50L287.53 320.00L287.23 323.20ZM287.23 317.50L288.43 311.00L288.83 313.00L287.53 319.50ZM290.43 317.00L291.13 317.00L291.93 322.60L290.83 322.90ZM290.03 312.00L290.43 312.00L291.13 317.00L290.43 317.50ZM296.00 305.00L297.90 305.00L298.05 309.00L297.70 316.30L296.50 316.30L296.10 311.00ZM293.20 323.20L293.50 318.80L294.90 317.50L295.20 320.00L294.90 323.20ZM294.90 317.50L296.10 311.00L296.50 313.00L295.20 319.50ZM298.10 317.00L298.80 317.00L299.60 322.60L298.50 322.90ZM297.70 312.00L298.10 312.00L298.80 317.00L298.10 317.50ZM303.67 305.00L305.57 305.00L305.72 309.00L305.37 316.30L304.17 316.30L303.77 311.00ZM300.87 323.20L301.17 318.80L302.57 317.50L302.87 320.00L302.57 323.20ZM302.57 317.50L303.77 311.00L304.17 313.00L302.87 319.50ZM305.77 317.00L306.47 317.00L307.27 322.60L306.17 322.90ZM305.37 312.00L305.77 312.00L306.47 317.00L305.77 317.50ZM311.34 305.00L313.24 305.00L313.39 309.00L313.04 316.30L311.84 316.30L311.44 311.00ZM308.54 323.20L308.84 318.80L310.24 317.50L310.54 320.00L310.24 323.20ZM310.24 317.50L311.44 311.00L311.84 313.00L310.54 319.50ZM313.44 317.00L314.14 317.00L314.94 322.60L313.84 322.90ZM313.04 312.00L313.44 312.00L314.14 317.00L313.44 317.50ZM319.01 305.00L320.91 305.00L321.06 309.00L320.71 316.30L319.51 316.30L319.11 311.00ZM316.21 323.20L316.51 318.80L317.91 317.50L318.21 320.00L317.91 323.20ZM317.91 317.50L319.11 311.00L319.51 313.00L318.21 319.50ZM321.11 317.00L321.81 317.00L322.61 322.60L321.51 322.90ZM320.71 312.00L321.11 312.00L321.81 317.00L321.11 317.50ZM326.68 305.00L328.58 305.00L328.73 309.00L328.38 316.30L327.18 316.30L326.78 311.00ZM323.88 323.20L324.18 318.80L325.58 317.50L325.88 320.00L325.58 323.20ZM325.58 317.50L326.78 311.00L327.18 313.00L325.88 319.50ZM328.78 317.00L329.48 317.00L330.28 322.60L329.18 322.90ZM328.38 312.00L328.78 312.00L329.48 317.00L328.78 317.50ZM334.35 305.00L336.25 305.00L336.40 309.00L336.05 316.30L334.85 316.30L334.45 311.00ZM331.55 323.20L331.85 318.80L333.25 317.50L333.55 320.00L333.25 323.20ZM333.25 317.50L334.45 311.00L334.85 313.00L333.55 319.50ZM336.45 317.00L337.15 317.00L337.95 322.60L336.85 322.90ZM336.05 312.00L336.45 312.00L337.15 317.00L336.45 317.50ZM342.02 305.00L343.92 305.00L344.07 309.00L343.72 316.30L342.52 316.30L342.12 311.00ZM339.22 323.20L339.52 318.80L340.92 317.50L341.22 320.00L340.92 323.20ZM340.92 317.50L342.12 311.00L342.52 313.00L341.22 319.50ZM344.12 317.00L344.82 317.00L345.62 322.60L344.52 322.90ZM343.72 312.00L344.12 312.00L344.82 317.00L344.12 317.50ZM349.69 305.00L351.59 305.00L351.74 309.00L351.39 316.30L350.19 316.30L349.79 311.00ZM346.89 323.20L347.19 318.80L348.59 317.50L348.89 320.00L348.59 323.20ZM348.59 317.50L349.79 311.00L350.19 313.00L348.89 319.50ZM351.79 317.00L352.49 317.00L353.29 322.60L352.19 322.90ZM351.39 312.00L351.79 312.00L352.49 317.00L351.79 317.50ZM357.36 305.00L359.26 305.00L359.41 309.00L359.06 316.30L357.86 316.30L357.46 311.00ZM354.56 323.20L354.86 318.80L356.26 317.50L356.56 320.00L356.26 323.20ZM356.26 317.50L357.46 311.00L357.86 313.00L356.56 319.50ZM359.46 317.00L360.16 317.00L360.96 322.60L359.86 322.90ZM359.06 312.00L359.46 312.00L360.16 317.00L359.46 317.50ZM365.03 305.00L366.93 305.00L367.08 309.00L366.73 316.30L365.53 316.30L365.13 311.00ZM362.23 323.20L362.53 318.80L363.93 317.50L364.23 320.00L363.93 323.20ZM363.93 317.50L365.13 311.00L365.53 313.00L364.23 319.50ZM367.13 317.00L367.83 317.00L368.63 322.60L367.53 322.90ZM366.73 312.00L367.13 312.00L367.83 317.00L367.13 317.50ZM372.70 305.00L374.60 305.00L374.75 309.00L374.40 316.30L373.20 316.30L372.80 311.00ZM369.90 323.20L370.20 318.80L371.60 317.50L371.90 320.00L371.60 323.20ZM371.60 317.50L372.80 311.00L373.20 313.00L371.90 319.50ZM374.80 317.00L375.50 317.00L376.30 322.60L375.20 322.90ZM374.40 312.00L374.80 312.00L375.50 317.00L374.80 317.50ZM380.37 305.00L382.27 305.00L382.42 309.00L382.07 316.30L380.87 316.30L380.47 311.00ZM377.57 323.20L377.87 318.80L379.27 317.50L379.57 320.00L379.27 323.20ZM379.27 317.50L380.47 311.00L380.87 313.00L379.57 319.50ZM382.47 317.00L383.17 317.00L383.97 322.60L382.87 322.90ZM382.07 312.00L382.47 312.00L383.17 317.00L382.47 317.50ZM388.04 305.00L389.94 305.00L390.09 309.00L389.74 316.30L388.54 316.30L388.14 311.00ZM385.24 323.20L385.54 318.80L386.94 317.50L387.24 320.00L386.94 323.20ZM386.94 317.50L388.14 311.00L388.54 313.00L387.24 319.50ZM390.14 317.00L390.84 317.00L391.64 322.60L390.54 322.90ZM389.74 312.00L390.14 312.00L390.84 317.00L390.14 317.50ZM395.71 305.00L397.61 305.00L397.76 309.00L397.41 316.30L396.21 316.30L395.81 311.00ZM392.91 323.20L393.21 318.80L394.61 317.50L394.91 320.00L394.61 323.20ZM394.61 317.50L395.81 311.00L396.21 313.00L394.91 319.50ZM397.81 317.00L398.51 317.00L399.31 322.60L398.21 322.90ZM397.41 312.00L397.81 312.00L398.51 317.00L397.81 317.50ZM403.38 305.00L405.28 305.00L405.43 309.00L405.08 316.30L403.88 316.30L403.48 311.00ZM400.58 323.20L400.88 318.80L402.28 317.50L402.58 320.00L402.28 323.20ZM402.28 317.50L403.48 311.00L403.88 313.00L402.58 319.50ZM405.48 317.00L406.18 317.00L406.98 322.60L405.88 322.90ZM405.08 312.00L405.48 312.00L406.18 317.00L405.48 317.50ZM411.05 305.00L412.95 305.00L413.10 309.00L412.75 316.30L411.55 316.30L411.15 311.00ZM408.25 323.20L408.55 318.80L409.95 317.50L410.25 320.00L409.95 323.20ZM409.95 317.50L411.15 311.00L411.55 313.00L410.25 319.50ZM413.15 317.00L413.85 317.00L414.65 322.60L413.55 322.90ZM412.75 312.00L413.15 312.00L413.85 317.00L413.15 317.50ZM418.72 305.00L420.62 305.00L420.77 309.00L420.42 316.30L419.22 316.30L418.82 311.00ZM415.92 323.20L416.22 318.80L417.62 317.50L417.92 320.00L417.62 323.20ZM417.62 317.50L418.82 311.00L419.22 313.00L417.92 319.50ZM420.82 317.00L421.52 317.00L422.32 322.60L421.22 322.90ZM420.42 312.00L420.82 312.00L421.52 317.00L420.82 317.50ZM426.39 305.00L428.29 305.00L428.44 309.00L428.09 316.30L426.89 316.30L426.49 311.00ZM423.59 323.20L423.89 318.80L425.29 317.50L425.59 320.00L425.29 323.20ZM425.29 317.50L426.49 311.00L426.89 313.00L425.59 319.50ZM428.49 317.00L429.19 317.00L429.99 322.60L428.89 322.90ZM428.09 312.00L428.49 312.00L429.19 317.00L428.49 317.50ZM434.06 305.00L435.96 305.00L436.11 309.00L435.76 316.30L434.56 316.30L434.16 311.00ZM431.26 323.20L431.56 318.80L432.96 317.50L433.26 320.00L432.96 323.20ZM432.96 317.50L434.16 311.00L434.56 313.00L433.26 319.50ZM436.16 317.00L436.86 317.00L437.66 322.60L436.56 322.90ZM435.76 312.00L436.16 312.00L436.86 317.00L436.16 317.50ZM441.73 305.00L443.63 305.00L443.78 309.00L443.43 316.30L442.23 316.30L441.83 311.00ZM438.93 323.20L439.23 318.80L440.63 317.50L440.93 320.00L440.63 323.20ZM440.63 317.50L441.83 311.00L442.23 313.00L440.93 319.50ZM443.83 317.00L444.53 317.00L445.33 322.60L444.23 322.90ZM443.43 312.00L443.83 312.00L444.53 317.00L443.83 317.50ZM449.40 305.00L451.30 305.00L451.45 309.00L451.10 316.30L449.90 316.30L449.50 311.00ZM446.60 323.20L446.90 318.80L448.30 317.50L448.60 320.00L448.30 323.20ZM448.30 317.50L449.50 311.00L449.90 313.00L448.60 319.50ZM451.50 317.00L452.20 317.00L453.00 322.60L451.90 322.90ZM451.10 312.00L451.50 312.00L452.20 317.00L451.50 317.50ZM457.07 305.00L458.97 305.00L459.12 309.00L458.77 316.30L457.57 316.30L457.17 311.00ZM454.27 323.20L454.57 318.80L455.97 317.50L456.27 320.00L455.97 323.20ZM455.97 317.50L457.17 311.00L457.57 313.00L456.27 319.50ZM459.17 317.00L459.87 317.00L460.67 322.60L459.57 322.90ZM458.77 312.00L459.17 312.00L459.87 317.00L459.17 317.50ZM464.74 305.00L466.64 305.00L466.79 309.00L466.44 316.30L465.24 316.30L464.84 311.00ZM461.94 323.20L462.24 318.80L463.64 317.50L463.94 320.00L463.64 323.20ZM463.64 317.50L464.84 311.00L465.24 313.00L463.94 319.50ZM466.84 317.00L467.54 317.00L468.34 322.60L467.24 322.90ZM466.44 312.00L466.84 312.00L467.54 317.00L466.84 317.50ZM472.41 305.00L474.31 305.00L474.46 309.00L474.11 316.30L472.91 316.30L472.51 311.00ZM469.61 323.20L469.91 318.80L471.31 317.50L471.61 320.00L471.31 323.20ZM471.31 317.50L472.51 311.00L472.91 313.00L471.61 319.50ZM474.51 317.00L475.21 317.00L476.01 322.60L474.91 322.90ZM474.11 312.00L474.51 312.00L475.21 317.00L474.51 317.50ZM480.08 305.00L481.98 305.00L482.13 309.00L481.78 316.30L480.58 316.30L480.18 311.00ZM477.28 323.20L477.58 318.80L478.98 317.50L479.28 320.00L478.98 323.20ZM478.98 317.50L480.18 311.00L480.58 313.00L479.28 319.50ZM482.18 317.00L482.88 317.00L483.68 322.60L482.58 322.90ZM481.78 312.00L482.18 312.00L482.88 317.00L482.18 317.50ZM487.75 305.00L489.65 305.00L489.80 309.00L489.45 316.30L488.25 316.30L487.85 311.00ZM484.95 323.20L485.25 318.80L486.65 317.50L486.95 320.00L486.65 323.20ZM486.65 317.50L487.85 311.00L488.25 313.00L486.95 319.50ZM489.85 317.00L490.55 317.00L491.35 322.60L490.25 322.90ZM489.45 312.00L489.85 312.00L490.55 317.00L489.85 317.50ZM495.42 305.00L497.32 305.00L497.47 309.00L497.12 316.30L495.92 316.30L495.52 311.00ZM492.62 323.20L492.92 318.80L494.32 317.50L494.62 320.00L494.32 323.20ZM494.32 317.50L495.52 311.00L495.92 313.00L494.62 319.50ZM497.52 317.00L498.22 317.00L499.02 322.60L497.92 322.90ZM497.12 312.00L497.52 312.00L498.22 317.00L497.52 317.50ZM503.09 305.00L504.99 305.00L505.14 309.00L504.79 316.30L503.59 316.30L503.19 311.00ZM500.29 323.20L500.59 318.80L501.99 317.50L502.29 320.00L501.99 323.20ZM501.99 317.50L503.19 311.00L503.59 313.00L502.29 319.50ZM505.19 317.00L505.89 317.00L506.69 322.60L505.59 322.90ZM504.79 312.00L505.19 312.00L505.89 317.00L505.19 317.50ZM510.76 305.00L512.66 305.00L512.81 309.00L512.46 316.30L511.26 316.30L510.86 311.00ZM507.96 323.20L508.26 318.80L509.66 317.50L509.96 320.00L509.66 323.20ZM509.66 317.50L510.86 311.00L511.26 313.00L509.96 319.50ZM512.86 317.00L513.56 317.00L514.36 322.60L513.26 322.90ZM512.46 312.00L512.86 312.00L513.56 317.00L512.86 317.50ZM518.43 305.00L520.33 305.00L520.48 309.00L520.13 316.30L518.93 316.30L518.53 311.00ZM515.63 323.20L515.93 318.80L517.33 317.50L517.63 320.00L517.33 323.20ZM517.33 317.50L518.53 311.00L518.93 313.00L517.63 319.50ZM520.53 317.00L521.23 317.00L522.03 322.60L520.93 322.90ZM520.13 312.00L520.53 312.00L521.23 317.00L520.53 317.50ZM526.10 305.00L528.00 305.00L528.15 309.00L527.80 316.30L526.60 316.30L526.20 311.00ZM523.30 323.20L523.60 318.80L525.00 317.50L525.30 320.00L525.00 323.20ZM525.00 317.50L526.20 311.00L526.60 313.00L525.30 319.50ZM528.20 317.00L528.90 317.00L529.70 322.60L528.60 322.90ZM527.80 312.00L528.20 312.00L528.90 317.00L528.20 317.50ZM533.77 305.00L535.67 305.00L535.82 309.00L535.47 316.30L534.27 316.30L533.87 311.00ZM530.97 323.20L531.27 318.80L532.67 317.50L532.97 320.00L532.67 323.20ZM532.67 317.50L533.87 311.00L534.27 313.00L532.97 319.50ZM535.87 317.00L536.57 317.00L537.37 322.60L536.27 322.90ZM535.47 312.00L535.87 312.00L536.57 317.00L535.87 317.50ZM541.44 305.00L543.34 305.00L543.49 309.00L543.14 316.30L541.94 316.30L541.54 311.00ZM538.64 323.20L538.94 318.80L540.34 317.50L540.64 320.00L540.34 323.20ZM540.34 317.50L541.54 311.00L541.94 313.00L540.64 319.50ZM543.54 317.00L544.24 317.00L545.04 322.60L543.94 322.90ZM543.14 312.00L543.54 312.00L544.24 317.00L543.54 317.50ZM549.11 305.00L551.01 305.00L551.16 309.00L550.81 316.30L549.61 316.30L549.21 311.00ZM546.31 323.20L546.61 318.80L548.01 317.50L548.31 320.00L548.01 323.20ZM548.01 317.50L549.21 311.00L549.61 313.00L548.31 319.50ZM551.21 317.00L551.91 317.00L552.71 322.60L551.61 322.90ZM550.81 312.00L551.21 312.00L551.91 317.00L551.21 317.50ZM556.78 305.00L558.68 305.00L558.83 309.00L558.48 316.30L557.28 316.30L556.88 311.00ZM553.98 323.20L554.28 318.80L555.68 317.50L555.98 320.00L555.68 323.20ZM555.68 317.50L556.88 311.00L557.28 313.00L555.98 319.50ZM558.88 317.00L559.58 317.00L560.38 322.60L559.28 322.90ZM558.48 312.00L558.88 312.00L559.58 317.00L558.88 317.50ZM564.45 305.00L566.35 305.00L566.50 309.00L566.15 316.30L564.95 316.30L564.55 311.00ZM561.65 323.20L561.95 318.80L563.35 317.50L563.65 320.00L563.35 323.20ZM563.35 317.50L564.55 311.00L564.95 313.00L563.65 319.50ZM566.55 317.00L567.25 317.00L568.05 322.60L566.95 322.90ZM566.15 312.00L566.55 312.00L567.25 317.00L566.55 317.50ZM572.12 305.00L574.02 305.00L574.17 309.00L573.82 316.30L572.62 316.30L572.22 311.00ZM569.32 323.20L569.62 318.80L571.02 317.50L571.32 320.00L571.02 323.20ZM571.02 317.50L572.22 311.00L572.62 313.00L571.32 319.50ZM574.22 317.00L574.92 317.00L575.72 322.60L574.62 322.90ZM573.82 312.00L574.22 312.00L574.92 317.00L574.22 317.50ZM579.79 305.00L581.69 305.00L581.84 309.00L581.49 316.30L580.29 316.30L579.89 311.00ZM576.99 323.20L577.29 318.80L578.69 317.50L578.99 320.00L578.69 323.20ZM578.69 317.50L579.89 311.00L580.29 313.00L578.99 319.50ZM581.89 317.00L582.59 317.00L583.39 322.60L582.29 322.90ZM581.49 312.00L581.89 312.00L582.59 317.00L581.89 317.50ZM587.46 305.00L589.36 305.00L589.51 309.00L589.16 316.30L587.96 316.30L587.56 311.00ZM584.66 323.20L584.96 318.80L586.36 317.50L586.66 320.00L586.36 323.20ZM586.36 317.50L587.56 311.00L587.96 313.00L586.66 319.50ZM589.56 317.00L590.26 317.00L591.06 322.60L589.96 322.90ZM589.16 312.00L589.56 312.00L590.26 317.00L589.56 317.50ZM595.13 305.00L597.03 305.00L597.18 309.00L596.83 316.30L595.63 316.30L595.23 311.00ZM592.33 323.20L592.63 318.80L594.03 317.50L594.33 320.00L594.03 323.20ZM594.03 317.50L595.23 311.00L595.63 313.00L594.33 319.50ZM597.23 317.00L597.93 317.00L598.73 322.60L597.63 322.90ZM596.83 312.00L597.23 312.00L597.93 317.00L597.23 317.50ZM602.80 305.00L604.70 305.00L604.85 309.00L604.50 316.30L603.30 316.30L602.90 311.00ZM600.00 323.20L600.30 318.80L601.70 317.50L602.00 320.00L601.70 323.20ZM601.70 317.50L602.90 311.00L603.30 313.00L602.00 319.50ZM604.90 317.00L605.60 317.00L606.40 322.60L605.30 322.90ZM604.50 312.00L604.90 312.00L605.60 317.00L604.90 317.50ZM610.47 305.00L612.37 305.00L612.52 309.00L612.17 316.30L610.97 316.30L610.57 311.00ZM607.67 323.20L607.97 318.80L609.37 317.50L609.67 320.00L609.37 323.20ZM609.37 317.50L610.57 311.00L610.97 313.00L609.67 319.50ZM612.57 317.00L613.27 317.00L614.07 322.60L612.97 322.90ZM612.17 312.00L612.57 312.00L613.27 317.00L612.57 317.50ZM618.14 305.00L620.04 305.00L620.19 309.00L619.84 316.30L618.64 316.30L618.24 311.00ZM615.34 323.20L615.64 318.80L617.04 317.50L617.34 320.00L617.04 323.20ZM617.04 317.50L618.24 311.00L618.64 313.00L617.34 319.50ZM620.24 317.00L620.94 317.00L621.74 322.60L620.64 322.90ZM619.84 312.00L620.24 312.00L620.94 317.00L620.24 317.50ZM625.81 305.00L627.71 305.00L627.86 309.00L627.51 316.30L626.31 316.30L625.91 311.00ZM623.01 323.20L623.31 318.80L624.71 317.50L625.01 320.00L624.71 323.20ZM624.71 317.50L625.91 311.00L626.31 313.00L625.01 319.50ZM627.91 317.00L628.61 317.00L629.41 322.60L628.31 322.90ZM627.51 312.00L627.91 312.00L628.61 317.00L627.91 317.50ZM633.48 305.00L635.38 305.00L635.53 309.00L635.18 316.30L633.98 316.30L633.58 311.00ZM630.68 323.20L630.98 318.80L632.38 317.50L632.68 320.00L632.38 323.20ZM632.38 317.50L633.58 311.00L633.98 313.00L632.68 319.50ZM635.58 317.00L636.28 317.00L637.08 322.60L635.98 322.90ZM635.18 312.00L635.58 312.00L636.28 317.00L635.58 317.50ZM641.15 305.00L643.05 305.00L643.20 309.00L642.85 316.30L641.65 316.30L641.25 311.00ZM638.35 323.20L638.65 318.80L640.05 317.50L640.35 320.00L640.05 323.20ZM640.05 317.50L641.25 311.00L641.65 313.00L640.35 319.50ZM643.25 317.00L643.95 317.00L644.75 322.60L643.65 322.90ZM642.85 312.00L643.25 312.00L643.95 317.00L643.25 317.50ZM648.82 305.00L650.72 305.00L650.87 309.00L650.52 316.30L649.32 316.30L648.92 311.00ZM646.02 323.20L646.32 318.80L647.72 317.50L648.02 320.00L647.72 323.20ZM647.72 317.50L648.92 311.00L649.32 313.00L648.02 319.50ZM650.92 317.00L651.62 317.00L652.42 322.60L651.32 322.90ZM650.52 312.00L650.92 312.00L651.62 317.00L650.92 317.50ZM656.49 305.00L658.39 305.00L658.54 309.00L658.19 316.30L656.99 316.30L656.59 311.00ZM653.69 323.20L653.99 318.80L655.39 317.50L655.69 320.00L655.39 323.20ZM655.39 317.50L656.59 311.00L656.99 313.00L655.69 319.50ZM658.59 317.00L659.29 317.00L660.09 322.60L658.99 322.90ZM658.19 312.00L658.59 312.00L659.29 317.00L658.59 317.50ZM664.16 305.00L666.06 305.00L666.21 309.00L665.86 316.30L664.66 316.30L664.26 311.00ZM661.36 323.20L661.66 318.80L663.06 317.50L663.36 320.00L663.06 323.20ZM663.06 317.50L664.26 311.00L664.66 313.00L663.36 319.50ZM666.26 317.00L666.96 317.00L667.76 322.60L666.66 322.90ZM665.86 312.00L666.26 312.00L666.96 317.00L666.26 317.50ZM671.83 305.00L673.73 305.00L673.88 309.00L673.53 316.30L672.33 316.30L671.93 311.00ZM669.03 323.20L669.33 318.80L670.73 317.50L671.03 320.00L670.73 323.20ZM670.73 317.50L671.93 311.00L672.33 313.00L671.03 319.50ZM673.93 317.00L674.63 317.00L675.43 322.60L674.33 322.90ZM673.53 312.00L673.93 312.00L674.63 317.00L673.93 317.50ZM679.50 305.00L681.40 305.00L681.55 309.00L681.20 316.30L680.00 316.30L679.60 311.00ZM676.70 323.20L677.00 318.80L678.40 317.50L678.70 320.00L678.40 323.20ZM678.40 317.50L679.60 311.00L680.00 313.00L678.70 319.50ZM681.60 317.00L682.30 317.00L683.10 322.60L682.00 322.90ZM681.20 312.00L681.60 312.00L682.30 317.00L681.60 317.50ZM687.17 305.00L689.07 305.00L689.22 309.00L688.87 316.30L687.67 316.30L687.27 311.00ZM684.37 323.20L684.67 318.80L686.07 317.50L686.37 320.00L686.07 323.20ZM686.07 317.50L687.27 311.00L687.67 313.00L686.37 319.50ZM689.27 317.00L689.97 317.00L690.77 322.60L689.67 322.90ZM688.87 312.00L689.27 312.00L689.97 317.00L689.27 317.50ZM694.84 305.00L696.74 305.00L696.89 309.00L696.54 316.30L695.34 316.30L694.94 311.00ZM692.04 323.20L692.34 318.80L693.74 317.50L694.04 320.00L693.74 323.20ZM693.74 317.50L694.94 311.00L695.34 313.00L694.04 319.50ZM696.94 317.00L697.64 317.00L698.44 322.60L697.34 322.90ZM696.54 312.00L696.94 312.00L697.64 317.00L696.94 317.50ZM702.51 305.00L704.41 305.00L704.56 309.00L704.21 316.30L703.01 316.30L702.61 311.00ZM699.71 323.20L700.01 318.80L701.41 317.50L701.71 320.00L701.41 323.20ZM701.41 317.50L702.61 311.00L703.01 313.00L701.71 319.50ZM704.61 317.00L705.31 317.00L706.11 322.60L705.01 322.90ZM704.21 312.00L704.61 312.00L705.31 317.00L704.61 317.50ZM710.18 305.00L712.08 305.00L712.23 309.00L711.88 316.30L710.68 316.30L710.28 311.00ZM707.38 323.20L707.68 318.80L709.08 317.50L709.38 320.00L709.08 323.20ZM709.08 317.50L710.28 311.00L710.68 313.00L709.38 319.50ZM712.28 317.00L712.98 317.00L713.78 322.60L712.68 322.90ZM711.88 312.00L712.28 312.00L712.98 317.00L712.28 317.50ZM717.85 305.00L719.75 305.00L719.90 309.00L719.55 316.30L718.35 316.30L717.95 311.00ZM715.05 323.20L715.35 318.80L716.75 317.50L717.05 320.00L716.75 323.20ZM716.75 317.50L717.95 311.00L718.35 313.00L717.05 319.50ZM719.95 317.00L720.65 317.00L721.45 322.60L720.35 322.90ZM719.55 312.00L719.95 312.00L720.65 317.00L719.95 317.50ZM725.52 305.00L727.42 305.00L727.57 309.00L727.22 316.30L726.02 316.30L725.62 311.00ZM722.72 323.20L723.02 318.80L724.42 317.50L724.72 320.00L724.42 323.20ZM724.42 317.50L725.62 311.00L726.02 313.00L724.72 319.50ZM727.62 317.00L728.32 317.00L729.12 322.60L728.02 322.90ZM727.22 312.00L727.62 312.00L728.32 317.00L727.62 317.50ZM733.19 305.00L735.09 305.00L735.24 309.00L734.89 316.30L733.69 316.30L733.29 311.00ZM730.39 323.20L730.69 318.80L732.09 317.50L732.39 320.00L732.09 323.20ZM732.09 317.50L733.29 311.00L733.69 313.00L732.39 319.50ZM735.29 317.00L735.99 317.00L736.79 322.60L735.69 322.90ZM734.89 312.00L735.29 312.00L735.99 317.00L735.29 317.50ZM740.86 305.00L742.76 305.00L742.91 309.00L742.56 316.30L741.36 316.30L740.96 311.00ZM738.06 323.20L738.36 318.80L739.76 317.50L740.06 320.00L739.76 323.20ZM739.76 317.50L740.96 311.00L741.36 313.00L740.06 319.50ZM742.96 317.00L743.66 317.00L744.46 322.60L743.36 322.90ZM742.56 312.00L742.96 312.00L743.66 317.00L742.96 317.50ZM748.53 305.00L750.43 305.00L750.58 309.00L750.23 316.30L749.03 316.30L748.63 311.00ZM745.73 323.20L746.03 318.80L747.43 317.50L747.73 320.00L747.43 323.20ZM747.43 317.50L748.63 311.00L749.03 313.00L747.73 319.50ZM750.63 317.00L751.33 317.00L752.13 322.60L751.03 322.90ZM750.23 312.00L750.63 312.00L751.33 317.00L750.63 317.50ZM756.20 305.00L758.10 305.00L758.25 309.00L757.90 316.30L756.70 316.30L756.30 311.00ZM753.40 323.20L753.70 318.80L755.10 317.50L755.40 320.00L755.10 323.20ZM755.10 317.50L756.30 311.00L756.70 313.00L755.40 319.50ZM758.30 317.00L759.00 317.00L759.80 322.60L758.70 322.90ZM757.90 312.00L758.30 312.00L759.00 317.00L758.30 317.50ZM763.87 305.00L765.77 305.00L765.92 309.00L765.57 316.30L764.37 316.30L763.97 311.00ZM761.07 323.20L761.37 318.80L762.77 317.50L763.07 320.00L762.77 323.20ZM762.77 317.50L763.97 311.00L764.37 313.00L763.07 319.50ZM765.97 317.00L766.67 317.00L767.47 322.60L766.37 322.90ZM765.57 312.00L765.97 312.00L766.67 317.00L765.97 317.50ZM771.54 305.00L773.44 305.00L773.59 309.00L773.24 316.30L772.04 316.30L771.64 311.00ZM768.74 323.20L769.04 318.80L770.44 317.50L770.74 320.00L770.44 323.20ZM770.44 317.50L771.64 311.00L772.04 313.00L770.74 319.50ZM773.64 317.00L774.34 317.00L775.14 322.60L774.04 322.90ZM773.24 312.00L773.64 312.00L774.34 317.00L773.64 317.50ZM779.21 305.00L781.11 305.00L781.26 309.00L780.91 316.30L779.71 316.30L779.31 311.00ZM776.41 323.20L776.71 318.80L778.11 317.50L778.41 320.00L778.11 323.20ZM778.11 317.50L779.31 311.00L779.71 313.00L778.41 319.50ZM781.31 317.00L782.01 317.00L782.81 322.60L781.71 322.90ZM780.91 312.00L781.31 312.00L782.01 317.00L781.31 317.50ZM786.88 305.00L788.78 305.00L788.93 309.00L788.58 316.30L787.38 316.30L786.98 311.00ZM784.08 323.20L784.38 318.80L785.78 317.50L786.08 320.00L785.78 323.20ZM785.78 317.50L786.98 311.00L787.38 313.00L786.08 319.50ZM788.98 317.00L789.68 317.00L790.48 322.60L789.38 322.90ZM788.58 312.00L788.98 312.00L789.68 317.00L788.98 317.50ZM794.55 305.00L796.45 305.00L796.60 309.00L796.25 316.30L795.05 316.30L794.65 311.00ZM791.75 323.20L792.05 318.80L793.45 317.50L793.75 320.00L793.45 323.20ZM793.45 317.50L794.65 311.00L795.05 313.00L793.75 319.50ZM796.65 317.00L797.35 317.00L798.15 322.60L797.05 322.90ZM796.25 312.00L796.65 312.00L797.35 317.00L796.65 317.50ZM802.22 305.00L804.12 305.00L804.27 309.00L803.92 316.30L802.72 316.30L802.32 311.00ZM799.42 323.20L799.72 318.80L801.12 317.50L801.42 320.00L801.12 323.20ZM801.12 317.50L802.32 311.00L802.72 313.00L801.42 319.50ZM804.32 317.00L805.02 317.00L805.82 322.60L804.72 322.90ZM803.92 312.00L804.32 312.00L805.02 317.00L804.32 317.50ZM809.89 305.00L811.79 305.00L811.94 309.00L811.59 316.30L810.39 316.30L809.99 311.00ZM807.09 323.20L807.39 318.80L808.79 317.50L809.09 320.00L808.79 323.20ZM808.79 317.50L809.99 311.00L810.39 313.00L809.09 319.50ZM811.99 317.00L812.69 317.00L813.49 322.60L812.39 322.90ZM811.59 312.00L811.99 312.00L812.69 317.00L811.99 317.50ZM817.56 305.00L819.46 305.00L819.61 309.00L819.26 316.30L818.06 316.30L817.66 311.00ZM814.76 323.20L815.06 318.80L816.46 317.50L816.76 320.00L816.46 323.20ZM816.46 317.50L817.66 311.00L818.06 313.00L816.76 319.50ZM819.66 317.00L820.36 317.00L821.16 322.60L820.06 322.90ZM819.26 312.00L819.66 312.00L820.36 317.00L819.66 317.50ZM825.23 305.00L827.13 305.00L827.28 309.00L826.93 316.30L825.73 316.30L825.33 311.00ZM822.43 323.20L822.73 318.80L824.13 317.50L824.43 320.00L824.13 323.20ZM824.13 317.50L825.33 311.00L825.73 313.00L824.43 319.50ZM827.33 317.00L828.03 317.00L828.83 322.60L827.73 322.90ZM826.93 312.00L827.33 312.00L828.03 317.00L827.33 317.50ZM832.90 305.00L834.80 305.00L834.95 309.00L834.60 316.30L833.40 316.30L833.00 311.00ZM830.10 323.20L830.40 318.80L831.80 317.50L832.10 320.00L831.80 323.20ZM831.80 317.50L833.00 311.00L833.40 313.00L832.10 319.50ZM835.00 317.00L835.70 317.00L836.50 322.60L835.40 322.90ZM834.60 312.00L835.00 312.00L835.70 317.00L835.00 317.50ZM840.57 305.00L842.47 305.00L842.62 309.00L842.27 316.30L841.07 316.30L840.67 311.00ZM837.77 323.20L838.07 318.80L839.47 317.50L839.77 320.00L839.47 323.20ZM839.47 317.50L840.67 311.00L841.07 313.00L839.77 319.50ZM842.67 317.00L843.37 317.00L844.17 322.60L843.07 322.90ZM842.27 312.00L842.67 312.00L843.37 317.00L842.67 317.50ZM848.24 305.00L850.14 305.00L850.29 309.00L849.94 316.30L848.74 316.30L848.34 311.00ZM845.44 323.20L845.74 318.80L847.14 317.50L847.44 320.00L847.14 323.20ZM847.14 317.50L848.34 311.00L848.74 313.00L847.44 319.50ZM850.34 317.00L851.04 317.00L851.84 322.60L850.74 322.90ZM849.94 312.00L850.34 312.00L851.04 317.00L850.34 317.50ZM855.91 305.00L857.81 305.00L857.96 309.00L857.61 316.30L856.41 316.30L856.01 311.00ZM853.11 323.20L853.41 318.80L854.81 317.50L855.11 320.00L854.81 323.20ZM854.81 317.50L856.01 311.00L856.41 313.00L855.11 319.50ZM858.01 317.00L858.71 317.00L859.51 322.60L858.41 322.90ZM857.61 312.00L858.01 312.00L858.71 317.00L858.01 317.50ZM863.58 305.00L865.48 305.00L865.63 309.00L865.28 316.30L864.08 316.30L863.68 311.00ZM860.78 323.20L861.08 318.80L862.48 317.50L862.78 320.00L862.48 323.20ZM862.48 317.50L863.68 311.00L864.08 313.00L862.78 319.50ZM865.68 317.00L866.38 317.00L867.18 322.60L866.08 322.90ZM865.28 312.00L865.68 312.00L866.38 317.00L865.68 317.50ZM871.25 305.00L873.15 305.00L873.30 309.00L872.95 316.30L871.75 316.30L871.35 311.00ZM868.45 323.20L868.75 318.80L870.15 317.50L870.45 320.00L870.15 323.20ZM870.15 317.50L871.35 311.00L871.75 313.00L870.45 319.50ZM873.35 317.00L874.05 317.00L874.85 322.60L873.75 322.90ZM872.95 312.00L873.35 312.00L874.05 317.00L873.35 317.50ZM878.92 305.00L880.82 305.00L880.97 309.00L880.62 316.30L879.42 316.30L879.02 311.00ZM876.12 323.20L876.42 318.80L877.82 317.50L878.12 320.00L877.82 323.20ZM877.82 317.50L879.02 311.00L879.42 313.00L878.12 319.50ZM881.02 317.00L881.72 317.00L882.52 322.60L881.42 322.90ZM880.62 312.00L881.02 312.00L881.72 317.00L881.02 317.50ZM886.59 305.00L888.49 305.00L888.64 309.00L888.29 316.30L887.09 316.30L886.69 311.00ZM883.79 323.20L884.09 318.80L885.49 317.50L885.79 320.00L885.49 323.20ZM885.49 317.50L886.69 311.00L887.09 313.00L885.79 319.50ZM888.69 317.00L889.39 317.00L890.19 322.60L889.09 322.90ZM888.29 312.00L888.69 312.00L889.39 317.00L888.69 317.50ZM894.26 305.00L896.16 305.00L896.31 309.00L895.96 316.30L894.76 316.30L894.36 311.00ZM891.46 323.20L891.76 318.80L893.16 317.50L893.46 320.00L893.16 323.20ZM893.16 317.50L894.36 311.00L894.76 313.00L893.46 319.50ZM896.36 317.00L897.06 317.00L897.86 322.60L896.76 322.90ZM895.96 312.00L896.36 312.00L897.06 317.00L896.36 317.50ZM901.93 305.00L903.83 305.00L903.98 309.00L903.63 316.30L902.43 316.30L902.03 311.00ZM899.13 323.20L899.43 318.80L900.83 317.50L901.13 320.00L900.83 323.20ZM900.83 317.50L902.03 311.00L902.43 313.00L901.13 319.50ZM904.03 317.00L904.73 317.00L905.53 322.60L904.43 322.90ZM903.63 312.00L904.03 312.00L904.73 317.00L904.03 317.50ZM909.60 305.00L911.50 305.00L911.65 309.00L911.30 316.30L910.10 316.30L909.70 311.00ZM906.80 323.20L907.10 318.80L908.50 317.50L908.80 320.00L908.50 323.20ZM908.50 317.50L909.70 311.00L910.10 313.00L908.80 319.50ZM911.70 317.00L912.40 317.00L913.20 322.60L912.10 322.90ZM911.30 312.00L911.70 312.00L912.40 317.00L911.70 317.50Z" fill="#dd3f2c" />
<path d="M129.93 323.60L130.33 321.20L132.03 321.20L132.33 323.60ZM137.60 323.60L138.00 321.20L139.70 321.20L140.00 323.60ZM145.27 323.60L145.67 321.20L147.37 321.20L147.67 323.60ZM152.94 323.60L153.34 321.20L155.04 321.20L155.34 323.60ZM160.61 323.60L161.01 321.20L162.71 321.20L163.01 323.60ZM168.28 323.60L168.68 321.20L170.38 321.20L170.68 323.60ZM175.95 323.60L176.35 321.20L178.05 321.20L178.35 323.60ZM183.62 323.60L184.02 321.20L185.72 321.20L186.02 323.60ZM191.29 323.60L191.69 321.20L193.39 321.20L193.69 323.60ZM198.96 323.60L199.36 321.20L201.06 321.20L201.36 323.60ZM206.63 323.60L207.03 321.20L208.73 321.20L209.03 323.60ZM214.30 323.60L214.70 321.20L216.40 321.20L216.70 323.60ZM221.97 323.60L222.37 321.20L224.07 321.20L224.37 323.60ZM229.64 323.60L230.04 321.20L231.74 321.20L232.04 323.60ZM237.31 323.60L237.71 321.20L239.41 321.20L239.71 323.60ZM244.98 323.60L245.38 321.20L247.08 321.20L247.38 323.60ZM252.65 323.60L253.05 321.20L254.75 321.20L255.05 323.60ZM260.32 323.60L260.72 321.20L262.42 321.20L262.72 323.60ZM267.99 323.60L268.39 321.20L270.09 321.20L270.39 323.60ZM275.66 323.60L276.06 321.20L277.76 321.20L278.06 323.60ZM283.33 323.60L283.73 321.20L285.43 321.20L285.73 323.60ZM291.00 323.60L291.40 321.20L293.10 321.20L293.40 323.60ZM298.67 323.60L299.07 321.20L300.77 321.20L301.07 323.60ZM306.34 323.60L306.74 321.20L308.44 321.20L308.74 323.60ZM314.01 323.60L314.41 321.20L316.11 321.20L316.41 323.60ZM321.68 323.60L322.08 321.20L323.78 321.20L324.08 323.60ZM329.35 323.60L329.75 321.20L331.45 321.20L331.75 323.60ZM337.02 323.60L337.42 321.20L339.12 321.20L339.42 323.60ZM344.69 323.60L345.09 321.20L346.79 321.20L347.09 323.60ZM352.36 323.60L352.76 321.20L354.46 321.20L354.76 323.60ZM360.03 323.60L360.43 321.20L362.13 321.20L362.43 323.60ZM367.70 323.60L368.10 321.20L369.80 321.20L370.10 323.60ZM375.37 323.60L375.77 321.20L377.47 321.20L377.77 323.60ZM383.04 323.60L383.44 321.20L385.14 321.20L385.44 323.60ZM390.71 323.60L391.11 321.20L392.81 321.20L393.11 323.60ZM398.38 323.60L398.78 321.20L400.48 321.20L400.78 323.60ZM406.05 323.60L406.45 321.20L408.15 321.20L408.45 323.60ZM413.72 323.60L414.12 321.20L415.82 321.20L416.12 323.60ZM421.39 323.60L421.79 321.20L423.49 321.20L423.79 323.60ZM429.06 323.60L429.46 321.20L431.16 321.20L431.46 323.60ZM436.73 323.60L437.13 321.20L438.83 321.20L439.13 323.60ZM444.40 323.60L444.80 321.20L446.50 321.20L446.80 323.60ZM452.07 323.60L452.47 321.20L454.17 321.20L454.47 323.60ZM459.74 323.60L460.14 321.20L461.84 321.20L462.14 323.60ZM467.41 323.60L467.81 321.20L469.51 321.20L469.81 323.60ZM475.08 323.60L475.48 321.20L477.18 321.20L477.48 323.60ZM482.75 323.60L483.15 321.20L484.85 321.20L485.15 323.60ZM490.42 323.60L490.82 321.20L492.52 321.20L492.82 323.60ZM498.09 323.60L498.49 321.20L500.19 321.20L500.49 323.60ZM505.76 323.60L506.16 321.20L507.86 321.20L508.16 323.60ZM513.43 323.60L513.83 321.20L515.53 321.20L515.83 323.60ZM521.10 323.60L521.50 321.20L523.20 321.20L523.50 323.60ZM528.77 323.60L529.17 321.20L530.87 321.20L531.17 323.60ZM536.44 323.60L536.84 321.20L538.54 321.20L538.84 323.60ZM544.11 323.60L544.51 321.20L546.21 321.20L546.51 323.60ZM551.78 323.60L552.18 321.20L553.88 321.20L554.18 323.60ZM559.45 323.60L559.85 321.20L561.55 321.20L561.85 323.60ZM567.12 323.60L567.52 321.20L569.22 321.20L569.52 323.60ZM574.79 323.60L575.19 321.20L576.89 321.20L577.19 323.60ZM582.46 323.60L582.86 321.20L584.56 321.20L584.86 323.60ZM590.13 323.60L590.53 321.20L592.23 321.20L592.53 323.60ZM597.80 323.60L598.20 321.20L599.90 321.20L600.20 323.60ZM605.47 323.60L605.87 321.20L607.57 321.20L607.87 323.60ZM613.14 323.60L613.54 321.20L615.24 321.20L615.54 323.60ZM620.81 323.60L621.21 321.20L622.91 321.20L623.21 323.60ZM628.48 323.60L628.88 321.20L630.58 321.20L630.88 323.60ZM636.15 323.60L636.55 321.20L638.25 321.20L638.55 323.60ZM643.82 323.60L644.22 321.20L645.92 321.20L646.22 323.60ZM651.49 323.60L651.89 321.20L653.59 321.20L653.89 323.60ZM659.16 323.60L659.56 321.20L661.26 321.20L661.56 323.60ZM666.83 323.60L667.23 321.20L668.93 321.20L669.23 323.60ZM674.50 323.60L674.90 321.20L676.60 321.20L676.90 323.60ZM682.17 323.60L682.57 321.20L684.27 321.20L684.57 323.60ZM689.84 323.60L690.24 321.20L691.94 321.20L692.24 323.60ZM697.51 323.60L697.91 321.20L699.61 321.20L699.91 323.60ZM705.18 323.60L705.58 321.20L707.28 321.20L707.58 323.60ZM712.85 323.60L713.25 321.20L714.95 321.20L715.25 323.60ZM720.52 323.60L720.92 321.20L722.62 321.20L722.92 323.60ZM728.19 323.60L728.59 321.20L730.29 321.20L730.59 323.60ZM735.86 323.60L736.26 321.20L737.96 321.20L738.26 323.60ZM743.53 323.60L743.93 321.20L745.63 321.20L745.93 323.60ZM751.20 323.60L751.60 321.20L753.30 321.20L753.60 323.60ZM758.87 323.60L759.27 321.20L760.97 321.20L761.27 323.60ZM766.54 323.60L766.94 321.20L768.64 321.20L768.94 323.60ZM774.21 323.60L774.61 321.20L776.31 321.20L776.61 323.60ZM781.88 323.60L782.28 321.20L783.98 321.20L784.28 323.60ZM789.55 323.60L789.95 321.20L791.65 321.20L791.95 323.60ZM797.22 323.60L797.62 321.20L799.32 321.20L799.62 323.60ZM804.89 323.60L805.29 321.20L806.99 321.20L807.29 323.60ZM812.56 323.60L812.96 321.20L814.66 321.20L814.96 323.60ZM820.23 323.60L820.63 321.20L822.33 321.20L822.63 323.60ZM827.90 323.60L828.30 321.20L830.00 321.20L830.30 323.60ZM835.57 323.60L835.97 321.20L837.67 321.20L837.97 323.60ZM843.24 323.60L843.64 321.20L845.34 321.20L845.64 323.60ZM850.91 323.60L851.31 321.20L853.01 321.20L853.31 323.60ZM858.58 323.60L858.98 321.20L860.68 321.20L860.98 323.60ZM866.25 323.60L866.65 321.20L868.35 321.20L868.65 323.60ZM873.92 323.60L874.32 321.20L876.02 321.20L876.32 323.60ZM881.59 323.60L881.99 321.20L883.69 321.20L883.99 323.60ZM889.26 323.60L889.66 321.20L891.36 321.20L891.66 323.60ZM896.93 323.60L897.33 321.20L899.03 321.20L899.33 323.60ZM904.60 323.60L905.00 321.20L906.70 321.20L907.00 323.60Z" fill="#ececec" />
<path d="M130.73 316.00L133.63 316.00L133.63 318.90L130.73 318.90ZM138.40 316.00L141.30 316.00L141.30 318.90L138.40 318.90ZM146.07 316.00L148.97 316.00L148.97 318.90L146.07 318.90ZM153.74 316.00L156.64 316.00L156.64 318.90L153.74 318.90ZM161.41 316.00L164.31 316.00L164.31 318.90L161.41 318.90ZM169.08 316.00L171.98 316.00L171.98 318.90L169.08 318.90ZM176.75 316.00L179.65 316.00L179.65 318.90L176.75 318.90ZM184.42 316.00L187.32 316.00L187.32 318.90L184.42 318.90ZM192.09 316.00L194.99 316.00L194.99 318.90L192.09 318.90ZM199.76 316.00L202.66 316.00L202.66 318.90L199.76 318.90ZM207.43 316.00L210.33 316.00L210.33 318.90L207.43 318.90ZM215.10 316.00L218.00 316.00L218.00 318.90L215.10 318.90ZM222.77 316.00L225.67 316.00L225.67 318.90L222.77 318.90ZM230.44 316.00L233.34 316.00L233.34 318.90L230.44 318.90ZM238.11 316.00L241.01 316.00L241.01 318.90L238.11 318.90ZM245.78 316.00L248.68 316.00L248.68 318.90L245.78 318.90ZM253.45 316.00L256.35 316.00L256.35 318.90L253.45 318.90ZM261.12 316.00L264.02 316.00L264.02 318.90L261.12 318.90ZM268.79 316.00L271.69 316.00L271.69 318.90L268.79 318.90ZM276.46 316.00L279.36 316.00L279.36 318.90L276.46 318.90ZM284.13 316.00L287.03 316.00L287.03 318.90L284.13 318.90ZM291.80 316.00L294.70 316.00L294.70 318.90L291.80 318.90ZM299.47 316.00L302.37 316.00L302.37 318.90L299.47 318.90ZM307.14 316.00L310.04 316.00L310.04 318.90L307.14 318.90ZM314.81 316.00L317.71 316.00L317.71 318.90L314.81 318.90ZM322.48 316.00L325.38 316.00L325.38 318.90L322.48 318.90ZM330.15 316.00L333.05 316.00L333.05 318.90L330.15 318.90ZM337.82 316.00L340.72 316.00L340.72 318.90L337.82 318.90ZM345.49 316.00L348.39 316.00L348.39 318.90L345.49 318.90ZM353.16 316.00L356.06 316.00L356.06 318.90L353.16 318.90ZM360.83 316.00L363.73 316.00L363.73 318.90L360.83 318.90ZM368.50 316.00L371.40 316.00L371.40 318.90L368.50 318.90ZM376.17 316.00L379.07 316.00L379.07 318.90L376.17 318.90ZM383.84 316.00L386.74 316.00L386.74 318.90L383.84 318.90ZM391.51 316.00L394.41 316.00L394.41 318.90L391.51 318.90ZM399.18 316.00L402.08 316.00L402.08 318.90L399.18 318.90ZM406.85 316.00L409.75 316.00L409.75 318.90L406.85 318.90ZM414.52 316.00L417.42 316.00L417.42 318.90L414.52 318.90ZM422.19 316.00L425.09 316.00L425.09 318.90L422.19 318.90ZM429.86 316.00L432.76 316.00L432.76 318.90L429.86 318.90ZM437.53 316.00L440.43 316.00L440.43 318.90L437.53 318.90ZM445.20 316.00L448.10 316.00L448.10 318.90L445.20 318.90ZM452.87 316.00L455.77 316.00L455.77 318.90L452.87 318.90ZM460.54 316.00L463.44 316.00L463.44 318.90L460.54 318.90ZM468.21 316.00L471.11 316.00L471.11 318.90L468.21 318.90ZM475.88 316.00L478.78 316.00L478.78 318.90L475.88 318.90ZM483.55 316.00L486.45 316.00L486.45 318.90L483.55 318.90ZM491.22 316.00L494.12 316.00L494.12 318.90L491.22 318.90ZM498.89 316.00L501.79 316.00L501.79 318.90L498.89 318.90ZM506.56 316.00L509.46 316.00L509.46 318.90L506.56 318.90ZM514.23 316.00L517.13 316.00L517.13 318.90L514.23 318.90ZM521.90 316.00L524.80 316.00L524.80 318.90L521.90 318.90ZM529.57 316.00L532.47 316.00L532.47 318.90L529.57 318.90ZM537.24 316.00L540.14 316.00L540.14 318.90L537.24 318.90ZM544.91 316.00L547.81 316.00L547.81 318.90L544.91 318.90ZM552.58 316.00L555.48 316.00L555.48 318.90L552.58 318.90ZM560.25 316.00L563.15 316.00L563.15 318.90L560.25 318.90ZM567.92 316.00L570.82 316.00L570.82 318.90L567.92 318.90ZM575.59 316.00L578.49 316.00L578.49 318.90L575.59 318.90ZM583.26 316.00L586.16 316.00L586.16 318.90L583.26 318.90ZM590.93 316.00L593.83 316.00L593.83 318.90L590.93 318.90ZM598.60 316.00L601.50 316.00L601.50 318.90L598.60 318.90ZM606.27 316.00L609.17 316.00L609.17 318.90L606.27 318.90ZM613.94 316.00L616.84 316.00L616.84 318.90L613.94 318.90ZM621.61 316.00L624.51 316.00L624.51 318.90L621.61 318.90ZM629.28 316.00L632.18 316.00L632.18 318.90L629.28 318.90ZM636.95 316.00L639.85 316.00L639.85 318.90L636.95 318.90ZM644.62 316.00L647.52 316.00L647.52 318.90L644.62 318.90ZM652.29 316.00L655.19 316.00L655.19 318.90L652.29 318.90ZM659.96 316.00L662.86 316.00L662.86 318.90L659.96 318.90ZM667.63 316.00L670.53 316.00L670.53 318.90L667.63 318.90ZM675.30 316.00L678.20 316.00L678.20 318.90L675.30 318.90ZM682.97 316.00L685.87 316.00L685.87 318.90L682.97 318.90ZM690.64 316.00L693.54 316.00L693.54 318.90L690.64 318.90ZM698.31 316.00L701.21 316.00L701.21 318.90L698.31 318.90ZM705.98 316.00L708.88 316.00L708.88 318.90L705.98 318.90ZM713.65 316.00L716.55 316.00L716.55 318.90L713.65 318.90ZM721.32 316.00L724.22 316.00L724.22 318.90L721.32 318.90ZM728.99 316.00L731.89 316.00L731.89 318.90L728.99 318.90ZM736.66 316.00L739.56 316.00L739.56 318.90L736.66 318.90ZM744.33 316.00L747.23 316.00L747.23 318.90L744.33 318.90ZM752.00 316.00L754.90 316.00L754.90 318.90L752.00 318.90ZM759.67 316.00L762.57 316.00L762.57 318.90L759.67 318.90ZM767.34 316.00L770.24 316.00L770.24 318.90L767.34 318.90ZM775.01 316.00L777.91 316.00L777.91 318.90L775.01 318.90ZM782.68 316.00L785.58 316.00L785.58 318.90L782.68 318.90ZM790.35 316.00L793.25 316.00L793.25 318.90L790.35 318.90ZM798.02 316.00L800.92 316.00L800.92 318.90L798.02 318.90ZM805.69 316.00L808.59 316.00L808.59 318.90L805.69 318.90ZM813.36 316.00L816.26 316.00L816.26 318.90L813.36 318.90ZM821.03 316.00L823.93 316.00L823.93 318.90L821.03 318.90ZM828.70 316.00L831.60 316.00L831.60 318.90L828.70 318.90ZM836.37 316.00L839.27 316.00L839.27 318.90L836.37 318.90ZM844.04 316.00L846.94 316.00L846.94 318.90L844.04 318.90ZM851.71 316.00L854.61 316.00L854.61 318.90L851.71 318.90ZM859.38 316.00L862.28 316.00L862.28 318.90L859.38 318.90ZM867.05 316.00L869.95 316.00L869.95 318.90L867.05 318.90ZM874.72 316.00L877.62 316.00L877.62 318.90L874.72 318.90ZM882.39 316.00L885.29 316.00L885.29 318.90L882.39 318.90ZM890.06 316.00L892.96 316.00L892.96 318.90L890.06 318.90ZM897.73 316.00L900.63 316.00L900.63 318.90L897.73 318.90ZM905.40 316.00L908.30 316.00L908.30 318.90L905.40 318.90Z" fill="#70767a" />
</g>
<g clip-path="url(#cb)" fill="none" stroke-width="1.4">
<path d="M138.5 475.7H139.70V487.10H143.53V475.70H147.37V487.10H151.21V475.70H155.04V487.10H158.88V475.70H162.71V487.10H166.55V475.70H170.38V487.10H174.22V475.70H178.05V487.10H181.89V475.70H185.72V487.10H189.56V475.70H193.39V487.10H197.23V475.70H201.06V487.10H204.90V475.70H208.73V487.10H212.57V475.70H216.40V487.10H220.24V475.70H224.07V487.10H227.91V475.70H231.74V487.10H235.58V475.70H239.41V487.10H243.25V475.70H247.08V487.10H250.92V475.70H254.75V487.10H258.59V475.70H262.42V487.10H266.26V475.70H270.09V487.10H273.93V475.70H277.76V487.10H281.60V475.70H285.43V487.10H289.27V475.70H293.10V487.10H296.94V475.70H300.77V487.10H304.60V475.70H308.44V487.10H312.27V475.70H316.11V487.10H319.94V475.70H323.78V487.10H327.61V475.70H331.45V487.10H335.28V475.70H339.12V487.10H342.95V475.70H346.79V487.10H350.62V475.70H354.46V487.10H358.29V475.70H362.13V487.10H365.96V475.70H369.80V487.10H373.63V475.70H377.47V487.10H381.30V475.70H385.14V487.10H388.97V475.70H392.81V487.10H396.64V475.70H400.48V487.10H404.31V475.70H408.15V487.10H411.98V475.70H415.82V487.10H419.65V475.70H423.49V487.10H427.32V475.70H431.16V487.10H434.99V475.70H438.83V487.10H442.66V475.70H446.50V487.10H450.33V475.70H454.17V487.10H458.00V475.70H461.84V487.10H465.67V475.70H469.51V487.10H473.34V475.70H477.18V487.10H481.01V475.70H484.85V487.10H488.68V475.70H492.52V487.10H496.35V475.70H500.19V487.10H504.02V475.70H507.86V487.10H511.69V475.70H515.53V487.10H519.36V475.70H523.20V487.10H527.03V475.70H530.87V487.10H534.70V475.70H538.54V487.10H542.37V475.70H546.21V487.10H550.04V475.70H553.88V487.10H557.71V475.70H561.55V487.10H565.38V475.70H569.22V487.10H573.05V475.70H576.89V487.10H580.72V475.70H584.56V487.10H588.39V475.70H592.23V487.10H596.06V475.70H599.90V487.10H603.73V475.70H607.57V487.10H611.40V475.70H615.24V487.10H619.07V475.70H622.91V487.10H626.74V475.70H630.58V487.10H634.41V475.70H638.25V487.10H642.09V475.70H645.92V487.10H649.76V475.70H653.59V487.10H657.43V475.70H661.26V487.10H665.10V475.70H668.93V487.10H672.77V475.70H676.60V487.10H680.44V475.70H684.27V487.10H688.11V475.70H691.94V487.10H695.78V475.70H699.61V487.10H703.45V475.70H707.28V487.10H711.12V475.70H714.95V487.10H718.79V475.70H722.62V487.10H726.46V475.70H730.29V487.10H734.13V475.70H737.96V487.10H741.80V475.70H745.63V487.10H749.47V475.70H753.30V487.10H757.14V475.70H760.97V487.10H764.81V475.70H768.64V487.10H772.48V475.70H776.31V487.10H780.15V475.70H783.98V487.10H787.82V475.70H791.65V487.10H795.49V475.70H799.32V487.10H803.16V475.70H806.99V487.10H810.83V475.70H814.66V487.10H818.50V475.70H822.33V487.10H826.17V475.70H830.00V487.10H833.84V475.70H837.67V487.10H841.51V475.70H845.34V487.10H849.18V475.70H853.01V487.10H856.85V475.70H860.68V487.10H864.52V475.70H868.35V487.10H872.19V475.70H876.02V487.10H879.86V475.70H883.69V487.10H887.53V475.70H891.36V487.10H895.20V475.70H899.03V487.10H902.87V475.70H906" stroke="#E24A33" stroke-linejoin="miter"/>
<path d="M138.5 488.8H141.50V500.00H145.34V488.80H149.17V500.00H153.01V488.80H156.84V500.00H160.68V488.80H164.51V500.00H168.35V488.80H172.18V500.00H176.02V488.80H179.85V500.00H183.69V488.80H187.52V500.00H191.36V488.80H195.19V500.00H199.03V488.80H202.86V500.00H206.70V488.80H210.53V500.00H214.67M214.07 488.80H218.20V500.00H222.04V488.80H225.87V500.00H229.71V488.80H233.54V500.00H237.38V488.80H241.21V500.00H245.05V488.80H248.88V500.00H252.72V488.80H256.55V500.00H260.39V488.80H264.22V500.00H268.06V488.80H271.89V500.00H275.73V488.80H279.56V500.00H283.40V488.80H287.23V500.00H291.37M290.77 488.80H294.90V500.00H298.74V488.80H302.57V500.00H306.40V488.80H310.24V500.00H314.07V488.80H317.91V500.00H321.74V488.80H325.58V500.00H329.41V488.80H333.25V500.00H337.08V488.80H340.92V500.00H344.75V488.80H348.59V500.00H352.42V488.80H356.26V500.00H360.09V488.80H363.93V500.00H368.06M367.46 488.80H371.60V500.00H375.43V488.80H379.27V500.00H383.10V488.80H386.94V500.00H390.77V488.80H394.61V500.00H398.44V488.80H402.28V500.00H406.11V488.80H409.95V500.00H413.78V488.80H417.62V500.00H421.45V488.80H425.29V500.00H429.12V488.80H432.96V500.00H436.79V488.80H440.63V500.00H444.76M444.16 488.80H448.30V500.00H452.13V488.80H455.97V500.00H459.80V488.80H463.64V500.00H467.47V488.80H471.31V500.00H475.14V488.80H478.98V500.00H482.81V488.80H486.65V500.00H490.48V488.80H494.32V500.00H498.15V488.80H501.99V500.00H505.82V488.80H509.66V500.00H513.49V488.80H517.33V500.00H521.46M520.86 488.80H525.00V500.00H528.83V488.80H532.67V500.00H536.50V488.80H540.34V500.00H544.17V488.80H548.01V500.00H551.84V488.80H555.68V500.00H559.51V488.80H563.35V500.00H567.18V488.80H571.02V500.00H574.85V488.80H578.69V500.00H582.52V488.80H586.36V500.00H590.19V488.80H594.03V500.00H598.16M597.56 488.80H601.70V500.00H605.53V488.80H609.37V500.00H613.20V488.80H617.04V500.00H620.87V488.80H624.71V500.00H628.54V488.80H632.38V500.00H636.22V488.80H640.05V500.00H643.89V488.80H647.72V500.00H651.56V488.80H655.39V500.00H659.23V488.80H663.06V500.00H666.90V488.80H670.73V500.00H674.87M674.27 488.80H678.40V500.00H682.24V488.80H686.07V500.00H689.91V488.80H693.74V500.00H697.58V488.80H701.41V500.00H705.25V488.80H709.08V500.00H712.92V488.80H716.75V500.00H720.59V488.80H724.42V500.00H728.26V488.80H732.09V500.00H735.93V488.80H739.76V500.00H743.60V488.80H747.43V500.00H751.57M750.97 488.80H755.10V500.00H758.94V488.80H762.77V500.00H766.61V488.80H770.44V500.00H774.28V488.80H778.11V500.00H781.95V488.80H785.78V500.00H789.62V488.80H793.45V500.00H797.29V488.80H801.12V500.00H804.96V488.80H808.79V500.00H812.63V488.80H816.46V500.00H820.30V488.80H824.13V500.00H828.27M827.67 488.80H831.80V500.00H835.64V488.80H839.47V500.00H843.31V488.80H847.14V500.00H850.98V488.80H854.81V500.00H858.65V488.80H862.48V500.00H866.32V488.80H870.15V500.00H873.99V488.80H877.82V500.00H881.66V488.80H885.49V500.00H889.33V488.80H893.16V500.00H897.00V488.80H900.83V500.00H904.97M909.67 488.80H906" stroke="#348ABD" stroke-linejoin="miter"/>
<path d="M139 512.70H905" stroke="#988ED5"/>
<path d="M139 513.90H905" stroke="#777777"/>
<path d="M139 526.70H905" stroke="#FBC15E"/>
<path d="M139 539.50H905" stroke="#8EBA42"/>
<path d="M139 564.00H905" stroke="#FFB5B8"/>
<path d="M139 576.45H905" stroke="#E24A33"/>
<path d="M139 577.90H905" stroke="#348ABD"/>
<path d="M139 590.90H905" stroke="#988ED5"/>
<path d="M139 615.10H905" stroke="#777777"/>
<path d="M139 627.80H905" stroke="#FBC15E"/>
<path d="M139 629.00H905" stroke="#8EBA42"/>
<path d="M139 642.00H905" stroke="#FFB5B8"/>
<path d="M139 654.60H905" stroke="#E24A33"/>
<path d="M213.50 512.70h1.6M290.20 512.70h1.6M366.90 512.70h1.6M443.60 512.70h1.6M520.30 512.70h1.6M597.00 512.70h1.6M673.70 512.70h1.6M750.40 512.70h1.6M827.10 512.70h1.6" stroke="#857cbb" stroke-width="1.6"/>
<path d="M213.50 513.90h1.6M290.20 513.90h1.6M366.90 513.90h1.6M443.60 513.90h1.6M520.30 513.90h1.6M597.00 513.90h1.6M673.70 513.90h1.6M750.40 513.90h1.6M827.10 513.90h1.6" stroke="#686868" stroke-width="1.6"/>
<path d="M213.50 526.70h1.6M290.20 526.70h1.6M366.90 526.70h1.6M443.60 526.70h1.6M520.30 526.70h1.6M597.00 526.70h1.6M673.70 526.70h1.6M750.40 526.70h1.6M827.10 526.70h1.6" stroke="#dca952" stroke-width="1.6"/>
<path d="M213.50 539.50h1.6M290.20 539.50h1.6M366.90 539.50h1.6M443.60 539.50h1.6M520.30 539.50h1.6M597.00 539.50h1.6M673.70 539.50h1.6M750.40 539.50h1.6M827.10 539.50h1.6" stroke="#7ca33a" stroke-width="1.6"/>
<path d="M213.50 564.00h1.6M290.20 564.00h1.6M366.90 564.00h1.6M443.60 564.00h1.6M520.30 564.00h1.6M597.00 564.00h1.6M673.70 564.00h1.6M750.40 564.00h1.6M827.10 564.00h1.6" stroke="#e09fa1" stroke-width="1.6"/>
<path d="M213.50 576.45h1.6M290.20 576.45h1.6M366.90 576.45h1.6M443.60 576.45h1.6M520.30 576.45h1.6M597.00 576.45h1.6M673.70 576.45h1.6M750.40 576.45h1.6M827.10 576.45h1.6" stroke="#c6412c" stroke-width="1.6"/>
<path d="M213.50 577.90h1.6M290.20 577.90h1.6M366.90 577.90h1.6M443.60 577.90h1.6M520.30 577.90h1.6M597.00 577.90h1.6M673.70 577.90h1.6M750.40 577.90h1.6M827.10 577.90h1.6" stroke="#2d79a6" stroke-width="1.6"/>
<path d="M213.50 590.90h1.6M290.20 590.90h1.6M366.90 590.90h1.6M443.60 590.90h1.6M520.30 590.90h1.6M597.00 590.90h1.6M673.70 590.90h1.6M750.40 590.90h1.6M827.10 590.90h1.6" stroke="#857cbb" stroke-width="1.6"/>
<path d="M213.50 615.10h1.6M290.20 615.10h1.6M366.90 615.10h1.6M443.60 615.10h1.6M520.30 615.10h1.6M597.00 615.10h1.6M673.70 615.10h1.6M750.40 615.10h1.6M827.10 615.10h1.6" stroke="#686868" stroke-width="1.6"/>
<path d="M213.50 627.80h1.6M290.20 627.80h1.6M366.90 627.80h1.6M443.60 627.80h1.6M520.30 627.80h1.6M597.00 627.80h1.6M673.70 627.80h1.6M750.40 627.80h1.6M827.10 627.80h1.6" stroke="#dca952" stroke-width="1.6"/>
<path d="M213.50 629.00h1.6M290.20 629.00h1.6M366.90 629.00h1.6M443.60 629.00h1.6M520.30 629.00h1.6M597.00 629.00h1.6M673.70 629.00h1.6M750.40 629.00h1.6M827.10 629.00h1.6" stroke="#7ca33a" stroke-width="1.6"/>
<path d="M213.50 642.00h1.6M290.20 642.00h1.6M366.90 642.00h1.6M443.60 642.00h1.6M520.30 642.00h1.6M597.00 642.00h1.6M673.70 642.00h1.6M750.40 642.00h1.6M827.10 642.00h1.6" stroke="#e09fa1" stroke-width="1.6"/>
<path d="M213.50 654.60h1.6M290.20 654.60h1.6M366.90 654.60h1.6M443.60 654.60h1.6M520.30 654.60h1.6M597.00 654.60h1.6M673.70 654.60h1.6M750.40 654.60h1.6M827.10 654.60h1.6" stroke="#c6412c" stroke-width="1.6"/>
</g>
<path d="M138.5 74.0V80.0M138.5 372.0V378.0M138.5 423.0V429.0M138.5 721.0V727.0M291.5 74.0V80.0M291.5 372.0V378.0M291.5 423.0V429.0M291.5 721.0V727.0M444.5 74.0V80.0M444.5 372.0V378.0M444.5 423.0V429.0M444.5 721.0V727.0M598.5 74.0V80.0M598.5 372.0V378.0M598.5 423.0V429.0M598.5 721.0V727.0M751.5 74.0V80.0M751.5 372.0V378.0M751.5 423.0V429.0M751.5 721.0V727.0M132.0 80.5H138.0M906.0 80.5H912.0M132.0 128.5H138.0M906.0 128.5H912.0M132.0 177.5H138.0M906.0 177.5H912.0M132.0 225.5H138.0M906.0 225.5H912.0M132.0 274.5H138.0M906.0 274.5H912.0M132.0 322.5H138.0M906.0 322.5H912.0M132.0 371.5H138.0M906.0 371.5H912.0" stroke="#555" stroke-width="0.7" fill="none"/>
<g font-size="13.89" fill="#555" letter-spacing="-0.22">
<text x="137.90" y="741.7" text-anchor="middle">0.0000000</text>
<text x="291.35" y="741.7" text-anchor="middle">0.0000002</text>
<text x="444.80" y="741.7" text-anchor="middle">0.0000004</text>
<text x="598.25" y="741.7" text-anchor="middle">0.0000006</text>
<text x="751.70" y="741.7" text-anchor="middle">0.0000008</text>
<text x="905.15" y="741.7" text-anchor="middle">0.0000010</text>
<text x="125.8" y="83.90" text-anchor="end">1.5</text>
<text x="125.8" y="131.90" text-anchor="end">1.0</text>
<text x="125.8" y="180.90" text-anchor="end">0.5</text>
<text x="125.8" y="228.90" text-anchor="end">0.0</text>
<text x="125.8" y="277.90" text-anchor="end">−0.5</text>
<text x="125.8" y="325.90" text-anchor="end">−1.0</text>
<text x="125.8" y="374.90" text-anchor="end">−1.5</text>
</g>
<text x="521.3" y="765.8" font-size="16.67" text-anchor="middle" fill="#555">t</text>
<rect x="914" y="89.1" width="165" height="399.6" fill="#E5E5E5"/>
<g font-size="16.67" fill="#000" letter-spacing="-0.14">
<path d="M925 103.50H949" stroke="#E24A33" stroke-width="1.4"/>
<text x="967" y="108.60">B_extx</text>
<path d="M925 130.50H949" stroke="#348ABD" stroke-width="1.4"/>
<text x="967" y="135.60">B_exty</text>
<path d="M925 156.50H949" stroke="#988ED5" stroke-width="1.4"/>
<text x="967" y="161.60">B_extz</text>
<path d="M925 183.50H949" stroke="#777777" stroke-width="1.4"/>
<text x="967" y="188.60">m.region1x</text>
<path d="M925 209.50H949" stroke="#FBC15E" stroke-width="1.4"/>
<text x="967" y="214.60">m.region2x</text>
<path d="M925 236.50H949" stroke="#8EBA42" stroke-width="1.4"/>
<text x="967" y="241.60">m.region3x</text>
<path d="M925 262.50H949" stroke="#FFB5B8" stroke-width="1.4"/>
<text x="967" y="267.60">m.region4x</text>
<path d="M925 288.50H949" stroke="#E24A33" stroke-width="1.4"/>
<text x="967" y="293.60">m.region5x</text>
<path d="M925 315.50H949" stroke="#348ABD" stroke-width="1.4"/>
<text x="967" y="320.60">m.region6x</text>
<path d="M925 341.50H949" stroke="#988ED5" stroke-width="1.4"/>
<text x="967" y="346.60">m.region7y</text>
<path d="M925 367.50H949" stroke="#777777" stroke-width="1.4"/>
<text x="967" y="372.60">m.region8y</text>
<path d="M925 394.50H949" stroke="#FBC15E" stroke-width="1.4"/>
<text x="967" y="399.60">m.region9y</text>
<path d="M925 420.50H949" stroke="#8EBA42" stroke-width="1.4"/>
<text x="967" y="425.60">m.region10y</text>
<path d="M925 446.50H949" stroke="#FFB5B8" stroke-width="1.4"/>
<text x="967" y="451.60">m.region11y</text>
<path d="M925 473.50H949" stroke="#E24A33" stroke-width="1.4"/>
<text x="967" y="478.60">m.region12y</text>
</g>
</svg></body></html>
